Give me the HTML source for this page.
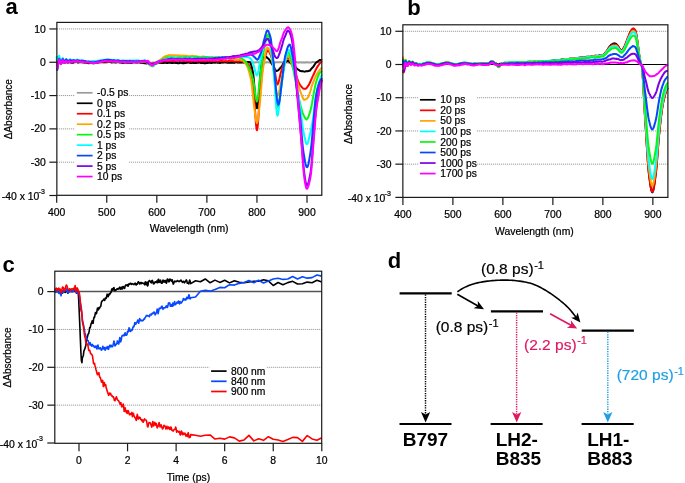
<!DOCTYPE html>
<html><head><meta charset="utf-8"><title>Figure</title>
<style>html,body{margin:0;padding:0;background:#fff;width:685px;height:483px;overflow:hidden}svg{display:block;will-change:transform}</style>
</head><body>
<svg width="685" height="483" viewBox="0 0 685 483" font-family='"Liberation Sans", sans-serif'>
<rect width="685" height="483" fill="#fff"/>
<text x="5.60" y="13.80" font-size="22" text-anchor="start" font-weight="bold" fill="#000" >a</text>
<text x="407.30" y="14.60" font-size="22" text-anchor="start" font-weight="bold" fill="#000" >b</text>
<text x="2.60" y="271.60" font-size="22" text-anchor="start" font-weight="bold" fill="#000" >c</text>
<text x="387.80" y="267.60" font-size="22" text-anchor="start" font-weight="bold" fill="#000" >d</text>
<line x1="56.85" y1="28.95" x2="321.80" y2="28.95" stroke="#8c8c8c" stroke-width="1" stroke-dasharray="1 1"/>
<line x1="56.85" y1="95.57" x2="321.80" y2="95.57" stroke="#8c8c8c" stroke-width="1" stroke-dasharray="1 1"/>
<line x1="56.85" y1="128.88" x2="321.80" y2="128.88" stroke="#8c8c8c" stroke-width="1" stroke-dasharray="1 1"/>
<line x1="56.85" y1="162.19" x2="321.80" y2="162.19" stroke="#8c8c8c" stroke-width="1" stroke-dasharray="1 1"/>
<rect x="75" y="87" width="54" height="95" fill="#fff"/>
<g fill="none" stroke-width="2.0" stroke-linejoin="round">
<path d="M56.70,61.73L57.20,62.46L57.70,62.37L58.20,62.03L58.70,61.59L59.20,61.43L59.70,61.79L60.20,62.18L60.70,62.53L61.21,62.59L61.71,62.29L62.21,62.12L62.71,61.92L63.21,62.19L63.71,62.63L64.21,62.88L64.71,62.89L65.21,62.69L65.71,62.34L66.21,62.01L66.71,62.03L67.21,62.28L67.71,62.50L68.21,62.56L68.71,62.46L69.22,62.24L69.72,62.15L70.22,62.23L70.72,62.39L71.22,62.22L71.72,62.29L72.22,62.16L72.72,61.92L73.22,62.03L73.72,61.94L74.22,61.96L74.72,62.09L75.22,62.19L75.72,62.16L76.22,61.99L76.72,62.12L77.22,61.89L77.73,61.91L78.23,62.14L78.73,61.81L79.23,61.83L79.73,61.96L80.23,61.88L80.73,62.02L81.23,62.14L81.73,62.00L82.23,62.05L82.73,62.07L83.23,61.92L83.73,62.06L84.23,62.05L84.73,62.19L85.23,62.36L85.73,62.44L86.24,62.54L86.74,62.53L87.24,62.47L87.74,62.25L88.24,62.35L88.74,62.45L89.24,62.51L89.74,62.85L90.24,62.79L90.74,62.74L91.24,62.69L91.74,62.44L92.24,62.44L92.74,62.47L93.24,62.62L93.74,62.53L94.25,62.52L94.75,62.49L95.25,62.40L95.75,62.54L96.25,62.48L96.75,62.53L97.25,62.54L97.75,62.53L98.25,62.36L98.75,62.15L99.25,62.12L99.75,61.98L100.25,62.10L100.75,62.02L101.25,61.97L101.75,61.94L102.25,61.99L102.76,62.02L103.26,62.15L103.76,62.38L104.26,62.25L104.76,62.36L105.26,62.16L105.76,61.72L106.26,61.78L106.76,61.75L107.26,61.75L107.76,61.94L108.26,61.88L108.76,61.85L109.26,61.81L109.76,61.82L110.26,61.92L110.76,61.92L111.27,62.00L111.77,62.17L112.27,62.06L112.77,62.15L113.27,62.07L113.77,61.96L114.27,61.99L114.77,61.98L115.27,62.10L115.77,62.33L116.27,62.47L116.77,62.38L117.27,62.59L117.77,62.32L118.27,62.39L118.77,62.36L119.28,62.25L119.78,62.26L120.28,62.09L120.78,62.33L121.28,62.13L121.78,62.07L122.28,62.10L122.78,61.98L123.28,62.13L123.78,62.38L124.28,62.27L124.78,62.31L125.28,62.30L125.78,62.29L126.28,62.46L126.78,62.53L127.28,62.40L127.79,62.34L128.29,62.18L128.79,62.05L129.29,62.25L129.79,62.26L130.29,62.42L130.79,62.42L131.29,62.39L131.79,62.38L132.29,62.46L132.79,62.55L133.29,62.34L133.79,62.38L134.29,62.35L134.79,62.23L135.29,62.26L135.79,62.34L136.30,62.25L136.80,62.35L137.30,62.67L137.80,62.45L138.30,62.43L138.80,62.36L139.30,62.26L139.80,62.28L140.30,62.34L140.80,62.36L141.30,62.39L141.80,62.56L142.30,62.37L142.80,62.41L143.30,62.27L143.80,62.15L144.31,62.33L144.81,62.34L145.31,62.33L145.81,62.39L146.31,62.41L146.81,62.41L147.31,62.42L147.81,62.39L148.31,62.40L148.81,62.52L149.31,62.84L149.81,62.87L150.31,62.86L150.81,62.85L151.31,62.69L151.81,62.71L152.31,62.71L152.82,62.55L153.32,62.57L153.82,62.41L154.32,62.52L154.82,62.43L155.32,62.24L155.82,62.23L156.32,61.87L156.82,61.79L157.32,61.95L157.82,62.21L158.32,62.31L158.82,62.56L159.32,62.45L159.82,62.20L160.32,62.44L160.82,62.55L161.33,62.53L161.83,62.60L162.33,62.47L162.83,62.25L163.33,62.36L163.83,62.52L164.33,62.51L164.83,62.61L165.33,62.69L165.83,62.49L166.33,62.48L166.83,62.34L167.33,62.27L167.83,62.39L168.33,62.48L168.83,62.61L169.34,62.49L169.84,62.51L170.34,62.37L170.84,62.25L171.34,62.07L171.84,62.13L172.34,62.07L172.84,62.12L173.34,62.32L173.84,62.33L174.34,62.46L174.84,62.38L175.34,62.38L175.84,62.23L176.34,62.21L176.84,62.17L177.34,62.17L177.85,62.40L178.35,62.44L178.85,62.75L179.35,63.07L179.85,62.90L180.35,62.70L180.85,62.50L181.35,62.29L181.85,62.33L182.35,62.35L182.85,62.34L183.35,62.22L183.85,62.13L184.35,62.24L184.85,62.18L185.35,62.13L185.85,62.10L186.36,62.21L186.86,62.24L187.36,62.36L187.86,62.27L188.36,62.30L188.86,62.36L189.36,62.29L189.86,62.53L190.36,62.23L190.86,62.08L191.36,62.12L191.86,61.91L192.36,62.05L192.86,62.45L193.36,62.38L193.86,62.46L194.37,62.49L194.87,62.34L195.37,62.39L195.87,62.40L196.37,62.29L196.87,62.15L197.37,62.13L197.87,61.96L198.37,62.13L198.87,62.20L199.37,62.38L199.87,62.38L200.37,62.23L200.87,62.10L201.37,61.85L201.87,61.99L202.37,62.07L202.88,62.19L203.38,62.27L203.88,62.28L204.38,62.15L204.88,62.07L205.38,62.05L205.88,62.12L206.38,62.33L206.88,62.23L207.38,62.17L207.88,62.11L208.38,62.08L208.88,62.35L209.38,62.41L209.88,62.32L210.38,62.33L210.88,62.24L211.39,62.26L211.89,62.33L212.39,62.45L212.89,62.45L213.39,62.52L213.89,62.44L214.39,62.36L214.89,62.28L215.39,62.04L215.89,62.16L216.39,62.14L216.89,62.18L217.39,62.33L217.89,62.40L218.39,62.29L218.89,62.11L219.40,62.14L219.90,62.06L220.40,62.21L220.90,62.38L221.40,62.48L221.90,62.57L222.40,62.34L222.90,62.46L223.40,62.23L223.90,61.96L224.40,62.06L224.90,61.92L225.40,61.83L225.90,62.00L226.40,62.09L226.90,62.28L227.40,62.47L227.91,62.30L228.41,62.15L228.91,62.11L229.41,62.20L229.91,62.39L230.41,62.46L230.91,62.39L231.41,62.28L231.91,62.20L232.41,62.26L232.91,62.24L233.41,62.24L233.91,62.28L234.41,62.20L234.91,62.01L235.41,61.97L235.91,61.96L236.42,62.18L236.92,62.32L237.42,62.58L237.92,62.73L238.42,62.47L238.92,62.44L239.42,62.26L239.92,62.29L240.42,62.41L240.92,62.55L241.42,62.47L241.92,62.08L242.42,62.02L242.92,62.03L243.42,62.21L243.92,62.44L244.43,62.48L244.93,62.52L245.43,62.39L245.93,62.50L246.43,62.37L246.93,62.15L247.43,62.05L247.93,61.98L248.43,62.04L248.93,62.16L249.43,62.31L249.93,62.29L250.43,62.48L250.93,62.61L251.43,62.49L251.93,62.47L252.43,62.32L252.94,62.08L253.44,62.33L253.94,62.39L254.44,62.39L254.94,62.45L255.44,62.32L255.94,62.14L256.44,62.13L256.94,62.30L257.44,62.35L257.94,62.37L258.44,62.35L258.94,62.42L259.44,62.19L259.94,62.21L260.44,62.12L260.94,61.97L261.45,62.13L261.95,62.31L262.45,62.19L262.95,62.17L263.45,61.98L263.95,61.93L264.45,62.17L264.95,62.32L265.45,62.51L265.95,62.35L266.45,62.49L266.95,62.22L267.45,62.15L267.95,62.35L268.45,62.27L268.95,62.43L269.46,62.47L269.96,62.41L270.46,62.45L270.96,62.43L271.46,62.53L271.96,62.60L272.46,62.53L272.96,62.41L273.46,62.46L273.96,62.33L274.46,62.39L274.96,62.58L275.46,62.34L275.96,62.39L276.46,62.17L276.96,62.15L277.46,62.20L277.97,62.17L278.47,62.40L278.97,62.26L279.47,62.31L279.97,62.23L280.47,62.16L280.97,62.33L281.47,62.32L281.97,62.38L282.47,62.28L282.97,62.26L283.47,62.25L283.97,62.43L284.47,62.46L284.97,62.48L285.47,62.66L285.97,62.49L286.48,62.44L286.98,62.49L287.48,62.42L287.98,62.48L288.48,62.71L288.98,62.52L289.48,62.49L289.98,62.49L290.48,62.32L290.98,62.43L291.48,62.31L291.98,62.33L292.48,62.51L292.98,62.62L293.48,62.48L293.98,62.41L294.49,62.27L294.99,62.08L295.49,62.25L295.99,62.22L296.49,62.05L296.99,62.15L297.49,62.32L297.99,62.43L298.49,62.75L298.99,62.58L299.49,62.34L299.99,62.33L300.49,62.34L300.99,62.45L301.49,62.39L301.99,62.58L302.49,62.39L303.00,62.46L303.50,62.49L304.00,62.32L304.50,62.40L305.00,62.44L305.50,62.64L306.00,62.40L306.50,62.29L307.00,62.18L307.50,62.17L308.00,62.49L308.50,62.62L309.00,62.58L309.50,62.50L310.00,62.32L310.50,62.39L311.00,62.40L311.51,62.39L312.01,62.25L312.51,61.95L313.01,61.96L313.51,62.03L314.01,62.17L314.51,62.42L315.01,62.48L315.51,62.41L316.01,62.51L316.51,62.38L317.01,62.32L317.51,62.29L318.01,62.20L318.51,62.34L319.01,62.42L319.51,62.47L320.02,62.51L320.52,62.41L321.02,62.32L321.52,62.43L322.02,62.37" stroke="#9b9b9b"/>
<path d="M56.70,61.68L57.20,62.75L57.70,62.92L58.20,62.51L58.70,61.96L59.20,61.85L59.70,62.12L60.20,62.61L60.70,63.03L61.21,62.97L61.71,62.61L62.21,62.39L62.71,62.14L63.21,62.18L63.71,62.50L64.21,62.55L64.71,62.71L65.21,62.59L65.71,62.30L66.21,62.14L66.71,62.08L67.21,62.37L67.71,62.55L68.21,62.53L68.71,62.36L69.22,62.04L69.72,62.13L70.22,62.15L70.72,62.35L71.22,62.73L71.72,62.58L72.22,62.79L72.72,62.81L73.22,62.55L73.72,62.44L74.22,62.37L74.72,62.28L75.22,62.08L75.72,62.03L76.22,61.96L76.72,61.96L77.22,62.24L77.73,62.49L78.23,62.48L78.73,62.45L79.23,62.33L79.73,62.15L80.23,62.25L80.73,62.31L81.23,62.28L81.73,62.36L82.23,62.23L82.73,62.21L83.23,62.33L83.73,62.37L84.23,62.59L84.73,62.83L85.23,62.78L85.73,62.86L86.24,62.76L86.74,62.79L87.24,62.90L87.74,62.97L88.24,63.12L88.74,63.22L89.24,63.26L89.74,63.14L90.24,63.05L90.74,62.90L91.24,62.89L91.74,62.92L92.24,63.25L92.74,63.21L93.24,63.15L93.74,63.15L94.25,62.68L94.75,62.52L95.25,62.51L95.75,62.52L96.25,62.58L96.75,62.71L97.25,62.70L97.75,62.60L98.25,62.44L98.75,62.36L99.25,62.33L99.75,62.36L100.25,62.38L100.75,62.32L101.25,62.12L101.75,62.18L102.25,62.28L102.76,62.25L103.26,62.27L103.76,62.03L104.26,62.13L104.76,62.18L105.26,62.20L105.76,62.37L106.26,62.37L106.76,62.18L107.26,62.17L107.76,62.06L108.26,61.97L108.76,61.98L109.26,62.07L109.76,62.02L110.26,62.08L110.76,62.29L111.27,62.26L111.77,62.46L112.27,62.32L112.77,62.22L113.27,62.35L113.77,62.29L114.27,62.41L114.77,62.37L115.27,62.35L115.77,62.42L116.27,62.28L116.77,62.16L117.27,61.90L117.77,61.87L118.27,61.98L118.77,62.06L119.28,62.29L119.78,62.41L120.28,62.43L120.78,62.55L121.28,62.63L121.78,62.71L122.28,62.88L122.78,62.87L123.28,62.87L123.78,62.73L124.28,62.57L124.78,62.59L125.28,62.55L125.78,62.49L126.28,62.60L126.78,62.70L127.28,62.77L127.79,62.71L128.29,62.62L128.79,62.66L129.29,62.59L129.79,62.73L130.29,62.65L130.79,62.74L131.29,62.81L131.79,62.82L132.29,62.64L132.79,62.39L133.29,62.29L133.79,62.18L134.29,62.23L134.79,62.35L135.29,62.38L135.79,62.33L136.30,62.48L136.80,62.39L137.30,62.41L137.80,62.34L138.30,62.23L138.80,62.26L139.30,62.15L139.80,62.57L140.30,62.70L140.80,62.80L141.30,62.85L141.80,62.61L142.30,62.74L142.80,62.92L143.30,62.96L143.80,63.13L144.31,63.17L144.81,63.10L145.31,63.23L145.81,63.45L146.31,63.38L146.81,63.38L147.31,63.32L147.81,62.99L148.31,63.20L148.81,63.49L149.31,63.77L149.81,64.16L150.31,64.28L150.81,64.14L151.31,64.28L151.81,64.13L152.31,64.22L152.82,64.17L153.32,63.92L153.82,63.92L154.32,63.69L154.82,63.68L155.32,63.64L155.82,63.68L156.32,63.57L156.82,63.24L157.32,62.90L157.82,62.53L158.32,62.40L158.82,62.61L159.32,62.65L159.82,62.78L160.32,62.85L160.82,62.81L161.33,62.94L161.83,62.98L162.33,62.97L162.83,63.05L163.33,63.09L163.83,62.82L164.33,62.81L164.83,62.72L165.33,62.63L165.83,62.78L166.33,62.89L166.83,62.88L167.33,62.84L167.83,62.88L168.33,62.75L168.83,62.57L169.34,62.73L169.84,62.75L170.34,62.81L170.84,62.81L171.34,62.94L171.84,63.01L172.34,63.01L172.84,63.09L173.34,62.83L173.84,62.63L174.34,62.73L174.84,62.72L175.34,62.81L175.84,63.01L176.34,62.80L176.84,62.96L177.34,63.14L177.85,63.11L178.35,63.31L178.85,63.28L179.35,63.04L179.85,62.97L180.35,62.66L180.85,62.61L181.35,62.80L181.85,62.91L182.35,63.16L182.85,63.26L183.35,63.06L183.85,63.05L184.35,63.15L184.85,62.96L185.35,63.01L185.85,62.91L186.36,62.70L186.86,62.71L187.36,62.69L187.86,62.60L188.36,62.57L188.86,62.59L189.36,62.56L189.86,62.83L190.36,62.88L190.86,62.95L191.36,62.97L191.86,62.96L192.36,62.78L192.86,62.74L193.36,62.88L193.86,62.91L194.37,63.10L194.87,63.12L195.37,63.07L195.87,62.89L196.37,62.93L196.87,62.86L197.37,62.86L197.87,62.87L198.37,62.71L198.87,62.51L199.37,62.53L199.87,62.57L200.37,62.76L200.87,62.93L201.37,62.95L201.87,62.95L202.37,62.86L202.88,63.04L203.38,63.02L203.88,63.01L204.38,63.22L204.88,63.26L205.38,63.21L205.88,63.14L206.38,62.95L206.88,62.98L207.38,62.99L207.88,62.92L208.38,62.84L208.88,62.67L209.38,62.71L209.88,62.73L210.38,62.84L210.88,62.95L211.39,62.94L211.89,62.85L212.39,62.77L212.89,62.54L213.39,62.50L213.89,62.55L214.39,62.63L214.89,62.76L215.39,62.47L215.89,62.48L216.39,62.47L216.89,62.46L217.39,62.68L217.89,62.63L218.39,62.63L218.89,62.79L219.40,62.85L219.90,62.97L220.40,62.91L220.90,62.60L221.40,62.54L221.90,62.46L222.40,62.58L222.90,62.62L223.40,62.44L223.90,62.45L224.40,62.31L224.90,62.38L225.40,62.41L225.90,62.58L226.40,62.61L226.90,62.58L227.40,62.68L227.91,62.63L228.41,62.59L228.91,62.66L229.41,62.72L229.91,62.68L230.41,62.83L230.91,62.80L231.41,62.72L231.91,62.80L232.41,62.71L232.91,62.64L233.41,62.83L233.91,62.71L234.41,62.79L234.91,62.74L235.41,62.40L235.91,62.21L236.42,62.12L236.92,62.16L237.42,62.37L237.92,62.56L238.42,62.38L238.92,62.58L239.42,62.48L239.92,62.49L240.42,62.50L240.92,62.34L241.42,62.51L241.92,62.47L242.42,62.53L242.92,62.51L243.42,62.36L243.92,62.39L244.43,62.62L244.93,62.47L245.43,62.39L245.93,62.26L246.43,61.97L246.93,61.90L247.43,61.96L247.93,62.00L248.43,61.99L248.93,61.95L249.43,62.04L249.93,62.13L250.43,62.96L250.93,64.43L251.43,65.78L251.93,67.83L252.43,70.05L252.94,72.30L253.44,76.02L253.94,81.46L254.44,87.77L254.94,93.84L255.44,98.71L255.94,103.02L256.44,106.58L256.94,108.19L257.44,106.78L257.94,103.16L258.44,99.00L258.94,93.88L259.44,87.24L259.94,80.15L260.44,73.61L260.94,68.89L261.45,65.38L261.95,62.25L262.45,60.00L262.95,58.43L263.45,57.85L263.95,57.24L264.45,56.84L264.95,56.56L265.45,56.19L265.95,56.57L266.45,56.92L266.95,57.44L267.45,58.03L267.95,58.29L268.45,58.72L268.95,59.30L269.46,59.96L269.96,60.77L270.46,61.43L270.96,62.48L271.46,63.26L271.96,64.09L272.46,64.86L272.96,65.52L273.46,66.59L273.96,67.38L274.46,68.47L274.96,69.37L275.46,70.16L275.96,70.76L276.46,70.99L276.96,70.93L277.46,70.69L277.97,70.32L278.47,69.96L278.97,69.57L279.47,68.92L279.97,68.30L280.47,67.72L280.97,67.15L281.47,66.57L281.97,65.86L282.47,65.04L282.97,64.04L283.47,63.28L283.97,62.62L284.47,62.23L284.97,62.07L285.47,61.78L285.97,61.68L286.48,61.24L286.98,61.13L287.48,60.91L287.98,60.75L288.48,61.11L288.98,61.45L289.48,61.95L289.98,62.48L290.48,62.84L290.98,63.23L291.48,63.83L291.98,64.23L292.48,64.85L292.98,65.19L293.48,65.48L293.98,65.94L294.49,66.16L294.99,66.58L295.49,67.06L295.99,67.57L296.49,68.08L296.99,68.79L297.49,69.24L297.99,69.40L298.49,69.87L298.99,70.04L299.49,70.45L299.99,70.87L300.49,70.99L300.99,71.20L301.49,71.13L301.99,71.10L302.49,71.14L303.00,71.21L303.50,71.42L304.00,71.58L304.50,71.64L305.00,71.55L305.50,71.43L306.00,71.25L306.50,71.35L307.00,71.36L307.50,71.15L308.00,71.23L308.50,70.97L309.00,70.81L309.50,70.87L310.00,70.57L310.50,69.85L311.00,69.20L311.51,68.59L312.01,68.05L312.51,67.67L313.01,67.02L313.51,66.37L314.01,65.69L314.51,64.82L315.01,64.05L315.51,63.24L316.01,62.58L316.51,62.24L317.01,61.97L317.51,61.83L318.01,61.33L318.51,60.96L319.01,60.62L319.51,60.07L320.02,59.97L320.52,60.03L321.02,60.01L321.52,60.13L322.02,60.42" stroke="#000000"/>
<path d="M56.70,60.77L57.20,61.96L57.70,61.97L58.20,61.07L58.70,60.59L59.20,60.58L59.70,61.31L60.20,62.31L60.70,62.61L61.21,62.57L61.71,61.97L62.21,61.30L62.71,61.09L63.21,61.35L63.71,61.58L64.21,61.78L64.71,61.95L65.21,61.52L65.71,61.08L66.21,61.05L66.71,60.99L67.21,61.33L67.71,61.88L68.21,62.01L68.71,61.91L69.22,61.58L69.72,61.41L70.22,61.47L70.72,61.69L71.22,61.93L71.72,62.02L72.22,61.91L72.72,61.54L73.22,61.39L73.72,61.25L74.22,61.28L74.72,61.48L75.22,61.57L75.72,61.62L76.22,61.49L76.72,61.53L77.22,61.37L77.73,61.38L78.23,61.60L78.73,61.59L79.23,61.80L79.73,61.76L80.23,61.73L80.73,61.58L81.23,61.64L81.73,61.96L82.23,62.02L82.73,62.38L83.23,62.32L83.73,61.99L84.23,61.88L84.73,61.86L85.23,62.00L85.73,61.98L86.24,62.05L86.74,61.94L87.24,61.77L87.74,61.73L88.24,61.68L88.74,61.72L89.24,61.85L89.74,62.08L90.24,62.31L90.74,62.45L91.24,62.51L91.74,62.69L92.24,62.65L92.74,62.55L93.24,62.32L93.74,62.29L94.25,62.27L94.75,62.25L95.25,62.40L95.75,62.17L96.25,62.16L96.75,62.18L97.25,62.33L97.75,62.47L98.25,62.31L98.75,62.17L99.25,62.06L99.75,61.96L100.25,61.95L100.75,61.84L101.25,61.73L101.75,61.65L102.25,61.77L102.76,61.87L103.26,61.59L103.76,61.73L104.26,61.53L104.76,61.36L105.26,61.54L105.76,61.39L106.26,61.36L106.76,61.39L107.26,61.37L107.76,61.49L108.26,61.51L108.76,61.61L109.26,61.67L109.76,61.48L110.26,61.43L110.76,61.27L111.27,61.29L111.77,61.25L112.27,61.22L112.77,61.22L113.27,61.05L113.77,61.18L114.27,61.34L114.77,61.40L115.27,61.69L115.77,61.68L116.27,61.73L116.77,61.87L117.27,61.92L117.77,62.05L118.27,62.01L118.77,61.90L119.28,61.65L119.78,61.59L120.28,61.62L120.78,61.81L121.28,61.89L121.78,61.92L122.28,61.85L122.78,61.61L123.28,61.67L123.78,61.81L124.28,61.96L124.78,62.29L125.28,62.42L125.78,62.14L126.28,62.04L126.78,62.05L127.28,61.86L127.79,61.86L128.29,61.92L128.79,61.84L129.29,61.94L129.79,62.04L130.29,61.94L130.79,61.75L131.29,61.60L131.79,61.51L132.29,61.43L132.79,61.49L133.29,61.76L133.79,61.89L134.29,62.00L134.79,62.10L135.29,61.86L135.79,61.88L136.30,62.00L136.80,61.82L137.30,61.84L137.80,61.79L138.30,61.60L138.80,61.64L139.30,61.67L139.80,61.94L140.30,62.10L140.80,62.25L141.30,62.38L141.80,62.12L142.30,61.93L142.80,61.93L143.30,61.95L143.80,61.77L144.31,61.93L144.81,62.03L145.31,61.97L145.81,62.24L146.31,62.40L146.81,62.37L147.31,62.63L147.81,62.96L148.31,63.07L148.81,63.27L149.31,63.47L149.81,63.51L150.31,63.68L150.81,63.59L151.31,63.66L151.81,63.59L152.31,63.56L152.82,63.79L153.32,63.56L153.82,63.48L154.32,63.20L154.82,62.99L155.32,62.95L155.82,62.91L156.32,62.80L156.82,62.59L157.32,62.22L157.82,61.97L158.32,61.78L158.82,61.57L159.32,61.61L159.82,61.74L160.32,61.90L160.82,62.13L161.33,61.93L161.83,61.80L162.33,61.50L162.83,61.25L163.33,61.18L163.83,60.94L164.33,61.02L164.83,61.05L165.33,61.17L165.83,61.21L166.33,61.21L166.83,61.16L167.33,60.97L167.83,61.12L168.33,61.01L168.83,61.08L169.34,61.20L169.84,60.92L170.34,60.94L170.84,60.76L171.34,60.93L171.84,60.90L172.34,60.96L172.84,60.97L173.34,60.80L173.84,61.17L174.34,61.18L174.84,61.22L175.34,61.09L175.84,60.80L176.34,60.70L176.84,60.87L177.34,60.88L177.85,60.73L178.35,60.75L178.85,60.64L179.35,60.94L179.85,61.04L180.35,60.77L180.85,60.68L181.35,60.39L181.85,60.43L182.35,60.80L182.85,60.74L183.35,60.99L183.85,61.07L184.35,60.95L184.85,60.99L185.35,60.83L185.85,60.77L186.36,60.88L186.86,61.10L187.36,61.14L187.86,61.25L188.36,61.31L188.86,61.31L189.36,61.37L189.86,61.48L190.36,61.49L190.86,61.53L191.36,61.47L191.86,61.24L192.36,60.91L192.86,60.90L193.36,60.99L193.86,60.94L194.37,61.17L194.87,61.06L195.37,60.82L195.87,60.95L196.37,61.04L196.87,61.15L197.37,61.29L197.87,61.23L198.37,61.25L198.87,61.22L199.37,61.20L199.87,61.18L200.37,61.11L200.87,60.95L201.37,60.95L201.87,61.19L202.37,61.16L202.88,61.18L203.38,61.30L203.88,61.34L204.38,61.34L204.88,61.31L205.38,61.10L205.88,61.10L206.38,60.82L206.88,61.01L207.38,61.07L207.88,60.73L208.38,60.90L208.88,60.77L209.38,60.98L209.88,61.05L210.38,61.22L210.88,61.49L211.39,61.09L211.89,61.08L212.39,60.83L212.89,60.67L213.39,60.81L213.89,60.72L214.39,60.75L214.89,60.66L215.39,60.93L215.89,61.11L216.39,61.49L216.89,61.65L217.39,61.53L217.89,61.61L218.39,61.41L218.89,61.25L219.40,61.07L219.90,60.84L220.40,60.83L220.90,60.70L221.40,60.97L221.90,61.13L222.40,61.04L222.90,61.28L223.40,61.24L223.90,61.34L224.40,61.42L224.90,61.13L225.40,61.18L225.90,61.03L226.40,61.13L226.90,61.41L227.40,61.46L227.91,61.34L228.41,61.01L228.91,60.85L229.41,60.80L229.91,60.88L230.41,61.15L230.91,61.12L231.41,61.03L231.91,61.07L232.41,60.98L232.91,61.12L233.41,61.19L233.91,61.40L234.41,61.50L234.91,61.59L235.41,61.57L235.91,61.50L236.42,61.45L236.92,61.26L237.42,61.40L237.92,61.39L238.42,61.49L238.92,61.47L239.42,61.16L239.92,61.00L240.42,60.95L240.92,60.88L241.42,61.21L241.92,61.15L242.42,61.21L242.92,61.69L243.42,61.38L243.92,61.50L244.43,61.70L244.93,61.59L245.43,62.09L245.93,62.48L246.43,62.79L246.93,63.15L247.43,63.46L247.93,63.99L248.43,64.42L248.93,65.21L249.43,66.04L249.93,67.31L250.43,68.72L250.93,70.86L251.43,74.11L251.93,77.55L252.43,81.87L252.94,86.18L253.44,90.79L253.94,95.72L254.44,101.43L254.94,108.85L255.44,116.59L255.94,123.34L256.44,128.25L256.94,130.18L257.44,128.40L257.94,123.67L258.44,117.04L258.94,109.28L259.44,101.47L259.94,95.13L260.44,89.51L260.94,83.76L261.45,78.37L261.95,73.29L262.45,69.01L262.95,65.91L263.45,63.53L263.95,61.14L264.45,58.98L264.95,57.04L265.45,55.40L265.95,53.83L266.45,52.53L266.95,51.43L267.45,50.66L267.95,50.48L268.45,50.75L268.95,51.40L269.46,52.04L269.96,53.37L270.46,54.46L270.96,55.71L271.46,57.33L271.96,58.52L272.46,60.07L272.96,62.17L273.46,64.26L273.96,66.64L274.46,69.11L274.96,71.83L275.46,75.22L275.96,78.57L276.46,81.54L276.96,83.83L277.46,84.46L277.97,83.87L278.47,82.53L278.97,80.53L279.47,78.50L279.97,76.22L280.47,74.04L280.97,72.34L281.47,70.64L281.97,68.75L282.47,67.36L282.97,65.55L283.47,64.18L283.97,63.28L284.47,61.99L284.97,61.39L285.47,60.61L285.97,59.70L286.48,59.21L286.98,58.62L287.48,58.29L287.98,58.36L288.48,58.36L288.98,58.89L289.48,59.51L289.98,60.44L290.48,61.43L290.98,62.24L291.48,63.54L291.98,64.52L292.48,65.93L292.98,67.28L293.48,68.22L293.98,69.71L294.49,71.07L294.99,72.17L295.49,73.63L295.99,74.76L296.49,76.07L296.99,77.78L297.49,79.24L297.99,80.66L298.49,81.88L298.99,82.95L299.49,83.91L299.99,84.82L300.49,85.63L300.99,86.07L301.49,86.69L301.99,87.36L302.49,87.85L303.00,88.40L303.50,88.65L304.00,88.76L304.50,88.85L305.00,88.84L305.50,88.86L306.00,88.65L306.50,88.06L307.00,87.61L307.50,86.84L308.00,85.98L308.50,85.40L309.00,84.63L309.50,83.55L310.00,82.55L310.50,81.48L311.00,80.16L311.51,79.06L312.01,77.94L312.51,76.68L313.01,75.64L313.51,74.79L314.01,73.60L314.51,72.50L315.01,71.42L315.51,70.31L316.01,69.31L316.51,68.35L317.01,67.46L317.51,66.64L318.01,65.79L318.51,65.18L319.01,64.52L319.51,63.61L320.02,63.12L320.52,62.46L321.02,61.79L321.52,61.47L322.02,60.99" stroke="#ff0000"/>
<path d="M56.70,57.49L57.20,61.73L57.70,62.36L58.20,60.40L58.70,58.33L59.20,57.64L59.70,58.97L60.20,61.44L60.70,63.21L61.21,63.32L61.71,62.18L62.21,60.47L62.71,59.49L63.21,60.07L63.71,61.33L64.21,62.39L64.71,62.75L65.21,61.91L65.71,60.92L66.21,60.46L66.71,60.60L67.21,61.14L67.71,61.82L68.21,62.04L68.71,61.70L69.22,61.28L69.72,60.70L70.22,60.62L70.72,60.74L71.22,61.18L71.72,61.32L72.22,61.16L72.72,60.93L73.22,60.77L73.72,60.86L74.22,61.09L74.72,61.46L75.22,61.71L75.72,61.56L76.22,61.39L76.72,61.19L77.22,60.93L77.73,61.13L78.23,61.23L78.73,61.46L79.23,61.54L79.73,61.40L80.23,61.32L80.73,61.20L81.23,61.24L81.73,61.49L82.23,61.64L82.73,61.54L83.23,61.58L83.73,61.30L84.23,61.21L84.73,61.43L85.23,61.34L85.73,61.74L86.24,62.06L86.74,62.15L87.24,62.26L87.74,62.16L88.24,62.08L88.74,62.02L89.24,62.28L89.74,62.27L90.24,62.39L90.74,62.48L91.24,62.32L91.74,62.51L92.24,62.53L92.74,62.60L93.24,62.56L93.74,62.37L94.25,62.13L94.75,62.07L95.25,62.10L95.75,62.21L96.25,62.18L96.75,62.23L97.25,61.97L97.75,61.85L98.25,61.91L98.75,61.61L99.25,61.58L99.75,61.44L100.25,61.20L100.75,61.15L101.25,61.05L101.75,60.88L102.25,60.92L102.76,60.71L103.26,60.76L103.76,60.81L104.26,60.85L104.76,60.98L105.26,60.89L105.76,61.02L106.26,60.86L106.76,60.80L107.26,60.87L107.76,60.97L108.26,61.06L108.76,61.04L109.26,61.17L109.76,60.96L110.26,61.21L110.76,61.23L111.27,61.25L111.77,61.20L112.27,61.17L112.77,61.20L113.27,61.18L113.77,61.21L114.27,61.15L114.77,61.31L115.27,61.08L115.77,61.27L116.27,61.27L116.77,61.25L117.27,61.59L117.77,61.41L118.27,61.19L118.77,61.25L119.28,61.34L119.78,61.36L120.28,61.44L120.78,61.31L121.28,61.04L121.78,61.27L122.28,61.41L122.78,61.65L123.28,61.92L123.78,61.75L124.28,61.81L124.78,61.46L125.28,61.32L125.78,61.48L126.28,61.34L126.78,61.39L127.28,61.35L127.79,61.41L128.29,61.45L128.79,61.49L129.29,61.59L129.79,61.55L130.29,61.48L130.79,61.60L131.29,61.67L131.79,61.63L132.29,61.80L132.79,61.79L133.29,61.67L133.79,61.51L134.29,61.37L134.79,61.55L135.29,61.52L135.79,61.55L136.30,61.57L136.80,61.32L137.30,61.41L137.80,61.58L138.30,61.51L138.80,61.70L139.30,61.83L139.80,61.60L140.30,61.74L140.80,61.63L141.30,61.52L141.80,61.72L142.30,61.74L142.80,61.72L143.30,61.52L143.80,61.61L144.31,61.41L144.81,61.54L145.31,61.83L145.81,61.74L146.31,62.10L146.81,62.46L147.31,62.54L147.81,63.08L148.31,63.46L148.81,63.69L149.31,64.12L149.81,64.45L150.31,64.70L150.81,65.07L151.31,65.31L151.81,65.48L152.31,65.67L152.82,65.35L153.32,65.27L153.82,64.93L154.32,64.35L154.82,64.11L155.32,63.78L155.82,63.25L156.32,63.09L156.82,62.50L157.32,61.80L157.82,61.44L158.32,60.92L158.82,60.60L159.32,60.36L159.82,60.07L160.32,59.59L160.82,59.44L161.33,59.11L161.83,58.67L162.33,58.37L162.83,57.77L163.33,57.49L163.83,57.04L164.33,56.71L164.83,56.51L165.33,56.26L165.83,56.21L166.33,55.97L166.83,55.86L167.33,55.63L167.83,55.38L168.33,55.31L168.83,55.06L169.34,55.10L169.84,55.32L170.34,55.32L170.84,55.46L171.34,55.32L171.84,55.22L172.34,55.21L172.84,55.16L173.34,55.21L173.84,55.17L174.34,55.27L174.84,55.34L175.34,55.40L175.84,55.36L176.34,55.47L176.84,55.33L177.34,55.38L177.85,55.40L178.35,55.37L178.85,55.59L179.35,55.39L179.85,55.53L180.35,55.67L180.85,55.73L181.35,55.99L181.85,55.76L182.35,55.63L182.85,55.48L183.35,55.57L183.85,55.77L184.35,55.74L184.85,55.67L185.35,55.66L185.85,55.66L186.36,55.71L186.86,56.01L187.36,55.96L187.86,56.07L188.36,56.36L188.86,56.22L189.36,56.19L189.86,56.23L190.36,56.16L190.86,56.10L191.36,56.16L191.86,56.04L192.36,55.80L192.86,56.03L193.36,56.01L193.86,56.17L194.37,56.35L194.87,56.34L195.37,56.45L195.87,56.36L196.37,56.37L196.87,56.42L197.37,56.48L197.87,56.60L198.37,56.74L198.87,56.81L199.37,56.82L199.87,56.95L200.37,56.91L200.87,56.96L201.37,56.79L201.87,56.64L202.37,56.62L202.88,56.61L203.38,56.62L203.88,56.76L204.38,56.85L204.88,56.85L205.38,57.08L205.88,57.00L206.38,57.03L206.88,56.88L207.38,57.04L207.88,57.14L208.38,57.27L208.88,57.33L209.38,57.31L209.88,57.41L210.38,57.25L210.88,57.34L211.39,57.45L211.89,57.51L212.39,57.77L212.89,57.91L213.39,57.84L213.89,57.87L214.39,57.83L214.89,57.91L215.39,58.01L215.89,57.95L216.39,57.76L216.89,57.95L217.39,57.92L217.89,58.04L218.39,58.18L218.89,58.11L219.40,58.15L219.90,58.24L220.40,58.25L220.90,58.18L221.40,58.22L221.90,58.11L222.40,58.24L222.90,58.44L223.40,58.40L223.90,58.45L224.40,58.48L224.90,58.26L225.40,58.24L225.90,58.42L226.40,58.52L226.90,58.51L227.40,58.53L227.91,58.53L228.41,58.61L228.91,58.86L229.41,59.09L229.91,59.21L230.41,59.12L230.91,59.22L231.41,59.33L231.91,59.11L232.41,59.22L232.91,59.13L233.41,58.99L233.91,59.04L234.41,59.05L234.91,59.08L235.41,59.27L235.91,59.23L236.42,59.19L236.92,59.36L237.42,59.34L237.92,59.51L238.42,59.60L238.92,59.38L239.42,59.32L239.92,59.54L240.42,59.69L240.92,60.10L241.42,60.31L241.92,60.36L242.42,60.25L242.92,60.39L243.42,60.99L243.92,61.52L244.43,62.30L244.93,63.01L245.43,63.52L245.93,64.16L246.43,64.91L246.93,65.74L247.43,66.84L247.93,67.99L248.43,69.50L248.93,71.12L249.43,72.91L249.93,74.97L250.43,76.91L250.93,79.23L251.43,82.03L251.93,85.86L252.43,90.63L252.94,95.45L253.44,100.52L253.94,105.05L254.44,108.74L254.94,112.34L255.44,116.14L255.94,119.71L256.44,122.12L256.94,122.90L257.44,121.75L257.94,119.00L258.44,115.48L258.94,111.29L259.44,106.67L259.94,102.27L260.44,97.42L260.94,91.35L261.45,84.83L261.95,78.74L262.45,73.19L262.95,69.01L263.45,65.78L263.95,62.51L264.45,59.03L264.95,56.03L265.45,53.31L265.95,50.60L266.45,48.92L266.95,47.90L267.45,47.44L267.95,47.94L268.45,48.53L268.95,49.19L269.46,50.25L269.96,51.37L270.46,52.44L270.96,53.78L271.46,55.54L271.96,58.13L272.46,61.48L272.96,64.96L273.46,68.62L273.96,71.88L274.46,75.68L274.96,80.15L275.46,84.77L275.96,89.24L276.46,92.67L276.96,94.96L277.46,95.81L277.97,95.28L278.47,94.04L278.97,92.31L279.47,89.99L279.97,87.41L280.47,84.97L280.97,82.52L281.47,80.03L281.97,77.46L282.47,74.58L282.97,71.88L283.47,68.93L283.97,66.45L284.47,63.97L284.97,61.99L285.47,60.67L285.97,59.13L286.48,57.78L286.98,56.53L287.48,55.81L287.98,55.44L288.48,55.76L288.98,56.76L289.48,57.69L289.98,59.14L290.48,60.67L290.98,62.19L291.48,63.46L291.98,64.82L292.48,66.50L292.98,67.83L293.48,69.54L293.98,70.78L294.49,72.12L294.99,73.70L295.49,75.30L295.99,77.08L296.49,78.84L296.99,80.52L297.49,82.30L297.99,84.21L298.49,85.84L298.99,87.47L299.49,89.02L299.99,90.25L300.49,91.85L300.99,93.22L301.49,94.49L301.99,95.99L302.49,97.18L303.00,98.37L303.50,99.24L304.00,99.69L304.50,99.77L305.00,99.58L305.50,99.47L306.00,99.19L306.50,98.96L307.00,98.48L307.50,97.86L308.00,97.34L308.50,96.25L309.00,95.07L309.50,93.90L310.00,92.20L310.50,90.72L311.00,88.95L311.51,86.79L312.01,85.42L312.51,83.96L313.01,82.78L313.51,81.69L314.01,80.29L314.51,78.92L315.01,77.80L315.51,76.54L316.01,75.65L316.51,74.78L317.01,73.71L317.51,73.01L318.01,72.24L318.51,71.59L319.01,71.05L319.51,70.45L320.02,69.61L320.52,69.09L321.02,68.46L321.52,67.92L322.02,67.57" stroke="#ffa500"/>
<path d="M56.70,59.32L57.20,61.80L57.70,61.55L58.20,60.36L58.70,59.16L59.20,59.34L59.70,60.60L60.20,62.25L60.70,62.95L61.21,62.49L61.71,61.40L62.21,60.26L62.71,60.22L63.21,60.98L63.71,61.97L64.21,62.50L64.71,62.34L65.21,61.70L65.71,60.96L66.21,60.77L66.71,61.01L67.21,61.25L67.71,61.59L68.21,61.55L68.71,61.37L69.22,61.25L69.72,61.24L70.22,61.24L70.72,61.47L71.22,61.61L71.72,61.57L72.22,61.45L72.72,60.96L73.22,60.85L73.72,60.84L74.22,61.11L74.72,61.35L75.22,61.45L75.72,61.45L76.22,61.34L76.72,61.45L77.22,61.29L77.73,61.01L78.23,61.10L78.73,60.94L79.23,60.95L79.73,61.25L80.23,61.12L80.73,61.25L81.23,61.43L81.73,61.25L82.23,61.50L82.73,61.48L83.23,61.38L83.73,61.62L84.23,61.44L84.73,61.47L85.23,61.58L85.73,61.56L86.24,61.55L86.74,61.85L87.24,61.73L87.74,61.58L88.24,61.61L88.74,61.38L89.24,61.75L89.74,62.05L90.24,62.27L90.74,62.45L91.24,62.24L91.74,62.34L92.24,62.30L92.74,62.46L93.24,62.57L93.74,62.45L94.25,62.47L94.75,62.30L95.25,62.04L95.75,62.12L96.25,62.10L96.75,62.05L97.25,62.05L97.75,61.64L98.25,61.43L98.75,61.35L99.25,61.46L99.75,61.51L100.25,61.56L100.75,61.27L101.25,61.00L101.75,61.01L102.25,60.76L102.76,60.75L103.26,60.67L103.76,60.71L104.26,60.60L104.76,60.67L105.26,60.87L105.76,60.74L106.26,60.89L106.76,60.96L107.26,61.05L107.76,61.17L108.26,61.02L108.76,60.74L109.26,60.54L109.76,60.35L110.26,60.57L110.76,60.81L111.27,60.87L111.77,61.13L112.27,61.20L112.77,61.22L113.27,61.31L113.77,61.34L114.27,61.23L114.77,61.29L115.27,61.18L115.77,61.10L116.27,61.19L116.77,61.18L117.27,61.32L117.77,61.40L118.27,61.43L118.77,61.39L119.28,61.33L119.78,61.16L120.28,61.31L120.78,61.45L121.28,61.58L121.78,61.71L122.28,61.60L122.78,61.63L123.28,61.53L123.78,61.55L124.28,61.63L124.78,61.46L125.28,61.45L125.78,61.53L126.28,61.33L126.78,61.54L127.28,61.53L127.79,61.49L128.29,61.66L128.79,61.62L129.29,61.81L129.79,61.77L130.29,61.67L130.79,61.63L131.29,61.61L131.79,61.99L132.29,62.00L132.79,62.20L133.29,62.12L133.79,61.64L134.29,61.62L134.79,61.47L135.29,61.51L135.79,61.64L136.30,61.72L136.80,61.74L137.30,61.81L137.80,61.66L138.30,61.59L138.80,61.41L139.30,61.32L139.80,61.40L140.30,61.38L140.80,61.40L141.30,61.26L141.80,61.21L142.30,61.23L142.80,61.33L143.30,61.23L143.80,61.27L144.31,61.23L144.81,61.06L145.31,61.26L145.81,61.41L146.31,61.72L146.81,61.99L147.31,62.45L147.81,62.87L148.31,63.28L148.81,64.09L149.31,64.69L149.81,65.09L150.31,65.39L150.81,65.57L151.31,65.78L151.81,66.12L152.31,66.24L152.82,66.31L153.32,65.96L153.82,65.47L154.32,64.86L154.82,64.28L155.32,64.03L155.82,63.81L156.32,64.00L156.82,63.69L157.32,63.21L157.82,62.61L158.32,61.81L158.82,61.35L159.32,61.02L159.82,60.80L160.32,60.45L160.82,60.34L161.33,60.14L161.83,60.07L162.33,59.78L162.83,59.28L163.33,58.90L163.83,58.62L164.33,58.53L164.83,58.45L165.33,58.30L165.83,58.00L166.33,57.79L166.83,57.65L167.33,57.44L167.83,57.29L168.33,57.29L168.83,57.21L169.34,57.32L169.84,57.27L170.34,57.26L170.84,57.22L171.34,57.22L171.84,57.45L172.34,57.33L172.84,57.47L173.34,57.36L173.84,57.17L174.34,57.42L174.84,57.41L175.34,57.53L175.84,57.66L176.34,57.61L176.84,57.44L177.34,57.41L177.85,57.29L178.35,57.22L178.85,57.26L179.35,57.31L179.85,57.35L180.35,57.25L180.85,57.28L181.35,57.25L181.85,57.36L182.35,57.40L182.85,57.37L183.35,57.35L183.85,57.31L184.35,57.28L184.85,57.06L185.35,57.07L185.85,56.96L186.36,56.97L186.86,57.48L187.36,57.44L187.86,57.54L188.36,57.44L188.86,57.21L189.36,57.30L189.86,57.25L190.36,57.37L190.86,57.40L191.36,57.33L191.86,57.44L192.36,57.48L192.86,57.35L193.36,57.15L193.86,56.94L194.37,56.89L194.87,56.85L195.37,56.95L195.87,56.85L196.37,56.77L196.87,56.90L197.37,56.97L197.87,57.12L198.37,57.20L198.87,57.17L199.37,57.27L199.87,57.50L200.37,57.60L200.87,57.82L201.37,57.74L201.87,57.53L202.37,57.63L202.88,57.35L203.38,57.28L203.88,57.27L204.38,56.93L204.88,56.81L205.38,57.02L205.88,56.93L206.38,57.05L206.88,57.19L207.38,56.98L207.88,57.16L208.38,57.26L208.88,57.38L209.38,57.55L209.88,57.49L210.38,57.58L210.88,57.60L211.39,57.47L211.89,57.46L212.39,57.28L212.89,57.36L213.39,57.50L213.89,57.55L214.39,57.58L214.89,57.45L215.39,57.28L215.89,57.23L216.39,57.23L216.89,57.17L217.39,57.20L217.89,57.24L218.39,57.13L218.89,57.08L219.40,57.14L219.90,57.09L220.40,57.15L220.90,57.09L221.40,57.01L221.90,56.98L222.40,56.94L222.90,57.03L223.40,57.00L223.90,57.04L224.40,57.34L224.90,57.21L225.40,57.33L225.90,57.44L226.40,57.26L226.90,57.48L227.40,57.28L227.91,57.11L228.41,57.25L228.91,57.11L229.41,57.36L229.91,57.21L230.41,57.16L230.91,57.44L231.41,57.40L231.91,57.62L232.41,57.56L232.91,57.55L233.41,57.51L233.91,57.31L234.41,57.46L234.91,57.13L235.41,57.23L235.91,57.16L236.42,56.92L236.92,57.06L237.42,56.91L237.92,57.13L238.42,57.31L238.92,57.31L239.42,57.59L239.92,57.96L240.42,57.86L240.92,58.14L241.42,58.34L241.92,58.34L242.42,58.92L242.92,59.25L243.42,59.53L243.92,60.03L244.43,60.38L244.93,60.74L245.43,61.42L245.93,62.07L246.43,62.82L246.93,63.88L247.43,64.68L247.93,65.71L248.43,66.59L248.93,67.45L249.43,68.56L249.93,69.79L250.43,71.15L250.93,72.64L251.43,74.04L251.93,75.48L252.43,77.24L252.94,78.85L253.44,81.20L253.94,84.43L254.44,87.90L254.94,91.80L255.44,95.46L255.94,98.36L256.44,100.60L256.94,101.37L257.44,100.23L257.94,97.12L258.44,92.68L258.94,87.82L259.44,82.77L259.94,78.63L260.44,74.76L260.94,70.44L261.45,66.33L261.95,62.02L262.45,58.34L262.95,55.42L263.45,52.50L263.95,49.91L264.45,47.13L264.95,44.58L265.45,42.08L265.95,39.71L266.45,37.70L266.95,35.85L267.45,34.85L267.95,34.60L268.45,35.03L268.95,36.40L269.46,38.39L269.96,40.50L270.46,43.02L270.96,45.63L271.46,48.64L271.96,52.76L272.46,57.51L272.96,62.32L273.46,67.47L273.96,72.49L274.46,77.91L274.96,84.11L275.46,90.86L275.96,96.98L276.46,102.10L276.96,105.87L277.46,107.20L277.97,106.60L278.47,104.87L278.97,102.23L279.47,98.99L279.97,95.61L280.47,92.07L280.97,88.88L281.47,85.64L281.97,82.11L282.47,78.50L282.97,74.87L283.47,71.18L283.97,67.83L284.47,64.82L284.97,62.31L285.47,60.18L285.97,57.69L286.48,55.52L286.98,53.74L287.48,52.36L287.98,52.07L288.48,52.39L288.98,53.12L289.48,54.34L289.98,55.56L290.48,57.27L290.98,59.06L291.48,60.83L291.98,63.00L292.48,65.05L292.98,67.40L293.48,70.16L293.98,72.77L294.49,75.61L294.99,78.37L295.49,80.66L295.99,83.43L296.49,86.01L296.99,88.53L297.49,91.27L297.99,93.85L298.49,96.25L298.99,98.67L299.49,101.17L299.99,103.24L300.49,105.35L300.99,107.24L301.49,109.00L301.99,110.86L302.49,112.60L303.00,113.77L303.50,114.86L304.00,115.95L304.50,116.91L305.00,117.89L305.50,118.64L306.00,119.11L306.50,119.44L307.00,119.27L307.50,118.47L308.00,117.64L308.50,116.34L309.00,114.93L309.50,113.59L310.00,111.99L310.50,110.42L311.00,108.29L311.51,106.00L312.01,103.43L312.51,100.38L313.01,97.63L313.51,94.71L314.01,91.82L314.51,89.39L315.01,86.81L315.51,84.55L316.01,82.65L316.51,80.79L317.01,79.23L317.51,77.78L318.01,76.39L318.51,75.04L319.01,73.99L319.51,73.16L320.02,72.65L320.52,72.18L321.02,71.71L321.52,71.17L322.02,70.73" stroke="#0af514"/>
<path d="M56.70,56.21L57.20,60.96L57.70,61.24L58.20,58.93L58.70,56.35L59.20,55.79L59.70,57.97L60.20,60.89L60.70,62.83L61.21,62.87L61.71,60.92L62.21,59.06L62.71,58.01L63.21,58.75L63.71,60.22L64.21,61.50L64.71,61.74L65.21,60.83L65.71,59.90L66.21,59.09L66.71,59.35L67.21,60.27L67.71,60.87L68.21,61.18L68.71,60.75L69.22,59.80L69.72,59.35L70.22,59.49L70.72,59.84L71.22,60.37L71.72,60.68L72.22,60.38L72.72,60.26L73.22,60.08L73.72,59.94L74.22,60.13L74.72,60.42L75.22,60.51L75.72,60.33L76.22,60.07L76.72,59.77L77.22,59.52L77.73,59.76L78.23,59.94L78.73,60.09L79.23,60.39L79.73,60.44L80.23,60.37L80.73,60.31L81.23,60.23L81.73,60.23L82.23,60.31L82.73,60.33L83.23,60.45L83.73,60.69L84.23,60.77L84.73,60.97L85.23,61.06L85.73,60.99L86.24,61.13L86.74,61.16L87.24,61.10L87.74,61.08L88.24,61.09L88.74,61.03L89.24,61.16L89.74,61.35L90.24,61.33L90.74,61.21L91.24,61.27L91.74,61.09L92.24,61.00L92.74,61.07L93.24,61.09L93.74,60.98L94.25,61.04L94.75,61.15L95.25,61.03L95.75,61.11L96.25,61.06L96.75,60.98L97.25,60.74L97.75,60.78L98.25,60.80L98.75,60.62L99.25,60.61L99.75,60.37L100.25,60.29L100.75,60.17L101.25,60.08L101.75,59.91L102.25,59.82L102.76,59.81L103.26,59.80L103.76,60.06L104.26,59.94L104.76,59.79L105.26,59.77L105.76,59.67L106.26,59.51L106.76,59.54L107.26,59.41L107.76,59.43L108.26,59.54L108.76,59.56L109.26,59.75L109.76,59.77L110.26,59.72L110.76,59.70L111.27,59.78L111.77,60.00L112.27,60.27L112.77,60.56L113.27,60.49L113.77,60.21L114.27,60.12L114.77,60.12L115.27,60.12L115.77,60.31L116.27,60.33L116.77,60.34L117.27,60.11L117.77,59.96L118.27,60.07L118.77,60.13L119.28,60.47L119.78,60.74L120.28,60.76L120.78,60.76L121.28,60.65L121.78,60.55L122.28,60.58L122.78,60.67L123.28,60.89L123.78,60.87L124.28,60.83L124.78,60.60L125.28,60.56L125.78,60.45L126.28,60.41L126.78,60.53L127.28,60.66L127.79,60.90L128.29,60.85L128.79,60.71L129.29,60.49L129.79,60.28L130.29,60.40L130.79,60.58L131.29,60.66L131.79,60.64L132.29,60.57L132.79,60.55L133.29,60.52L133.79,60.56L134.29,60.56L134.79,60.62L135.29,60.42L135.79,60.45L136.30,60.48L136.80,60.25L137.30,60.32L137.80,60.35L138.30,60.30L138.80,60.55L139.30,60.72L139.80,60.94L140.30,60.87L140.80,60.95L141.30,60.82L141.80,60.68L142.30,60.90L142.80,60.73L143.30,60.77L143.80,60.62L144.31,60.35L144.81,60.35L145.31,60.43L145.81,60.78L146.31,61.19L146.81,61.56L147.31,62.09L147.81,62.46L148.31,62.97L148.81,63.40L149.31,63.74L149.81,64.17L150.31,64.59L150.81,64.84L151.31,65.28L151.81,65.44L152.31,65.26L152.82,65.56L153.32,65.33L153.82,64.99L154.32,65.04L154.82,64.20L155.32,64.04L155.82,63.59L156.32,62.88L156.82,62.66L157.32,62.04L157.82,61.80L158.32,61.72L158.82,61.47L159.32,61.35L159.82,61.23L160.32,60.87L160.82,60.88L161.33,60.63L161.83,60.42L162.33,60.48L162.83,60.09L163.33,59.85L163.83,59.86L164.33,59.58L164.83,59.62L165.33,59.58L165.83,59.29L166.33,59.22L166.83,58.93L167.33,58.82L167.83,58.63L168.33,58.47L168.83,58.40L169.34,58.31L169.84,58.40L170.34,58.46L170.84,58.45L171.34,58.28L171.84,58.01L172.34,57.77L172.84,57.80L173.34,57.92L173.84,58.09L174.34,58.22L174.84,58.10L175.34,57.99L175.84,58.11L176.34,58.17L176.84,58.18L177.34,58.25L177.85,58.19L178.35,58.00L178.85,58.18L179.35,58.23L179.85,58.26L180.35,58.57L180.85,58.45L181.35,58.54L181.85,58.55L182.35,58.43L182.85,58.44L183.35,58.33L183.85,58.27L184.35,58.36L184.85,58.44L185.35,58.59L185.85,58.56L186.36,58.35L186.86,58.34L187.36,57.99L187.86,57.97L188.36,57.95L188.86,57.93L189.36,58.16L189.86,58.11L190.36,58.06L190.86,58.21L191.36,58.08L191.86,58.13L192.36,58.14L192.86,57.96L193.36,58.19L193.86,58.36L194.37,58.28L194.87,58.30L195.37,58.31L195.87,58.16L196.37,58.38L196.87,58.59L197.37,58.68L197.87,58.87L198.37,58.81L198.87,58.63L199.37,58.43L199.87,58.24L200.37,58.20L200.87,58.41L201.37,58.41L201.87,58.53L202.37,58.71L202.88,58.55L203.38,58.54L203.88,58.48L204.38,58.50L204.88,58.50L205.38,58.28L205.88,58.36L206.38,58.38L206.88,58.31L207.38,58.45L207.88,58.29L208.38,58.23L208.88,58.15L209.38,58.28L209.88,58.43L210.38,58.37L210.88,58.46L211.39,58.30L211.89,58.10L212.39,58.02L212.89,57.90L213.39,57.94L213.89,57.89L214.39,58.00L214.89,58.23L215.39,58.13L215.89,58.33L216.39,58.20L216.89,58.02L217.39,58.12L217.89,57.99L218.39,57.79L218.89,58.00L219.40,57.83L219.90,57.52L220.40,57.63L220.90,57.34L221.40,57.33L221.90,57.34L222.40,57.43L222.90,57.38L223.40,57.44L223.90,57.54L224.40,57.37L224.90,57.28L225.40,57.27L225.90,57.29L226.40,57.34L226.90,57.45L227.40,57.39L227.91,57.38L228.41,57.40L228.91,57.15L229.41,57.13L229.91,57.23L230.41,56.98L230.91,57.19L231.41,57.10L231.91,56.94L232.41,57.01L232.91,56.90L233.41,57.00L233.91,56.98L234.41,56.79L234.91,57.02L235.41,56.95L235.91,56.91L236.42,57.21L236.92,57.12L237.42,56.91L237.92,56.99L238.42,56.68L238.92,56.49L239.42,56.70L239.92,56.61L240.42,56.76L240.92,56.69L241.42,56.66L241.92,56.69L242.42,56.74L242.92,56.72L243.42,56.68L243.92,56.80L244.43,56.88L244.93,56.98L245.43,57.12L245.93,57.06L246.43,57.09L246.93,57.15L247.43,57.10L247.93,57.10L248.43,57.24L248.93,57.31L249.43,57.73L249.93,57.94L250.43,58.32L250.93,59.00L251.43,59.60L251.93,60.78L252.43,61.78L252.94,63.20L253.44,64.71L253.94,66.54L254.44,68.39L254.94,70.44L255.44,72.35L255.94,73.93L256.44,75.09L256.94,75.45L257.44,74.80L257.94,72.80L258.44,70.47L258.94,67.52L259.44,64.69L259.94,62.15L260.44,59.64L260.94,57.19L261.45,54.82L261.95,52.69L262.45,50.84L262.95,49.08L263.45,47.47L263.95,45.77L264.45,44.15L264.95,42.86L265.45,41.64L265.95,40.60L266.45,39.78L266.95,39.02L267.45,38.81L267.95,39.12L268.45,39.98L268.95,41.51L269.46,43.05L269.96,44.78L270.46,46.72L270.96,48.80L271.46,51.71L271.96,55.74L272.46,60.17L272.96,65.20L273.46,70.15L273.96,75.24L274.46,81.26L274.96,88.34L275.46,96.22L275.96,103.57L276.46,109.83L276.96,114.20L277.46,115.75L277.97,114.58L278.47,111.59L278.97,107.46L279.47,102.66L279.97,97.59L280.47,92.89L280.97,88.84L281.47,85.14L281.97,81.40L282.47,77.59L282.97,74.02L283.47,70.78L283.97,67.69L284.47,64.83L284.97,62.38L285.47,59.94L285.97,57.68L286.48,55.60L286.98,53.61L287.48,52.03L287.98,50.81L288.48,50.08L288.98,49.90L289.48,50.40L289.98,51.12L290.48,52.24L290.98,53.82L291.48,55.22L291.98,57.04L292.48,59.26L292.98,61.96L293.48,65.40L293.98,68.77L294.49,72.29L294.99,75.56L295.49,78.64L295.99,81.61L296.49,84.53L296.99,87.68L297.49,90.58L297.99,93.56L298.49,96.35L298.99,99.20L299.49,102.13L299.99,105.23L300.49,108.89L300.99,112.95L301.49,117.39L301.99,121.68L302.49,125.68L303.00,129.30L303.50,132.08L304.00,134.28L304.50,136.77L305.00,138.97L305.50,141.06L306.00,143.04L306.50,143.95L307.00,144.29L307.50,143.79L308.00,142.35L308.50,140.56L309.00,138.62L309.50,136.29L310.00,134.10L310.50,132.09L311.00,129.73L311.51,127.39L312.01,124.62L312.51,121.72L313.01,118.63L313.51,114.87L314.01,110.69L314.51,106.28L315.01,102.11L315.51,98.56L316.01,95.64L316.51,92.91L317.01,90.41L317.51,88.21L318.01,86.16L318.51,84.18L319.01,82.35L319.51,80.96L320.02,79.38L320.52,77.96L321.02,76.73L321.52,75.54L322.02,74.51" stroke="#00ffff"/>
<path d="M56.70,69.34L57.20,69.96L57.70,67.96L58.20,64.11L58.70,60.38L59.20,58.73L59.70,59.76L60.20,61.82L60.70,63.61L61.21,63.73L61.71,62.13L62.21,60.10L62.71,58.94L63.21,59.35L63.71,60.58L64.21,61.96L64.71,62.13L65.21,61.22L65.71,60.19L66.21,59.35L66.71,59.73L67.21,60.66L67.71,61.57L68.21,61.90L68.71,61.43L69.22,60.64L69.72,60.01L70.22,59.86L70.72,60.32L71.22,60.89L71.72,60.96L72.22,60.80L72.72,60.31L73.22,60.05L73.72,60.15L74.22,60.44L74.72,60.79L75.22,60.64L75.72,60.67L76.22,60.43L76.72,60.26L77.22,60.20L77.73,60.18L78.23,60.34L78.73,60.50L79.23,60.81L79.73,60.83L80.23,60.89L80.73,60.92L81.23,60.76L81.73,60.69L82.23,60.77L82.73,60.86L83.23,61.01L83.73,61.20L84.23,61.11L84.73,61.07L85.23,61.15L85.73,61.25L86.24,61.69L86.74,61.84L87.24,62.01L87.74,61.98L88.24,61.85L88.74,61.97L89.24,62.03L89.74,62.02L90.24,62.19L90.74,62.25L91.24,62.26L91.74,62.53L92.24,62.53L92.74,62.42L93.24,62.23L93.74,62.30L94.25,62.19L94.75,62.15L95.25,62.25L95.75,62.00L96.25,61.95L96.75,61.76L97.25,61.69L97.75,61.56L98.25,61.41L98.75,61.39L99.25,61.27L99.75,61.07L100.25,60.96L100.75,60.83L101.25,60.68L101.75,60.73L102.25,60.68L102.76,60.67L103.26,60.53L103.76,60.40L104.26,60.33L104.76,60.13L105.26,60.04L105.76,60.13L106.26,59.86L106.76,59.89L107.26,59.97L107.76,59.71L108.26,59.90L108.76,60.00L109.26,59.80L109.76,60.05L110.26,60.11L110.76,60.01L111.27,60.38L111.77,60.33L112.27,60.33L112.77,60.23L113.27,60.26L113.77,60.30L114.27,60.32L114.77,60.60L115.27,60.67L115.77,60.66L116.27,60.76L116.77,60.75L117.27,60.55L117.77,60.52L118.27,60.53L118.77,60.58L119.28,60.83L119.78,60.98L120.28,61.04L120.78,61.14L121.28,61.06L121.78,61.16L122.28,61.06L122.78,60.84L123.28,60.91L123.78,60.81L124.28,61.01L124.78,61.12L125.28,61.05L125.78,61.10L126.28,61.10L126.78,61.22L127.28,61.36L127.79,61.30L128.29,61.35L128.79,61.31L129.29,61.20L129.79,61.16L130.29,61.09L130.79,61.04L131.29,61.14L131.79,61.19L132.29,61.21L132.79,61.30L133.29,61.20L133.79,61.16L134.29,61.34L134.79,61.33L135.29,61.49L135.79,61.46L136.30,61.45L136.80,61.59L137.30,61.60L137.80,61.55L138.30,61.46L138.80,61.32L139.30,61.18L139.80,61.49L140.30,61.37L140.80,61.28L141.30,61.21L141.80,60.91L142.30,60.88L142.80,60.92L143.30,60.92L143.80,60.97L144.31,60.74L144.81,60.75L145.31,60.81L145.81,61.08L146.31,61.58L146.81,61.75L147.31,62.19L147.81,62.55L148.31,62.83L148.81,63.36L149.31,63.38L149.81,63.84L150.31,64.07L150.81,64.19L151.31,64.68L151.81,64.62L152.31,64.65L152.82,64.52L153.32,64.39L153.82,64.31L154.32,64.04L154.82,63.78L155.32,63.43L155.82,63.18L156.32,62.80L156.82,62.65L157.32,62.19L157.82,61.68L158.32,61.60L158.82,61.40L159.32,61.20L159.82,60.91L160.32,60.95L160.82,60.86L161.33,60.70L161.83,60.75L162.33,60.54L162.83,60.32L163.33,60.38L163.83,60.23L164.33,60.03L164.83,59.95L165.33,59.88L165.83,59.73L166.33,59.67L166.83,59.57L167.33,59.46L167.83,59.28L168.33,59.09L168.83,59.01L169.34,58.88L169.84,58.92L170.34,58.81L170.84,58.72L171.34,58.57L171.84,58.46L172.34,58.56L172.84,58.64L173.34,58.72L173.84,58.80L174.34,58.79L174.84,58.89L175.34,59.15L175.84,59.16L176.34,59.07L176.84,58.83L177.34,58.77L177.85,58.70L178.35,58.82L178.85,58.86L179.35,58.68L179.85,58.86L180.35,58.86L180.85,59.10L181.35,59.23L181.85,59.33L182.35,59.22L182.85,59.01L183.35,58.82L183.85,58.60L184.35,58.70L184.85,58.67L185.35,58.80L185.85,58.77L186.36,58.67L186.86,58.81L187.36,58.76L187.86,58.82L188.36,58.88L188.86,58.69L189.36,58.51L189.86,58.55L190.36,58.55L190.86,58.87L191.36,59.05L191.86,59.05L192.36,59.23L192.86,58.98L193.36,58.90L193.86,58.93L194.37,58.75L194.87,58.87L195.37,58.85L195.87,58.93L196.37,58.92L196.87,58.62L197.37,58.69L197.87,58.49L198.37,58.47L198.87,58.78L199.37,58.78L199.87,58.78L200.37,58.86L200.87,58.71L201.37,58.58L201.87,58.50L202.37,58.55L202.88,58.68L203.38,58.96L203.88,58.95L204.38,58.73L204.88,58.55L205.38,58.47L205.88,58.69L206.38,58.73L206.88,58.78L207.38,58.77L207.88,58.63L208.38,58.56L208.88,58.53L209.38,58.53L209.88,58.73L210.38,58.80L210.88,58.79L211.39,58.68L211.89,58.49L212.39,58.50L212.89,58.42L213.39,58.37L213.89,58.28L214.39,58.28L214.89,58.37L215.39,58.32L215.89,58.39L216.39,58.39L216.89,58.32L217.39,58.18L217.89,58.02L218.39,57.71L218.89,57.65L219.40,57.76L219.90,57.87L220.40,58.04L220.90,57.84L221.40,57.73L221.90,57.48L222.40,57.31L222.90,57.41L223.40,57.42L223.90,57.44L224.40,57.41L224.90,57.32L225.40,57.21L225.90,57.16L226.40,57.27L226.90,57.30L227.40,57.41L227.91,57.28L228.41,57.38L228.91,57.34L229.41,56.96L229.91,57.06L230.41,56.92L230.91,56.86L231.41,56.93L231.91,56.88L232.41,56.66L232.91,56.61L233.41,56.73L233.91,56.36L234.41,56.37L234.91,56.39L235.41,56.36L235.91,56.59L236.42,56.51L236.92,56.34L237.42,56.23L237.92,56.36L238.42,56.30L238.92,56.36L239.42,56.35L239.92,56.30L240.42,56.36L240.92,56.35L241.42,56.27L241.92,56.21L242.42,56.09L242.92,55.93L243.42,55.95L243.92,55.78L244.43,55.78L244.93,55.60L245.43,55.65L245.93,55.52L246.43,55.50L246.93,55.54L247.43,55.11L247.93,55.06L248.43,54.80L248.93,54.78L249.43,54.61L249.93,54.42L250.43,54.29L250.93,54.33L251.43,54.72L251.93,54.92L252.43,55.38L252.94,55.68L253.44,55.97L253.94,56.65L254.44,56.97L254.94,57.43L255.44,58.01L255.94,58.58L256.44,59.17L256.94,59.64L257.44,59.75L257.94,59.32L258.44,58.59L258.94,57.45L259.44,56.26L259.94,55.31L260.44,54.00L260.94,52.61L261.45,50.86L261.95,48.60L262.45,46.70L262.95,44.61L263.45,42.54L263.95,40.59L264.45,38.76L264.95,36.91L265.45,34.94L265.95,33.45L266.45,31.76L266.95,30.70L267.45,30.58L267.95,30.64L268.45,31.38L268.95,32.60L269.46,33.71L269.96,35.41L270.46,37.14L270.96,39.52L271.46,43.52L271.96,47.92L272.46,52.87L272.96,57.54L273.46,61.74L273.96,66.32L274.46,71.65L274.96,77.49L275.46,83.36L275.96,89.03L276.46,94.12L276.96,98.73L277.46,102.16L277.97,104.35L278.47,104.88L278.97,103.65L279.47,101.29L279.97,97.68L280.47,93.79L280.97,89.32L281.47,84.94L281.97,80.81L282.47,76.64L282.97,72.32L283.47,67.69L283.97,63.54L284.47,59.94L284.97,57.09L285.47,55.05L285.97,53.15L286.48,51.24L286.98,49.40L287.48,47.82L287.98,46.56L288.48,45.45L288.98,45.00L289.48,44.59L289.98,44.93L290.48,46.24L290.98,47.87L291.48,50.21L291.98,52.67L292.48,55.37L292.98,58.40L293.48,61.78L293.98,65.51L294.49,69.38L294.99,73.32L295.49,77.60L295.99,81.82L296.49,85.83L296.99,90.02L297.49,94.06L297.99,98.23L298.49,102.37L298.99,106.73L299.49,111.06L299.99,115.65L300.49,120.72L300.99,126.41L301.49,132.35L301.99,138.28L302.49,143.95L303.00,148.50L303.50,152.36L304.00,155.26L304.50,158.27L305.00,161.43L305.50,163.76L306.00,165.66L306.50,167.00L307.00,167.17L307.50,166.82L308.00,165.69L308.50,163.64L309.00,161.32L309.50,158.21L310.00,155.25L310.50,152.12L311.00,148.31L311.51,144.09L312.01,138.74L312.51,132.96L313.01,127.15L313.51,121.09L314.01,115.40L314.51,110.04L315.01,104.44L315.51,99.66L316.01,95.97L316.51,93.34L317.01,90.87L317.51,88.56L318.01,86.98L318.51,85.18L319.01,83.75L319.51,82.42L320.02,81.20L320.52,80.30L321.02,79.46L321.52,78.73L322.02,78.02" stroke="#0548ff"/>
<path d="M56.70,65.96L57.20,65.62L57.70,64.08L58.20,62.25L58.70,60.95L59.20,60.71L59.70,61.41L60.20,62.40L60.70,62.88L61.21,62.57L61.71,61.74L62.21,61.09L62.71,60.75L63.21,61.26L63.71,61.79L64.21,61.98L64.71,61.84L65.21,61.21L65.71,60.82L66.21,60.68L66.71,61.10L67.21,61.41L67.71,61.58L68.21,61.43L68.71,61.09L69.22,61.16L69.72,60.88L70.22,61.07L70.72,61.23L71.22,61.21L71.72,61.33L72.22,61.16L72.72,61.15L73.22,60.92L73.72,61.04L74.22,61.26L74.72,61.04L75.22,61.10L75.72,61.03L76.22,61.06L76.72,61.13L77.22,61.16L77.73,61.20L78.23,61.22L78.73,61.37L79.23,61.55L79.73,61.50L80.23,61.27L80.73,61.12L81.23,61.15L81.73,61.25L82.23,61.37L82.73,61.58L83.23,61.55L83.73,61.39L84.23,61.47L84.73,61.41L85.23,61.53L85.73,61.82L86.24,62.07L86.74,62.20L87.24,62.07L87.74,61.92L88.24,61.70L88.74,61.72L89.24,61.92L89.74,62.26L90.24,62.46L90.74,62.51L91.24,62.63L91.74,62.52L92.24,62.64L92.74,62.89L93.24,62.91L93.74,63.14L94.25,63.13L94.75,62.78L95.25,62.63L95.75,62.37L96.25,62.04L96.75,61.95L97.25,61.89L97.75,61.69L98.25,61.67L98.75,61.71L99.25,61.54L99.75,61.74L100.25,61.77L100.75,61.67L101.25,61.55L101.75,61.33L102.25,61.15L102.76,60.94L103.26,60.76L103.76,60.56L104.26,60.35L104.76,60.42L105.26,60.56L105.76,60.59L106.26,60.75L106.76,60.77L107.26,60.59L107.76,60.66L108.26,60.74L108.76,60.67L109.26,60.68L109.76,60.68L110.26,60.50L110.76,60.63L111.27,60.90L111.77,61.01L112.27,61.19L112.77,61.00L113.27,61.11L113.77,60.91L114.27,61.04L114.77,61.28L115.27,61.12L115.77,61.25L116.27,61.15L116.77,61.32L117.27,61.39L117.77,61.58L118.27,61.38L118.77,61.27L119.28,61.31L119.78,61.35L120.28,61.69L120.78,61.82L121.28,61.77L121.78,61.71L122.28,61.63L122.78,61.60L123.28,61.77L123.78,61.63L124.28,61.80L124.78,61.93L125.28,61.85L125.78,62.10L126.28,62.06L126.78,61.79L127.28,61.91L127.79,61.71L128.29,61.73L128.79,61.67L129.29,61.46L129.79,61.59L130.29,61.55L130.79,61.78L131.29,61.89L131.79,61.73L132.29,61.85L132.79,61.68L133.29,61.83L133.79,62.03L134.29,62.07L134.79,61.95L135.29,61.81L135.79,61.70L136.30,61.59L136.80,61.69L137.30,61.90L137.80,61.90L138.30,61.59L138.80,61.70L139.30,61.44L139.80,61.33L140.30,61.59L140.80,61.50L141.30,61.35L141.80,61.35L142.30,61.19L142.80,61.20L143.30,61.23L143.80,61.23L144.31,61.11L144.81,61.04L145.31,61.19L145.81,61.59L146.31,61.85L146.81,62.08L147.31,62.40L147.81,62.62L148.31,63.09L148.81,63.35L149.31,63.64L149.81,63.74L150.31,63.83L150.81,63.99L151.31,64.03L151.81,64.09L152.31,64.20L152.82,64.13L153.32,63.94L153.82,63.80L154.32,63.71L154.82,63.74L155.32,63.55L155.82,63.36L156.32,62.88L156.82,62.50L157.32,62.28L157.82,61.91L158.32,61.73L158.82,61.67L159.32,61.60L159.82,61.31L160.32,61.37L160.82,61.21L161.33,60.96L161.83,61.10L162.33,60.95L162.83,60.92L163.33,60.87L163.83,60.65L164.33,60.33L164.83,60.10L165.33,59.95L165.83,60.07L166.33,60.11L166.83,60.10L167.33,60.12L167.83,59.87L168.33,59.72L168.83,59.69L169.34,59.53L169.84,59.61L170.34,59.78L170.84,59.67L171.34,59.92L171.84,59.86L172.34,59.72L172.84,59.71L173.34,59.50L173.84,59.53L174.34,59.55L174.84,59.66L175.34,59.70L175.84,59.75L176.34,59.79L176.84,59.65L177.34,59.63L177.85,59.70L178.35,59.80L178.85,59.82L179.35,59.79L179.85,59.58L180.35,59.33L180.85,59.17L181.35,59.16L181.85,59.19L182.35,59.38L182.85,59.60L183.35,59.70L183.85,59.66L184.35,59.54L184.85,59.44L185.35,59.40L185.85,59.36L186.36,59.36L186.86,59.33L187.36,59.28L187.86,59.40L188.36,59.52L188.86,59.50L189.36,59.48L189.86,59.45L190.36,59.39L190.86,59.21L191.36,59.32L191.86,59.32L192.36,59.25L192.86,59.59L193.36,59.50L193.86,59.29L194.37,59.23L194.87,59.04L195.37,58.99L195.87,59.16L196.37,59.15L196.87,59.23L197.37,59.33L197.87,59.32L198.37,59.33L198.87,59.27L199.37,59.16L199.87,59.37L200.37,59.33L200.87,59.13L201.37,59.06L201.87,58.88L202.37,59.08L202.88,59.28L203.38,59.50L203.88,59.39L204.38,59.35L204.88,59.28L205.38,59.04L205.88,59.30L206.38,59.21L206.88,59.37L207.38,59.64L207.88,59.48L208.38,59.52L208.88,59.33L209.38,59.32L209.88,59.13L210.38,58.88L210.88,58.90L211.39,58.67L211.89,58.74L212.39,59.03L212.89,59.00L213.39,58.99L213.89,58.87L214.39,58.46L214.89,58.40L215.39,58.36L215.89,58.23L216.39,58.58L216.89,58.72L217.39,58.76L217.89,58.93L218.39,58.68L218.89,58.55L219.40,58.28L219.90,58.01L220.40,57.95L220.90,57.91L221.40,57.97L221.90,57.98L222.40,58.11L222.90,57.98L223.40,57.92L223.90,57.92L224.40,57.60L224.90,57.46L225.40,57.55L225.90,57.50L226.40,57.69L226.90,57.69L227.40,57.64L227.91,57.50L228.41,57.31L228.91,57.20L229.41,57.06L229.91,57.23L230.41,57.02L230.91,57.06L231.41,56.83L231.91,56.56L232.41,56.59L232.91,56.31L233.41,56.32L233.91,56.14L234.41,56.26L234.91,56.27L235.41,56.23L235.91,56.29L236.42,56.05L236.92,56.00L237.42,55.71L237.92,55.78L238.42,55.67L238.92,55.68L239.42,55.62L239.92,55.37L240.42,55.22L240.92,55.08L241.42,55.01L241.92,54.76L242.42,54.72L242.92,54.55L243.42,54.61L243.92,54.53L244.43,54.25L244.93,54.14L245.43,53.72L245.93,53.78L246.43,53.88L246.93,53.79L247.43,53.78L247.93,53.40L248.43,53.05L248.93,52.76L249.43,52.49L249.93,52.39L250.43,52.37L250.93,52.37L251.43,52.12L251.93,52.21L252.43,52.02L252.94,51.68L253.44,51.79L253.94,51.59L254.44,51.52L254.94,51.53L255.44,51.40L255.94,51.34L256.44,51.18L256.94,51.14L257.44,50.99L257.94,50.52L258.44,50.33L258.94,50.13L259.44,49.79L259.94,49.29L260.44,48.70L260.94,48.02L261.45,47.29L261.95,47.04L262.45,46.38L262.95,45.64L263.45,44.92L263.95,43.77L264.45,42.64L264.95,41.63L265.45,40.71L265.95,40.03L266.45,39.47L266.95,38.98L267.45,38.72L267.95,38.90L268.45,39.62L268.95,40.42L269.46,41.67L269.96,42.85L270.46,44.18L270.96,45.74L271.46,47.20L271.96,48.31L272.46,49.46L272.96,50.58L273.46,51.94L273.96,53.53L274.46,55.04L274.96,56.41L275.46,57.12L275.96,57.70L276.46,58.01L276.96,58.09L277.46,57.87L277.97,57.27L278.47,56.18L278.97,54.88L279.47,53.70L279.97,52.15L280.47,50.50L280.97,49.10L281.47,47.38L281.97,45.69L282.47,44.05L282.97,42.05L283.47,40.29L283.97,38.71L284.47,37.61L284.97,36.52L285.47,35.39L285.97,34.22L286.48,32.70L286.98,31.67L287.48,31.06L287.98,30.57L288.48,30.79L288.98,31.46L289.48,31.99L289.98,33.25L290.48,34.60L290.98,35.97L291.48,37.96L291.98,40.35L292.48,43.67L292.98,47.45L293.48,51.56L293.98,55.92L294.49,60.73L294.99,66.39L295.49,72.83L295.99,79.69L296.49,86.29L296.99,92.49L297.49,98.17L297.99,103.51L298.49,108.65L298.99,114.02L299.49,119.21L299.99,124.41L300.49,130.04L300.99,135.56L301.49,141.58L301.99,148.05L302.49,154.43L303.00,160.64L303.50,166.26L304.00,171.01L304.50,174.66L305.00,178.18L305.50,181.33L306.00,183.93L306.50,185.38L307.00,185.37L307.50,184.81L308.00,183.70L308.50,182.34L309.00,180.34L309.50,178.09L310.00,175.56L310.50,172.84L311.00,169.01L311.51,164.00L312.01,158.25L312.51,151.64L313.01,145.00L313.51,138.33L314.01,132.27L314.51,126.25L315.01,120.04L315.51,114.18L316.01,109.17L316.51,105.19L317.01,101.58L317.51,98.47L318.01,95.44L318.51,92.67L319.01,89.96L319.51,87.44L320.02,85.45L320.52,83.69L321.02,82.03L321.52,80.64L322.02,79.30" stroke="#7a00e8"/>
<path d="M56.70,69.49L57.20,69.22L57.70,67.09L58.20,63.57L58.70,60.56L59.20,59.71L59.70,60.84L60.20,62.75L60.70,64.14L61.21,63.79L61.71,62.28L62.21,60.73L62.71,60.16L63.21,60.89L63.71,62.17L64.21,63.04L64.71,62.81L65.21,61.95L65.71,61.12L66.21,60.79L66.71,61.38L67.21,62.22L67.71,62.62L68.21,62.57L68.71,62.05L69.22,61.34L69.72,61.11L70.22,61.38L70.72,61.86L71.22,62.38L71.72,62.28L72.22,62.07L72.72,61.44L73.22,60.96L73.72,61.12L74.22,61.20L74.72,61.65L75.22,61.90L75.72,61.72L76.22,61.51L76.72,61.17L77.22,61.02L77.73,61.17L78.23,61.30L78.73,61.52L79.23,61.60L79.73,61.65L80.23,61.57L80.73,61.54L81.23,61.77L81.73,61.59L82.23,61.85L82.73,62.01L83.23,61.89L83.73,62.29L84.23,62.29L84.73,62.44L85.23,62.68L85.73,62.60L86.24,62.55L86.74,62.31L87.24,62.14L87.74,62.04L88.24,62.08L88.74,62.34L89.24,62.40L89.74,62.65L90.24,62.81L90.74,62.64L91.24,62.70L91.74,62.67L92.24,62.57L92.74,62.66L93.24,62.88L93.74,62.88L94.25,63.02L94.75,63.03L95.25,62.90L95.75,62.69L96.25,62.46L96.75,62.48L97.25,62.33L97.75,62.50L98.25,62.46L98.75,62.24L99.25,62.15L99.75,62.15L100.25,62.11L100.75,62.02L101.25,61.91L101.75,61.49L102.25,61.48L102.76,61.38L103.26,61.39L103.76,61.41L104.26,61.17L104.76,61.10L105.26,61.06L105.76,61.04L106.26,61.20L106.76,61.42L107.26,61.32L107.76,61.37L108.26,61.43L108.76,61.40L109.26,61.47L109.76,61.34L110.26,61.11L110.76,60.98L111.27,61.19L111.77,61.39L112.27,61.49L112.77,61.56L113.27,61.38L113.77,61.43L114.27,61.34L114.77,61.26L115.27,61.35L115.77,61.45L116.27,61.45L116.77,61.67L117.27,61.57L117.77,61.31L118.27,61.63L118.77,61.57L119.28,61.75L119.78,61.92L120.28,61.82L120.78,61.68L121.28,61.61L121.78,61.69L122.28,61.63L122.78,61.88L123.28,61.99L123.78,61.79L124.28,62.00L124.78,62.03L125.28,62.00L125.78,62.34L126.28,62.48L126.78,62.32L127.28,62.41L127.79,62.35L128.29,62.18L128.79,62.38L129.29,62.41L129.79,62.34L130.29,62.07L130.79,61.89L131.29,61.71L131.79,61.88L132.29,62.12L132.79,62.31L133.29,62.31L133.79,62.18L134.29,62.18L134.79,62.07L135.29,62.20L135.79,62.33L136.30,62.28L136.80,62.41L137.30,62.46L137.80,62.30L138.30,62.39L138.80,62.16L139.30,61.87L139.80,61.74L140.30,61.57L140.80,61.51L141.30,61.44L141.80,61.58L142.30,61.49L142.80,61.53L143.30,61.69L143.80,61.47L144.31,61.54L144.81,61.39L145.31,61.15L145.81,61.39L146.31,61.36L146.81,61.22L147.31,61.24L147.81,60.86L148.31,61.02L148.81,61.81L149.31,62.65L149.81,63.46L150.31,64.11L150.81,64.68L151.31,65.04L151.81,65.26L152.31,65.47L152.82,65.27L153.32,64.84L153.82,64.35L154.32,63.86L154.82,63.31L155.32,63.21L155.82,63.24L156.32,63.21L156.82,63.04L157.32,62.76L157.82,62.17L158.32,61.64L158.82,61.46L159.32,61.35L159.82,61.21L160.32,61.07L160.82,60.94L161.33,60.84L161.83,60.80L162.33,60.59L162.83,60.56L163.33,60.27L163.83,60.25L164.33,60.19L164.83,60.06L165.33,59.84L165.83,59.86L166.33,59.96L166.83,59.97L167.33,60.36L167.83,60.38L168.33,60.18L168.83,60.08L169.34,59.88L169.84,59.74L170.34,60.03L170.84,60.07L171.34,59.93L171.84,59.89L172.34,59.77L172.84,59.65L173.34,59.51L173.84,59.63L174.34,59.48L174.84,59.72L175.34,60.11L175.84,60.01L176.34,60.08L176.84,59.90L177.34,59.77L177.85,59.86L178.35,59.78L178.85,59.64L179.35,59.60L179.85,59.74L180.35,59.69L180.85,59.81L181.35,59.72L181.85,59.54L182.35,59.44L182.85,59.50L183.35,59.52L183.85,59.72L184.35,60.02L184.85,60.09L185.35,60.15L185.85,59.94L186.36,59.96L186.86,59.72L187.36,59.82L187.86,59.91L188.36,59.81L188.86,60.11L189.36,59.95L189.86,59.85L190.36,59.91L190.86,59.59L191.36,59.65L191.86,59.69L192.36,59.76L192.86,60.12L193.36,60.19L193.86,60.26L194.37,60.21L194.87,59.97L195.37,60.15L195.87,60.23L196.37,60.37L196.87,60.32L197.37,60.14L197.87,60.08L198.37,60.01L198.87,60.05L199.37,60.04L199.87,59.97L200.37,60.07L200.87,60.04L201.37,59.96L201.87,59.93L202.37,59.61L202.88,59.74L203.38,59.80L203.88,59.79L204.38,59.87L204.88,59.87L205.38,59.85L205.88,59.98L206.38,59.95L206.88,59.83L207.38,59.83L207.88,59.59L208.38,59.81L208.88,59.92L209.38,59.74L209.88,59.95L210.38,59.95L210.88,59.77L211.39,59.86L211.89,59.92L212.39,59.66L212.89,59.88L213.39,60.04L213.89,59.91L214.39,60.00L214.89,59.98L215.39,59.85L215.89,59.90L216.39,59.81L216.89,59.66L217.39,59.51L217.89,59.42L218.39,59.51L218.89,59.60L219.40,59.65L219.90,59.41L220.40,59.14L220.90,59.03L221.40,58.86L221.90,59.08L222.40,59.01L222.90,58.93L223.40,58.90L223.90,58.67L224.40,58.74L224.90,58.62L225.40,58.74L225.90,58.76L226.40,58.57L226.90,58.13L227.40,57.90L227.91,57.82L228.41,57.97L228.91,58.22L229.41,58.40L229.91,58.43L230.41,58.23L230.91,58.40L231.41,58.02L231.91,57.77L232.41,57.80L232.91,57.67L233.41,57.88L233.91,58.06L234.41,57.88L234.91,57.68L235.41,57.42L235.91,57.17L236.42,57.18L236.92,57.11L237.42,57.19L237.92,57.12L238.42,56.81L238.92,56.61L239.42,56.40L239.92,56.32L240.42,56.22L240.92,56.06L241.42,56.06L241.92,55.95L242.42,55.95L242.92,55.90L243.42,55.72L243.92,55.49L244.43,55.43L244.93,55.20L245.43,54.97L245.93,54.93L246.43,54.82L246.93,54.85L247.43,54.72L247.93,54.71L248.43,54.56L248.93,54.71L249.43,54.76L249.93,54.69L250.43,54.75L250.93,54.59L251.43,54.52L251.93,54.24L252.43,53.93L252.94,53.77L253.44,53.67L253.94,53.53L254.44,53.68L254.94,53.71L255.44,53.38L255.94,53.23L256.44,52.76L256.94,52.40L257.44,52.37L257.94,52.18L258.44,51.86L258.94,51.52L259.44,51.04L259.94,50.69L260.44,50.43L260.94,49.86L261.45,49.32L261.95,48.81L262.45,48.27L262.95,47.86L263.45,47.30L263.95,46.76L264.45,46.16L264.95,45.86L265.45,45.66L265.95,45.20L266.45,44.90L266.95,44.73L267.45,44.71L267.95,44.73L268.45,44.95L268.95,45.01L269.46,45.03L269.96,45.26L270.46,45.30L270.96,45.36L271.46,45.74L271.96,46.16L272.46,46.75L272.96,47.48L273.46,48.04L273.96,48.43L274.46,49.13L274.96,49.54L275.46,50.07L275.96,50.76L276.46,50.96L276.96,51.17L277.46,50.76L277.97,49.92L278.47,48.71L278.97,47.21L279.47,45.41L279.97,43.51L280.47,41.90L280.97,40.47L281.47,39.39L281.97,38.09L282.47,36.56L282.97,34.91L283.47,33.70L283.97,32.39L284.47,31.30L284.97,30.74L285.47,29.80L285.97,29.19L286.48,28.53L286.98,27.79L287.48,27.54L287.98,27.21L288.48,27.45L288.98,27.92L289.48,28.48L289.98,29.39L290.48,30.26L290.98,31.44L291.48,32.97L291.98,35.01L292.48,37.19L292.98,40.16L293.48,43.83L293.98,48.52L294.49,53.64L294.99,58.85L295.49,64.98L295.99,71.44L296.49,78.37L296.99,85.69L297.49,92.89L297.99,99.51L298.49,105.94L298.99,112.17L299.49,118.09L299.99,124.21L300.49,130.42L300.99,136.63L301.49,143.11L301.99,150.12L302.49,156.96L303.00,163.75L303.50,170.20L304.00,175.29L304.50,179.12L305.00,182.30L305.50,185.00L306.00,187.36L306.50,188.56L307.00,188.77L307.50,188.12L308.00,186.97L308.50,185.73L309.00,183.66L309.50,181.86L310.00,179.61L310.50,176.91L311.00,173.34L311.51,168.07L312.01,162.17L312.51,155.88L313.01,149.01L313.51,142.56L314.01,136.42L314.51,130.20L315.01,123.84L315.51,117.49L316.01,112.30L316.51,108.27L317.01,104.92L317.51,101.88L318.01,99.08L318.51,95.95L319.01,92.76L319.51,90.01L320.02,87.38L320.52,85.33L321.02,83.46L321.52,81.48L322.02,79.96" stroke="#ff00ff"/>
</g>
<rect x="56.85" y="22.40" width="264.95" height="172.90" fill="none" stroke="#1a1a1a" stroke-width="1.2"/>
<line x1="49.35" y1="28.95" x2="56.85" y2="28.95" stroke="#1a1a1a" stroke-width="1.2" />
<line x1="49.35" y1="62.26" x2="56.85" y2="62.26" stroke="#1a1a1a" stroke-width="1.2" />
<line x1="49.35" y1="95.57" x2="56.85" y2="95.57" stroke="#1a1a1a" stroke-width="1.2" />
<line x1="49.35" y1="128.88" x2="56.85" y2="128.88" stroke="#1a1a1a" stroke-width="1.2" />
<line x1="49.35" y1="162.19" x2="56.85" y2="162.19" stroke="#1a1a1a" stroke-width="1.2" />
<line x1="49.35" y1="195.50" x2="56.85" y2="195.50" stroke="#1a1a1a" stroke-width="1.2" />
<line x1="56.70" y1="195.30" x2="56.70" y2="202.80" stroke="#1a1a1a" stroke-width="1.2" />
<line x1="106.76" y1="195.30" x2="106.76" y2="202.80" stroke="#1a1a1a" stroke-width="1.2" />
<line x1="156.82" y1="195.30" x2="156.82" y2="202.80" stroke="#1a1a1a" stroke-width="1.2" />
<line x1="206.88" y1="195.30" x2="206.88" y2="202.80" stroke="#1a1a1a" stroke-width="1.2" />
<line x1="256.94" y1="195.30" x2="256.94" y2="202.80" stroke="#1a1a1a" stroke-width="1.2" />
<line x1="307.00" y1="195.30" x2="307.00" y2="202.80" stroke="#1a1a1a" stroke-width="1.2" />
<text x="45.80" y="32.55" font-size="10.4" text-anchor="end" font-weight="normal" fill="#000" stroke="#000" stroke-width="0.22" >10</text>
<text x="45.80" y="65.86" font-size="10.4" text-anchor="end" font-weight="normal" fill="#000" stroke="#000" stroke-width="0.22" >0</text>
<text x="45.80" y="99.17" font-size="10.4" text-anchor="end" font-weight="normal" fill="#000" stroke="#000" stroke-width="0.22" >-10</text>
<text x="45.80" y="132.48" font-size="10.4" text-anchor="end" font-weight="normal" fill="#000" stroke="#000" stroke-width="0.22" >-20</text>
<text x="45.80" y="165.79" font-size="10.4" text-anchor="end" font-weight="normal" fill="#000" stroke="#000" stroke-width="0.22" >-30</text>
<text x="1.80" y="200.30" font-size="10.4" text-anchor="start" font-weight="normal" fill="#000" stroke="#000" stroke-width="0.22" >-40 x 10</text>
<text x="38.60" y="193.70" font-size="7" text-anchor="start" font-weight="normal" fill="#000" stroke="#000" stroke-width="0.22" >-3</text>
<text x="56.70" y="215.60" font-size="10.4" text-anchor="middle" font-weight="normal" fill="#000" stroke="#000" stroke-width="0.22" >400</text>
<text x="106.76" y="215.60" font-size="10.4" text-anchor="middle" font-weight="normal" fill="#000" stroke="#000" stroke-width="0.22" >500</text>
<text x="156.82" y="215.60" font-size="10.4" text-anchor="middle" font-weight="normal" fill="#000" stroke="#000" stroke-width="0.22" >600</text>
<text x="206.88" y="215.60" font-size="10.4" text-anchor="middle" font-weight="normal" fill="#000" stroke="#000" stroke-width="0.22" >700</text>
<text x="256.94" y="215.60" font-size="10.4" text-anchor="middle" font-weight="normal" fill="#000" stroke="#000" stroke-width="0.22" >800</text>
<text x="307.00" y="215.60" font-size="10.4" text-anchor="middle" font-weight="normal" fill="#000" stroke="#000" stroke-width="0.22" >900</text>
<text x="189.20" y="232.20" font-size="10.4" text-anchor="middle" font-weight="normal" fill="#000" stroke="#000" stroke-width="0.22" >Wavelength (nm)</text>
<text x="0.00" y="0.00" font-size="10" text-anchor="middle" font-weight="normal" fill="#000" stroke="#000" stroke-width="0.22" transform="translate(11.8,109.2) rotate(-90)">ΔAbsorbance</text>
<line x1="76.80" y1="92.80" x2="92.60" y2="92.80" stroke="#9b9b9b" stroke-width="1.7" />
<text x="97.00" y="96.40" font-size="10.3" text-anchor="start" font-weight="normal" fill="#000" stroke="#000" stroke-width="0.22" >-0.5 ps</text>
<line x1="76.80" y1="103.27" x2="92.60" y2="103.27" stroke="#000" stroke-width="1.7" />
<text x="97.00" y="106.87" font-size="10.3" text-anchor="start" font-weight="normal" fill="#000" stroke="#000" stroke-width="0.22" >0 ps</text>
<line x1="76.80" y1="113.74" x2="92.60" y2="113.74" stroke="#ff0000" stroke-width="1.7" />
<text x="97.00" y="117.34" font-size="10.3" text-anchor="start" font-weight="normal" fill="#000" stroke="#000" stroke-width="0.22" >0.1 ps</text>
<line x1="76.80" y1="124.21" x2="92.60" y2="124.21" stroke="#ffa500" stroke-width="1.7" />
<text x="97.00" y="127.81" font-size="10.3" text-anchor="start" font-weight="normal" fill="#000" stroke="#000" stroke-width="0.22" >0.2 ps</text>
<line x1="76.80" y1="134.68" x2="92.60" y2="134.68" stroke="#0af514" stroke-width="1.7" />
<text x="97.00" y="138.28" font-size="10.3" text-anchor="start" font-weight="normal" fill="#000" stroke="#000" stroke-width="0.22" >0.5 ps</text>
<line x1="76.80" y1="145.15" x2="92.60" y2="145.15" stroke="#00ffff" stroke-width="1.7" />
<text x="97.00" y="148.75" font-size="10.3" text-anchor="start" font-weight="normal" fill="#000" stroke="#000" stroke-width="0.22" >1 ps</text>
<line x1="76.80" y1="155.62" x2="92.60" y2="155.62" stroke="#0548ff" stroke-width="1.7" />
<text x="97.00" y="159.22" font-size="10.3" text-anchor="start" font-weight="normal" fill="#000" stroke="#000" stroke-width="0.22" >2 ps</text>
<line x1="76.80" y1="166.09" x2="92.60" y2="166.09" stroke="#7a00e8" stroke-width="1.7" />
<text x="97.00" y="169.69" font-size="10.3" text-anchor="start" font-weight="normal" fill="#000" stroke="#000" stroke-width="0.22" >5 ps</text>
<line x1="76.80" y1="176.56" x2="92.60" y2="176.56" stroke="#ff00ff" stroke-width="1.7" />
<text x="97.00" y="180.16" font-size="10.3" text-anchor="start" font-weight="normal" fill="#000" stroke="#000" stroke-width="0.22" >10 ps</text>
<line x1="402.85" y1="31.28" x2="667.90" y2="31.28" stroke="#8c8c8c" stroke-width="1" stroke-dasharray="1 1"/>
<line x1="402.85" y1="97.72" x2="667.90" y2="97.72" stroke="#8c8c8c" stroke-width="1" stroke-dasharray="1 1"/>
<line x1="402.85" y1="130.94" x2="667.90" y2="130.94" stroke="#8c8c8c" stroke-width="1" stroke-dasharray="1 1"/>
<line x1="402.85" y1="164.16" x2="667.90" y2="164.16" stroke="#8c8c8c" stroke-width="1" stroke-dasharray="1 1"/>
<rect x="418.5" y="93" width="58" height="86" fill="#fff"/>
<line x1="402.85" y1="64.50" x2="667.90" y2="64.50" stroke="#000" stroke-width="1" />
<g fill="none" stroke-width="2.0" stroke-linejoin="round">
<path d="M402.90,62.53L403.40,65.35L403.90,66.45L404.40,65.68L404.90,63.84L405.40,62.20L405.90,61.87L406.40,62.77L406.90,64.06L407.40,64.34L407.90,63.67L408.40,62.56L408.90,61.71L409.40,61.61L409.90,62.39L410.40,63.23L410.90,63.48L411.40,63.37L411.90,62.67L412.40,62.16L412.90,62.16L413.40,62.60L413.90,63.37L414.40,63.81L414.90,63.81L415.40,63.67L415.90,63.23L416.40,63.38L416.90,63.90L417.40,64.20L417.90,64.62L418.40,64.58L418.90,64.38L419.40,64.30L419.90,64.30L420.40,64.37L420.90,64.51L421.40,64.51L421.90,64.35L422.40,64.09L422.90,64.07L423.40,64.03L423.90,64.10L424.40,64.13L424.90,63.74L425.40,63.40L425.90,63.05L426.40,62.84L426.90,62.74L427.40,62.64L427.89,62.74L428.39,62.70L428.89,62.53L429.39,62.62L429.89,62.74L430.39,62.81L430.89,63.10L431.39,63.29L431.89,63.19L432.39,63.31L432.89,63.43L433.39,63.48L433.89,63.69L434.39,63.90L434.89,64.02L435.39,64.22L435.89,64.38L436.39,64.50L436.89,64.58L437.39,64.71L437.89,64.81L438.39,64.66L438.89,64.65L439.39,64.49L439.89,64.29L440.39,64.27L440.89,64.12L441.39,63.97L441.89,63.87L442.39,63.64L442.89,63.54L443.39,63.29L443.89,63.23L444.39,63.27L444.89,63.02L445.39,63.03L445.89,62.87L446.39,62.71L446.89,62.86L447.39,62.86L447.89,63.03L448.39,63.18L448.89,63.24L449.39,63.32L449.89,63.20L450.39,63.38L450.89,63.35L451.39,63.60L451.89,64.01L452.39,64.29L452.89,64.44L453.39,64.52L453.89,64.50L454.39,64.44L454.89,64.71L455.39,64.62L455.89,64.57L456.39,64.33L456.89,64.20L457.39,64.43L457.89,64.26L458.39,64.33L458.89,64.22L459.39,63.76L459.89,63.73L460.39,63.47L460.89,63.33L461.39,63.40L461.89,63.23L462.39,63.29L462.89,63.12L463.39,62.93L463.89,62.93L464.39,62.81L464.89,62.88L465.39,63.00L465.89,62.98L466.39,63.10L466.89,63.17L467.39,63.30L467.89,63.45L468.39,63.49L468.89,63.69L469.39,63.74L469.89,63.87L470.39,63.92L470.89,63.98L471.39,63.96L471.89,63.84L472.39,63.90L472.89,63.99L473.39,64.02L473.89,64.05L474.39,64.08L474.89,63.82L475.39,63.75L475.89,63.75L476.39,63.70L476.89,63.79L477.39,63.81L477.88,63.79L478.38,63.68L478.88,63.56L479.38,63.53L479.88,63.50L480.38,63.49L480.88,63.64L481.38,63.68L481.88,63.75L482.38,63.80L482.88,63.70L483.38,63.68L483.88,63.70L484.38,63.64L484.88,63.61L485.38,63.74L485.88,63.68L486.38,63.83L486.88,63.70L487.38,63.58L487.88,63.55L488.38,63.35L488.88,63.34L489.38,63.05L489.88,62.55L490.38,62.15L490.88,61.69L491.38,61.32L491.88,61.42L492.38,61.38L492.88,61.63L493.38,61.99L493.88,62.34L494.38,62.74L494.88,63.06L495.38,63.42L495.88,63.34L496.38,63.54L496.88,63.82L497.38,64.00L497.88,64.31L498.38,64.38L498.88,64.29L499.38,64.06L499.88,63.80L500.38,63.75L500.88,63.61L501.38,63.63L501.88,63.62L502.38,63.29L502.88,63.08L503.38,63.00L503.88,62.97L504.38,62.96L504.88,63.04L505.38,62.93L505.88,62.86L506.38,63.07L506.88,62.94L507.38,62.88L507.88,62.84L508.38,62.74L508.88,62.85L509.38,62.90L509.88,62.91L510.38,62.80L510.88,62.70L511.38,62.48L511.88,62.37L512.38,62.42L512.88,62.46L513.38,62.45L513.88,62.56L514.38,62.37L514.88,62.16L515.38,62.33L515.88,62.31L516.38,62.39L516.88,62.58L517.38,62.59L517.88,62.59L518.38,62.50L518.88,62.45L519.38,62.36L519.88,62.35L520.38,62.51L520.88,62.33L521.38,62.49L521.88,62.48L522.38,62.30L522.88,62.52L523.38,62.26L523.88,62.08L524.38,62.18L524.88,62.02L525.38,62.14L525.88,62.19L526.38,62.09L526.88,62.06L527.38,61.84L527.88,61.82L528.37,61.69L528.87,61.64L529.37,61.83L529.87,61.82L530.37,61.87L530.87,62.02L531.37,61.79L531.87,61.79L532.37,61.77L532.87,61.71L533.37,61.79L533.87,61.74L534.37,61.78L534.87,61.67L535.37,61.83L535.87,61.72L536.37,61.76L536.87,61.93L537.37,61.81L537.87,61.96L538.37,61.80L538.87,61.67L539.37,61.54L539.87,61.53L540.37,61.36L540.87,61.22L541.37,61.05L541.87,61.03L542.37,61.13L542.87,61.23L543.37,61.31L543.87,61.15L544.37,61.31L544.87,61.29L545.37,61.41L545.87,61.56L546.37,61.46L546.87,61.42L547.37,61.41L547.87,61.25L548.37,61.11L548.87,61.11L549.37,61.00L549.87,60.98L550.37,61.01L550.87,60.93L551.37,60.78L551.87,60.68L552.37,60.57L552.87,60.50L553.37,60.36L553.87,60.25L554.37,60.30L554.87,60.26L555.37,60.28L555.87,60.45L556.37,60.35L556.87,60.29L557.37,60.40L557.87,60.31L558.37,60.42L558.87,60.43L559.37,60.48L559.87,60.23L560.37,59.92L560.87,59.72L561.37,59.48L561.87,59.53L562.37,59.50L562.87,59.46L563.37,59.36L563.87,59.46L564.37,59.47L564.87,59.55L565.37,59.66L565.87,59.63L566.37,59.57L566.87,59.38L567.37,59.34L567.87,59.04L568.37,58.89L568.87,58.95L569.37,58.82L569.87,58.91L570.37,58.89L570.87,58.83L571.37,58.83L571.87,58.74L572.37,58.93L572.87,58.83L573.37,58.58L573.87,58.53L574.37,58.23L574.87,58.15L575.37,58.12L575.87,58.08L576.37,58.16L576.87,58.16L577.37,58.17L577.87,58.02L578.36,57.77L578.86,57.66L579.36,57.66L579.86,57.77L580.36,57.86L580.86,57.73L581.36,57.58L581.86,57.47L582.36,57.46L582.86,57.45L583.36,57.40L583.86,57.34L584.36,57.21L584.86,57.09L585.36,57.07L585.86,56.87L586.36,56.71L586.86,56.79L587.36,56.65L587.86,56.74L588.36,56.86L588.86,56.83L589.36,56.92L589.86,56.81L590.36,56.68L590.86,56.55L591.36,56.35L591.86,56.60L592.36,56.52L592.86,56.66L593.36,56.66L593.86,56.42L594.36,56.38L594.86,56.06L595.36,56.16L595.86,56.01L596.36,55.97L596.86,56.17L597.36,55.91L597.86,55.85L598.36,55.82L598.86,55.66L599.36,55.38L599.86,55.35L600.36,55.38L600.86,55.32L601.36,55.53L601.86,55.42L602.36,55.15L602.86,55.02L603.36,54.72L603.86,54.40L604.36,54.08L604.86,53.58L605.36,53.13L605.86,52.47L606.36,51.69L606.86,50.90L607.36,50.04L607.86,49.25L608.36,48.31L608.86,47.61L609.36,46.90L609.86,46.17L610.36,45.76L610.86,45.10L611.36,44.64L611.86,44.41L612.36,44.05L612.86,43.79L613.36,43.57L613.86,43.45L614.36,43.44L614.86,43.34L615.36,43.60L615.86,43.77L616.36,44.10L616.86,44.80L617.36,45.24L617.86,45.83L618.36,46.55L618.86,47.33L619.36,48.26L619.86,48.92L620.36,49.51L620.86,50.14L621.36,50.48L621.86,50.74L622.36,50.45L622.86,49.69L623.36,48.75L623.86,47.72L624.36,46.93L624.86,45.80L625.36,44.76L625.86,43.62L626.36,42.10L626.86,40.97L627.36,39.48L627.86,38.16L628.35,37.07L628.85,35.76L629.35,34.53L629.85,33.41L630.35,32.27L630.85,31.25L631.35,30.66L631.85,29.93L632.35,29.42L632.85,29.19L633.35,29.02L633.85,29.13L634.35,29.52L634.85,30.14L635.35,30.82L635.85,32.33L636.35,35.08L636.85,38.25L637.35,41.31L637.85,44.66L638.35,48.53L638.85,52.32L639.35,55.61L639.85,58.74L640.35,61.52L640.85,63.65L641.35,64.53L641.85,66.35L642.35,71.13L642.85,78.06L643.35,86.44L643.85,95.56L644.35,105.07L644.85,114.06L645.35,122.11L645.85,129.79L646.35,137.92L646.85,146.32L647.35,154.41L647.85,161.84L648.35,168.14L648.85,173.06L649.35,177.18L649.85,181.15L650.35,184.76L650.85,187.89L651.35,190.32L651.85,191.77L652.35,192.32L652.85,191.63L653.35,190.08L653.85,187.60L654.35,184.54L654.85,181.09L655.35,177.20L655.85,173.30L656.35,168.61L656.85,162.79L657.35,156.28L657.85,149.63L658.35,143.27L658.85,137.39L659.35,132.33L659.85,127.51L660.35,122.73L660.85,118.42L661.35,114.24L661.85,110.49L662.35,107.11L662.85,104.14L663.35,101.43L663.85,99.15L664.35,97.16L664.85,95.30L665.35,93.75L665.85,92.05L666.35,90.73L666.85,89.50L667.35,88.47L667.85,87.92" stroke="#000000"/>
<path d="M402.90,71.71L403.40,72.41L403.90,71.95L404.40,69.88L404.90,66.79L405.40,64.54L405.90,64.03L406.40,64.63L406.90,65.70L407.40,66.02L407.90,65.01L408.40,63.46L408.90,62.21L409.40,61.83L409.90,62.53L410.40,63.54L410.90,63.92L411.40,63.83L411.90,63.09L412.40,62.68L412.90,62.68L413.40,63.06L413.90,63.63L414.40,63.84L414.90,63.98L415.40,63.82L415.90,63.63L416.40,63.85L416.90,64.14L417.40,64.61L417.90,64.99L418.40,64.78L418.90,64.70L419.40,64.44L419.90,64.41L420.40,64.86L420.90,64.96L421.40,65.13L421.90,64.84L422.40,64.50L422.90,64.44L423.40,64.15L423.90,64.15L424.40,63.98L424.90,63.81L425.40,63.56L425.90,63.48L426.40,63.32L426.90,63.17L427.40,63.25L427.89,63.07L428.39,63.07L428.89,62.92L429.39,62.79L429.89,63.00L430.39,63.12L430.89,63.33L431.39,63.60L431.89,63.59L432.39,63.78L432.89,63.81L433.39,63.84L433.89,64.04L434.39,64.17L434.89,64.40L435.39,64.65L435.89,64.69L436.39,64.65L436.89,64.64L437.39,64.67L437.89,64.62L438.39,64.81L438.89,64.91L439.39,64.76L439.89,64.89L440.39,64.51L440.89,64.40L441.39,64.29L441.89,64.09L442.39,64.03L442.89,63.75L443.39,63.60L443.89,63.41L444.39,63.06L444.89,62.97L445.39,62.96L445.89,62.79L446.39,62.86L446.89,62.74L447.39,62.52L447.89,62.72L448.39,62.78L448.89,62.89L449.39,63.15L449.89,63.19L450.39,63.67L450.89,63.97L451.39,63.98L451.89,64.31L452.39,64.27L452.89,64.34L453.39,64.56L453.89,64.38L454.39,64.55L454.89,64.62L455.39,64.62L455.89,64.87L456.39,64.70L456.89,64.49L457.39,64.37L457.89,64.13L458.39,64.23L458.89,64.28L459.39,64.23L459.89,64.17L460.39,63.83L460.89,63.44L461.39,63.37L461.89,63.32L462.39,63.21L462.89,63.42L463.39,63.38L463.89,63.27L464.39,63.21L464.89,63.17L465.39,63.27L465.89,63.32L466.39,63.40L466.89,63.53L467.39,63.41L467.89,63.42L468.39,63.63L468.89,63.65L469.39,63.67L469.89,63.69L470.39,63.69L470.89,63.71L471.39,63.98L471.89,64.27L472.39,64.25L472.89,64.32L473.39,64.23L473.89,64.10L474.39,64.10L474.89,64.13L475.39,64.10L475.89,63.98L476.39,63.97L476.89,63.81L477.39,63.94L477.88,64.03L478.38,63.85L478.88,63.74L479.38,63.53L479.88,63.45L480.38,63.65L480.88,63.75L481.38,63.70L481.88,63.82L482.38,63.67L482.88,63.67L483.38,63.72L483.88,63.70L484.38,63.72L484.88,63.90L485.38,63.83L485.88,63.73L486.38,63.88L486.88,63.63L487.38,63.64L487.88,63.64L488.38,63.26L488.88,63.28L489.38,63.10L489.88,62.61L490.38,62.60L490.88,62.06L491.38,61.81L491.88,61.80L492.38,61.78L492.88,62.08L493.38,62.51L493.88,62.94L494.38,63.24L494.88,63.70L495.38,63.76L495.88,64.02L496.38,64.31L496.88,64.57L497.38,65.06L497.88,65.19L498.38,65.24L498.88,65.22L499.38,65.05L499.88,64.80L500.38,64.44L500.88,64.03L501.38,63.80L501.88,63.81L502.38,63.54L502.88,63.37L503.38,63.18L503.88,62.89L504.38,63.06L504.88,63.20L505.38,63.23L505.88,63.25L506.38,63.23L506.88,63.25L507.38,63.22L507.88,63.13L508.38,63.10L508.88,62.95L509.38,63.08L509.88,63.12L510.38,63.06L510.88,63.15L511.38,63.10L511.88,63.02L512.38,63.06L512.88,62.90L513.38,62.77L513.88,62.73L514.38,62.67L514.88,62.81L515.38,62.77L515.88,62.82L516.38,62.72L516.88,62.61L517.38,62.62L517.88,62.50L518.38,62.44L518.88,62.32L519.38,62.18L519.88,62.19L520.38,62.20L520.88,62.17L521.38,62.20L521.88,62.22L522.38,62.25L522.88,62.10L523.38,62.11L523.88,62.12L524.38,62.14L524.88,62.32L525.38,62.28L525.88,62.33L526.38,62.44L526.88,62.39L527.38,62.53L527.88,62.39L528.37,62.19L528.87,62.10L529.37,61.81L529.87,61.77L530.37,61.81L530.87,61.98L531.37,62.16L531.87,62.17L532.37,62.27L532.87,62.14L533.37,62.05L533.87,61.98L534.37,61.81L534.87,61.79L535.37,61.82L535.87,61.89L536.37,61.99L536.87,61.96L537.37,61.75L537.87,61.67L538.37,61.47L538.87,61.53L539.37,61.52L539.87,61.57L540.37,61.50L540.87,61.39L541.37,61.56L541.87,61.38L542.37,61.42L542.87,61.39L543.37,61.24L543.87,61.30L544.37,61.30L544.87,61.25L545.37,61.29L545.87,61.26L546.37,61.25L546.87,61.38L547.37,61.38L547.87,61.39L548.37,61.30L548.87,61.05L549.37,61.10L549.87,61.02L550.37,61.17L550.87,61.32L551.37,61.19L551.87,61.35L552.37,61.29L552.87,61.16L553.37,61.07L553.87,60.86L554.37,60.73L554.87,60.53L555.37,60.51L555.87,60.53L556.37,60.28L556.87,60.36L557.37,60.33L557.87,60.11L558.37,60.19L558.87,60.14L559.37,60.04L559.87,60.18L560.37,60.06L560.87,60.04L561.37,60.09L561.87,60.02L562.37,59.97L562.87,59.95L563.37,59.81L563.87,59.64L564.37,59.65L564.87,59.69L565.37,59.58L565.87,59.50L566.37,59.38L566.87,59.06L567.37,59.02L567.87,58.98L568.37,58.86L568.87,58.95L569.37,58.78L569.87,58.64L570.37,58.65L570.87,58.41L571.37,58.42L571.87,58.58L572.37,58.49L572.87,58.56L573.37,58.53L573.87,58.39L574.37,58.31L574.87,58.23L575.37,58.27L575.87,58.18L576.37,58.18L576.87,58.22L577.37,58.15L577.87,58.16L578.36,58.22L578.86,58.07L579.36,57.90L579.86,57.65L580.36,57.44L580.86,57.33L581.36,57.26L581.86,57.25L582.36,57.33L582.86,57.30L583.36,57.31L583.86,57.37L584.36,57.32L584.86,57.36L585.36,57.36L585.86,57.39L586.36,57.25L586.86,57.15L587.36,57.06L587.86,56.87L588.36,56.80L588.86,56.79L589.36,56.75L589.86,56.85L590.36,57.04L590.86,57.09L591.36,56.90L591.86,56.86L592.36,56.58L592.86,56.24L593.36,56.35L593.86,56.01L594.36,55.84L594.86,55.82L595.36,55.53L595.86,55.55L596.36,55.70L596.86,55.67L597.36,55.84L597.86,55.92L598.36,55.90L598.86,55.68L599.36,55.63L599.86,55.45L600.36,55.33L600.86,55.43L601.36,55.31L601.86,55.23L602.36,55.15L602.86,55.13L603.36,54.96L603.86,54.56L604.36,53.87L604.86,53.18L605.36,52.45L605.86,51.90L606.36,51.47L606.86,50.94L607.36,50.31L607.86,49.73L608.36,49.00L608.86,48.11L609.36,47.50L609.86,46.63L610.36,46.08L610.86,45.84L611.36,45.52L611.86,45.39L612.36,45.09L612.86,44.66L613.36,44.55L613.86,44.44L614.36,44.47L614.86,44.61L615.36,44.63L615.86,44.70L616.36,44.95L616.86,45.30L617.36,45.78L617.86,46.29L618.36,47.10L618.86,47.86L619.36,48.65L619.86,49.29L620.36,49.68L620.86,50.27L621.36,50.61L621.86,50.87L622.36,50.45L622.86,49.77L623.36,48.85L623.86,47.68L624.36,46.88L624.86,45.69L625.36,44.44L625.86,43.24L626.36,41.88L626.86,40.53L627.36,39.17L627.86,37.92L628.35,36.58L628.85,35.46L629.35,34.16L629.85,33.01L630.35,32.06L630.85,31.18L631.35,30.35L631.85,29.63L632.35,28.98L632.85,28.41L633.35,28.46L633.85,28.59L634.35,29.12L634.85,29.75L635.35,30.37L635.85,31.89L636.35,34.45L636.85,37.67L637.35,40.75L637.85,44.19L638.35,48.20L638.85,52.06L639.35,55.54L639.85,58.56L640.35,61.44L640.85,63.71L641.35,64.42L641.85,66.10L642.35,70.68L642.85,77.47L643.35,86.02L643.85,95.20L644.35,104.67L644.85,113.66L645.35,121.90L645.85,129.65L646.35,137.82L646.85,146.12L647.35,153.97L647.85,161.59L648.35,167.98L648.85,173.06L649.35,177.19L649.85,180.97L650.35,184.51L650.85,187.46L651.35,189.69L651.85,191.32L652.35,191.77L652.85,191.37L653.35,189.78L653.85,187.32L654.35,184.27L654.85,180.55L655.35,176.66L655.85,172.69L656.35,168.24L656.85,162.47L657.35,156.19L657.85,149.38L658.35,142.85L658.85,137.23L659.35,132.00L659.85,127.09L660.35,122.29L660.85,117.78L661.35,113.75L661.85,110.28L662.35,107.36L662.85,104.46L663.35,101.69L663.85,99.19L664.35,96.92L664.85,95.05L665.35,93.50L665.85,92.00L666.35,90.62L666.85,89.50L667.35,88.56L667.85,87.80" stroke="#ff0000"/>
<path d="M402.90,56.58L403.40,60.78L403.90,62.99L404.40,62.66L404.90,61.04L405.40,59.72L405.90,59.94L406.40,61.65L406.90,63.51L407.40,64.32L407.90,63.59L408.40,62.09L408.90,61.04L409.40,60.91L409.90,61.91L410.40,62.96L410.90,63.39L411.40,63.28L411.90,62.46L412.40,61.90L412.90,62.03L413.40,62.64L413.90,63.46L414.40,63.79L414.90,63.75L415.40,63.43L415.90,63.20L416.40,63.60L416.90,64.19L417.40,64.64L417.90,65.01L418.40,64.85L418.90,64.48L419.40,64.23L419.90,64.20L420.40,64.40L420.90,64.57L421.40,64.57L421.90,64.29L422.40,63.87L422.90,63.50L423.40,63.68L423.90,63.80L424.40,63.87L424.90,63.81L425.40,63.47L425.90,63.01L426.40,62.75L426.90,62.70L427.40,62.53L427.89,62.70L428.39,62.78L428.89,62.65L429.39,62.65L429.89,62.73L430.39,62.79L430.89,62.98L431.39,63.20L431.89,63.14L432.39,63.30L432.89,63.26L433.39,63.23L433.89,63.58L434.39,63.66L434.89,63.88L435.39,64.11L435.89,64.23L436.39,64.30L436.89,64.28L437.39,64.43L437.89,64.31L438.39,64.32L438.89,64.45L439.39,64.28L439.89,64.25L440.39,64.03L440.89,63.84L441.39,63.75L441.89,63.45L442.39,63.48L442.89,63.31L443.39,63.05L443.89,62.93L444.39,62.66L444.89,62.52L445.39,62.45L445.89,62.41L446.39,62.37L446.89,62.26L447.39,62.33L447.89,62.36L448.39,62.42L448.89,62.69L449.39,62.80L449.89,62.99L450.39,63.30L450.89,63.58L451.39,63.64L451.89,63.97L452.39,63.88L452.89,63.94L453.39,64.10L453.89,64.06L454.39,64.22L454.89,64.27L455.39,64.34L455.89,64.36L456.39,64.28L456.89,64.11L457.39,63.89L457.89,63.76L458.39,63.75L458.89,63.87L459.39,63.79L459.89,63.63L460.39,63.51L460.89,63.18L461.39,63.01L461.89,62.97L462.39,62.76L462.89,62.73L463.39,62.93L463.89,62.94L464.39,63.05L464.89,63.04L465.39,62.99L465.89,63.03L466.39,63.13L466.89,63.25L467.39,63.25L467.89,63.22L468.39,63.16L468.89,63.23L469.39,63.31L469.89,63.46L470.39,63.59L470.89,63.55L471.39,63.83L471.89,63.89L472.39,63.91L472.89,63.96L473.39,63.84L473.89,63.79L474.39,63.73L474.89,63.83L475.39,63.86L475.89,63.87L476.39,63.99L476.89,63.85L477.39,63.71L477.88,63.49L478.38,63.33L478.88,63.41L479.38,63.35L479.88,63.56L480.38,63.51L480.88,63.31L481.38,63.28L481.88,63.11L482.38,63.23L482.88,63.34L483.38,63.14L483.88,63.35L484.38,63.19L484.88,63.14L485.38,63.50L485.88,63.51L486.38,63.69L486.88,63.70L487.38,63.56L487.88,63.40L488.38,63.15L488.88,63.05L489.38,62.75L489.88,62.42L490.38,62.00L490.88,61.71L491.38,61.31L491.88,61.20L492.38,61.44L492.88,61.57L493.38,62.01L493.88,62.51L494.38,62.82L494.88,63.45L495.38,64.02L495.88,64.21L496.38,64.85L496.88,65.47L497.38,66.24L497.88,66.85L498.38,67.21L498.88,67.32L499.38,66.97L499.88,66.54L500.38,65.76L500.88,64.96L501.38,64.29L501.88,63.86L502.38,63.53L502.88,63.21L503.38,63.05L503.88,62.87L504.38,62.74L504.88,62.68L505.38,62.69L505.88,62.84L506.38,62.95L506.88,62.97L507.38,63.11L507.88,62.98L508.38,62.86L508.88,62.90L509.38,62.77L509.88,62.56L510.38,62.46L510.88,62.42L511.38,62.20L511.88,62.21L512.38,62.40L512.88,62.14L513.38,62.31L513.88,62.42L514.38,62.40L514.88,62.60L515.38,62.61L515.88,62.57L516.38,62.37L516.88,62.34L517.38,62.23L517.88,62.08L518.38,62.23L518.88,62.15L519.38,62.13L519.88,62.23L520.38,62.13L520.88,62.18L521.38,62.14L521.88,62.20L522.38,62.24L522.88,62.19L523.38,62.18L523.88,62.19L524.38,62.18L524.88,62.26L525.38,62.23L525.88,62.10L526.38,62.02L526.88,61.99L527.38,61.97L527.88,62.08L528.37,62.30L528.87,62.23L529.37,62.35L529.87,62.30L530.37,62.14L530.87,62.06L531.37,62.00L531.87,61.88L532.37,61.80L532.87,61.93L533.37,61.94L533.87,61.91L534.37,61.81L534.87,61.62L535.37,61.32L535.87,61.31L536.37,61.30L536.87,61.35L537.37,61.47L537.87,61.50L538.37,61.58L538.87,61.38L539.37,61.52L539.87,61.44L540.37,61.31L540.87,61.44L541.37,61.34L541.87,61.35L542.37,61.40L542.87,61.48L543.37,61.37L543.87,61.37L544.37,61.35L544.87,61.17L545.37,61.23L545.87,61.13L546.37,61.11L546.87,61.11L547.37,60.98L547.87,60.97L548.37,60.97L548.87,61.05L549.37,61.09L549.87,61.07L550.37,60.90L550.87,60.71L551.37,60.65L551.87,60.63L552.37,60.79L552.87,61.03L553.37,61.03L553.87,61.06L554.37,61.02L554.87,60.95L555.37,60.79L555.87,60.77L556.37,60.74L556.87,60.36L557.37,60.34L557.87,60.26L558.37,60.02L558.87,60.23L559.37,60.07L559.87,60.12L560.37,60.24L560.87,60.14L561.37,60.29L561.87,59.99L562.37,59.97L562.87,59.97L563.37,59.83L563.87,59.85L564.37,59.58L564.87,59.44L565.37,59.22L565.87,59.26L566.37,59.27L566.87,59.17L567.37,59.33L567.87,59.26L568.37,59.26L568.87,59.32L569.37,59.34L569.87,59.30L570.37,59.34L570.87,59.20L571.37,59.18L571.87,58.91L572.37,58.58L572.87,58.47L573.37,58.30L573.87,58.46L574.37,58.45L574.87,58.47L575.37,58.35L575.87,58.31L576.37,58.27L576.87,58.30L577.37,58.28L577.87,58.32L578.36,58.41L578.86,58.25L579.36,58.24L579.86,58.08L580.36,57.91L580.86,57.91L581.36,57.71L581.86,57.82L582.36,57.79L582.86,57.69L583.36,57.87L583.86,57.72L584.36,57.64L584.86,57.72L585.36,57.59L585.86,57.38L586.36,57.43L586.86,57.25L587.36,57.21L587.86,57.18L588.36,57.01L588.86,56.97L589.36,57.03L589.86,56.94L590.36,56.97L590.86,57.02L591.36,56.67L591.86,56.82L592.36,56.62L592.86,56.54L593.36,56.48L593.86,56.28L594.36,56.50L594.86,56.38L595.36,56.43L595.86,56.32L596.36,56.07L596.86,56.09L597.36,56.01L597.86,55.93L598.36,55.98L598.86,55.92L599.36,55.98L599.86,55.91L600.36,55.76L600.86,55.67L601.36,55.62L601.86,55.48L602.36,55.56L602.86,55.34L603.36,55.09L603.86,55.03L604.36,54.50L604.86,54.08L605.36,53.42L605.86,52.59L606.36,52.05L606.86,51.28L607.36,50.59L607.86,50.08L608.36,49.45L608.86,48.80L609.36,48.37L609.86,47.79L610.36,47.22L610.86,46.91L611.36,46.57L611.86,46.27L612.36,45.99L612.86,45.87L613.36,45.81L613.86,45.76L614.36,45.91L614.86,45.89L615.36,45.65L615.86,45.57L616.36,45.68L616.86,46.10L617.36,46.59L617.86,47.42L618.36,48.10L618.86,48.63L619.36,49.38L619.86,49.89L620.36,50.42L620.86,50.91L621.36,51.29L621.86,51.35L622.36,50.96L622.86,50.51L623.36,49.91L623.86,49.01L624.36,48.22L624.86,47.17L625.36,45.95L625.86,44.81L626.36,43.62L626.86,42.21L627.36,40.84L627.86,39.55L628.35,38.34L628.85,37.24L629.35,36.19L629.85,35.26L630.35,34.20L630.85,33.10L631.35,32.34L631.85,31.66L632.35,31.10L632.85,30.92L633.35,30.74L633.85,30.81L634.35,31.35L634.85,31.97L635.35,32.54L635.85,33.87L636.35,36.27L636.85,39.33L637.35,42.42L637.85,45.70L638.35,49.27L638.85,52.86L639.35,55.88L639.85,58.66L640.35,61.49L640.85,63.63L641.35,64.47L641.85,66.15L642.35,70.41L642.85,76.82L643.35,84.92L643.85,93.84L644.35,103.09L644.85,111.85L645.35,119.48L645.85,126.78L646.35,134.43L646.85,142.44L647.35,150.13L647.85,157.23L648.35,163.26L648.85,167.77L649.35,171.59L649.85,175.17L650.35,178.69L650.85,181.71L651.35,183.87L651.85,185.40L652.35,185.81L652.85,185.11L653.35,183.60L653.85,181.26L654.35,178.49L654.85,175.11L655.35,171.54L655.85,167.83L656.35,163.39L656.85,157.99L657.35,151.87L657.85,145.45L658.35,139.19L658.85,133.76L659.35,128.80L659.85,124.02L660.35,119.67L660.85,115.44L661.35,111.73L661.85,108.38L662.35,105.26L662.85,102.42L663.35,99.83L663.85,97.58L664.35,95.48L664.85,93.79L665.35,92.24L665.85,90.79L666.35,89.70L666.85,88.55L667.35,87.54L667.85,86.95" stroke="#ffa500"/>
<path d="M402.90,61.27L403.40,64.30L403.90,65.52L404.40,64.67L404.90,62.50L405.40,60.89L405.90,60.94L406.40,62.17L406.90,63.76L407.40,64.29L407.90,63.66L408.40,62.23L408.90,61.22L409.40,61.29L409.90,61.91L410.40,62.88L410.90,63.38L411.40,63.03L411.90,62.36L412.40,62.01L412.90,61.94L413.40,62.56L413.90,63.31L414.40,63.58L414.90,63.43L415.40,63.10L415.90,62.93L416.40,62.97L416.90,63.61L417.40,64.16L417.90,64.52L418.40,64.52L418.90,64.23L419.40,63.96L419.90,63.84L420.40,64.11L420.90,64.38L421.40,64.50L421.90,64.30L422.40,63.98L422.90,63.52L423.40,63.36L423.90,63.40L424.40,63.46L424.90,63.38L425.40,63.21L425.90,62.86L426.40,62.44L426.90,62.45L427.40,62.27L427.89,62.53L428.39,62.67L428.89,62.76L429.39,62.75L429.89,62.57L430.39,62.67L430.89,62.60L431.39,62.75L431.89,62.95L432.39,63.06L432.89,63.38L433.39,63.55L433.89,63.49L434.39,63.69L434.89,63.71L435.39,63.89L435.89,64.09L436.39,64.07L436.89,64.17L437.39,64.31L437.89,64.44L438.39,64.38L438.89,64.34L439.39,64.07L439.89,63.95L440.39,64.08L440.89,63.89L441.39,63.77L441.89,63.63L442.39,63.35L442.89,63.20L443.39,63.11L443.89,62.88L444.39,62.74L444.89,62.85L445.39,62.73L445.89,62.74L446.39,62.75L446.89,62.51L447.39,62.55L447.89,62.50L448.39,62.42L448.89,62.54L449.39,62.75L449.89,62.99L450.39,63.15L450.89,63.33L451.39,63.43L451.89,63.55L452.39,63.74L452.89,63.84L453.39,63.84L453.89,64.00L454.39,64.14L454.89,64.23L455.39,64.31L455.89,64.41L456.39,64.38L456.89,64.42L457.39,64.22L457.89,63.83L458.39,63.56L458.89,63.27L459.39,63.30L459.89,63.21L460.39,63.24L460.89,63.13L461.39,63.05L461.89,63.07L462.39,62.93L462.89,62.76L463.39,62.64L463.89,62.37L464.39,62.17L464.89,62.43L465.39,62.45L465.89,62.76L466.39,63.05L466.89,63.06L467.39,63.14L467.89,63.07L468.39,63.07L468.89,63.09L469.39,63.18L469.89,63.33L470.39,63.47L470.89,63.51L471.39,63.56L471.89,63.57L472.39,63.72L472.89,63.72L473.39,63.58L473.89,63.60L474.39,63.59L474.89,63.51L475.39,63.64L475.89,63.86L476.39,63.71L476.89,63.72L477.39,63.61L477.88,63.22L478.38,63.10L478.88,63.10L479.38,63.26L479.88,63.42L480.38,63.44L480.88,63.38L481.38,63.30L481.88,63.26L482.38,63.24L482.88,63.46L483.38,63.55L483.88,63.54L484.38,63.57L484.88,63.47L485.38,63.51L485.88,63.50L486.38,63.64L486.88,63.54L487.38,63.33L487.88,63.25L488.38,62.99L488.88,62.92L489.38,62.59L489.88,62.17L490.38,61.81L490.88,61.28L491.38,61.13L491.88,61.05L492.38,61.14L492.88,61.57L493.38,61.87L493.88,62.35L494.38,62.80L494.88,63.12L495.38,63.43L495.88,63.76L496.38,64.16L496.88,64.89L497.38,65.62L497.88,66.06L498.38,66.34L498.88,66.16L499.38,65.88L499.88,65.52L500.38,64.98L500.88,64.56L501.38,64.22L501.88,63.79L502.38,63.59L502.88,63.09L503.38,62.90L503.88,62.81L504.38,62.76L504.88,62.87L505.38,62.82L505.88,62.83L506.38,62.73L506.88,62.76L507.38,62.61L507.88,62.47L508.38,62.48L508.88,62.35L509.38,62.37L509.88,62.47L510.38,62.22L510.88,62.45L511.38,62.50L511.88,62.62L512.38,62.81L512.88,62.63L513.38,62.25L513.88,62.05L514.38,61.86L514.88,61.71L515.38,62.05L515.88,62.02L516.38,62.01L516.88,62.08L517.38,62.01L517.88,61.99L518.38,62.24L518.88,62.30L519.38,62.27L519.88,62.25L520.38,62.18L520.88,62.12L521.38,62.14L521.88,62.18L522.38,62.03L522.88,61.98L523.38,61.94L523.88,62.02L524.38,62.15L524.88,62.11L525.38,62.24L525.88,62.08L526.38,62.03L526.88,62.10L527.38,61.90L527.88,61.96L528.37,61.95L528.87,61.92L529.37,61.95L529.87,61.65L530.37,61.74L530.87,61.66L531.37,61.67L531.87,61.79L532.37,61.63L532.87,61.81L533.37,61.66L533.87,61.81L534.37,61.76L534.87,61.65L535.37,61.83L535.87,61.76L536.37,61.66L536.87,61.46L537.37,61.39L537.87,61.29L538.37,61.37L538.87,61.41L539.37,61.32L539.87,61.29L540.37,61.29L540.87,61.28L541.37,61.25L541.87,61.27L542.37,61.26L542.87,61.09L543.37,61.12L543.87,61.04L544.37,60.93L544.87,60.95L545.37,61.06L545.87,60.93L546.37,60.94L546.87,61.11L547.37,60.89L547.87,60.85L548.37,60.76L548.87,60.74L549.37,60.76L549.87,60.80L550.37,60.93L550.87,60.82L551.37,60.77L551.87,60.67L552.37,60.55L552.87,60.40L553.37,60.40L553.87,60.61L554.37,60.47L554.87,60.49L555.37,60.54L555.87,60.38L556.37,60.38L556.87,60.44L557.37,60.24L557.87,60.23L558.37,60.28L558.87,60.23L559.37,60.26L559.87,60.26L560.37,60.28L560.87,60.19L561.37,60.21L561.87,60.14L562.37,59.99L562.87,60.02L563.37,59.78L563.87,59.57L564.37,59.41L564.87,59.38L565.37,59.30L565.87,59.39L566.37,59.45L566.87,59.33L567.37,59.38L567.87,59.24L568.37,59.13L568.87,59.06L569.37,59.07L569.87,59.16L570.37,59.10L570.87,58.86L571.37,58.84L571.87,58.75L572.37,58.78L572.87,58.94L573.37,58.77L573.87,58.67L574.37,58.70L574.87,58.68L575.37,58.56L575.87,58.53L576.37,58.31L576.87,58.22L577.37,58.30L577.87,58.24L578.36,58.27L578.86,58.27L579.36,58.19L579.86,58.10L580.36,58.10L580.86,57.87L581.36,57.76L581.86,57.86L582.36,57.72L582.86,57.76L583.36,57.71L583.86,57.54L584.36,57.59L584.86,57.65L585.36,57.57L585.86,57.56L586.36,57.37L586.86,57.18L587.36,57.09L587.86,57.14L588.36,57.03L588.86,57.08L589.36,57.09L589.86,56.83L590.36,56.98L590.86,56.83L591.36,56.86L591.86,56.95L592.36,56.78L592.86,56.85L593.36,56.86L593.86,56.73L594.36,56.61L594.86,56.52L595.36,56.51L595.86,56.32L596.36,56.24L596.86,56.11L597.36,56.01L597.86,56.19L598.36,56.19L598.86,56.24L599.36,55.97L599.86,55.85L600.36,55.77L600.86,55.70L601.36,55.83L601.86,55.81L602.36,55.71L602.86,55.51L603.36,55.27L603.86,54.88L604.36,54.51L604.86,53.94L605.36,53.47L605.86,53.10L606.36,52.58L606.86,51.94L607.36,51.27L607.86,50.48L608.36,49.84L608.86,49.35L609.36,48.77L609.86,48.31L610.36,47.80L610.86,47.32L611.36,46.91L611.86,46.54L612.36,46.31L612.86,46.27L613.36,46.28L613.86,46.18L614.36,46.27L614.86,46.20L615.36,46.30L615.86,46.51L616.36,46.73L616.86,47.19L617.36,47.42L617.86,47.89L618.36,48.42L618.86,49.06L619.36,49.89L619.86,50.27L620.36,50.72L620.86,51.09L621.36,51.44L621.86,51.72L622.36,51.49L622.86,50.99L623.36,50.21L623.86,49.40L624.36,48.40L624.86,47.36L625.36,46.19L625.86,45.10L626.36,43.86L626.86,42.49L627.36,41.21L627.86,39.94L628.35,39.09L628.85,38.08L629.35,36.97L629.85,35.96L630.35,35.05L630.85,34.35L631.35,33.66L631.85,32.99L632.35,32.54L632.85,32.10L633.35,31.92L633.85,32.16L634.35,32.34L634.85,33.01L635.35,33.72L635.85,35.16L636.35,37.71L636.85,40.56L637.35,43.38L637.85,46.45L638.35,49.94L638.85,53.29L639.35,56.36L639.85,58.84L640.35,61.47L640.85,63.65L641.35,64.52L641.85,66.16L642.35,70.17L642.85,76.10L643.35,83.72L643.85,92.14L644.35,100.72L644.85,108.90L645.35,115.91L645.85,122.73L646.35,130.17L646.85,137.66L647.35,144.89L647.85,151.31L648.35,156.93L648.85,161.23L649.35,164.97L649.85,168.70L650.35,171.95L650.85,174.89L651.35,177.05L651.85,178.48L652.35,178.94L652.85,178.41L653.35,176.80L653.85,174.52L654.35,171.70L654.85,168.33L655.35,164.95L655.85,161.49L656.35,157.40L656.85,152.33L657.35,146.47L657.85,140.52L658.35,134.64L658.85,129.45L659.35,124.85L659.85,120.38L660.35,116.35L660.85,112.54L661.35,109.00L661.85,105.73L662.35,102.78L662.85,100.08L663.35,97.50L663.85,95.40L664.35,93.38L664.85,91.71L665.35,90.57L665.85,89.20L666.35,88.14L666.85,87.24L667.35,86.41L667.85,85.89" stroke="#00ffff"/>
<path d="M402.90,58.78L403.40,62.44L403.90,64.26L404.40,63.62L404.90,61.77L405.40,60.20L405.90,60.30L406.40,61.72L406.90,63.27L407.40,64.10L407.90,63.26L408.40,62.15L408.90,61.15L409.40,61.10L409.90,62.19L410.40,62.92L410.90,63.39L411.40,62.96L411.90,61.96L412.40,61.50L412.90,61.74L413.40,62.51L413.90,63.36L414.40,63.74L414.90,63.65L415.40,63.29L415.90,63.01L416.40,63.16L416.90,63.40L417.40,63.73L417.90,64.16L418.40,64.19L418.90,64.25L419.40,64.34L419.90,64.21L420.40,64.41L420.90,64.57L421.40,64.52L421.90,64.32L422.40,63.97L422.90,63.65L423.40,63.40L423.90,63.38L424.40,63.29L424.90,63.08L425.40,63.03L425.90,62.80L426.40,62.67L426.90,62.55L427.40,62.38L427.89,62.50L428.39,62.34L428.89,62.48L429.39,62.40L429.89,62.29L430.39,62.54L430.89,62.68L431.39,62.97L431.89,63.14L432.39,63.26L432.89,63.24L433.39,63.46L433.89,63.62L434.39,63.74L434.89,64.12L435.39,64.12L435.89,64.32L436.39,64.59L436.89,64.54L437.39,64.62L437.89,64.47L438.39,64.31L438.89,64.10L439.39,63.88L439.89,63.76L440.39,63.48L440.89,63.44L441.39,63.46L441.89,63.35L442.39,63.22L442.89,63.07L443.39,62.88L443.89,62.91L444.39,62.80L444.89,62.68L445.39,62.69L445.89,62.49L446.39,62.44L446.89,62.46L447.39,62.31L447.89,62.30L448.39,62.55L448.89,62.67L449.39,62.81L449.89,62.93L450.39,62.84L450.89,63.13L451.39,63.34L451.89,63.52L452.39,63.69L452.89,63.54L453.39,63.73L453.89,63.92L454.39,64.18L454.89,64.30L455.39,64.36L455.89,64.23L456.39,64.04L456.89,64.01L457.39,64.00L457.89,64.06L458.39,63.97L458.89,64.01L459.39,63.72L459.89,63.54L460.39,63.40L460.89,63.14L461.39,62.98L461.89,62.91L462.39,62.89L462.89,62.85L463.39,62.76L463.89,62.71L464.39,62.61L464.89,62.75L465.39,62.73L465.89,62.77L466.39,62.82L466.89,62.74L467.39,62.85L467.89,62.80L468.39,63.03L468.89,63.12L469.39,63.29L469.89,63.48L470.39,63.64L470.89,63.73L471.39,63.79L471.89,63.91L472.39,63.82L472.89,63.95L473.39,63.82L473.89,63.71L474.39,63.52L474.89,63.44L475.39,63.61L475.89,63.58L476.39,63.82L476.89,63.68L477.39,63.59L477.88,63.59L478.38,63.39L478.88,63.36L479.38,63.12L479.88,63.01L480.38,63.11L480.88,63.02L481.38,63.28L481.88,63.33L482.38,63.33L482.88,63.49L483.38,63.29L483.88,63.36L484.38,63.32L484.88,63.32L485.38,63.47L485.88,63.31L486.38,63.36L486.88,63.41L487.38,63.31L487.88,63.51L488.38,63.34L488.88,62.98L489.38,62.77L489.88,62.35L490.38,61.99L490.88,61.79L491.38,61.57L491.88,61.41L492.38,61.33L492.88,61.42L493.38,61.77L493.88,62.20L494.38,62.63L494.88,63.29L495.38,63.69L495.88,64.03L496.38,64.66L496.88,65.24L497.38,65.87L497.88,66.57L498.38,66.91L498.88,66.87L499.38,66.54L499.88,65.96L500.38,65.14L500.88,64.52L501.38,64.13L501.88,63.76L502.38,63.62L502.88,63.42L503.38,63.10L503.88,62.91L504.38,62.80L504.88,62.61L505.38,62.75L505.88,62.69L506.38,62.67L506.88,62.80L507.38,62.66L507.88,62.82L508.38,62.75L508.88,62.73L509.38,62.74L509.88,62.49L510.38,62.48L510.88,62.44L511.38,62.46L511.88,62.58L512.38,62.71L512.88,62.73L513.38,62.71L513.88,62.62L514.38,62.65L514.88,62.55L515.38,62.50L515.88,62.52L516.38,62.44L516.88,62.33L517.38,62.46L517.88,62.40L518.38,62.17L518.88,62.41L519.38,62.27L519.88,62.28L520.38,62.38L520.88,62.26L521.38,62.29L521.88,62.41L522.38,62.40L522.88,62.28L523.38,62.29L523.88,62.24L524.38,62.27L524.88,62.30L525.38,62.23L525.88,62.14L526.38,62.08L526.88,62.17L527.38,62.38L527.88,62.31L528.37,62.18L528.87,62.17L529.37,61.98L529.87,61.99L530.37,62.01L530.87,61.83L531.37,61.65L531.87,61.66L532.37,61.69L532.87,61.69L533.37,61.81L533.87,61.69L534.37,61.66L534.87,61.59L535.37,61.57L535.87,61.56L536.37,61.68L536.87,61.71L537.37,61.87L537.87,62.02L538.37,61.85L538.87,61.90L539.37,61.65L539.87,61.68L540.37,61.60L540.87,61.49L541.37,61.48L541.87,61.30L542.37,61.38L542.87,61.29L543.37,61.25L543.87,61.38L544.37,61.40L544.87,61.39L545.37,61.34L545.87,61.23L546.37,61.14L546.87,61.21L547.37,61.18L547.87,61.25L548.37,61.35L548.87,61.28L549.37,61.32L549.87,61.14L550.37,60.88L550.87,60.93L551.37,60.87L551.87,60.92L552.37,61.10L552.87,61.05L553.37,61.16L553.87,61.26L554.37,61.07L554.87,61.04L555.37,60.80L555.87,60.58L556.37,60.65L556.87,60.55L557.37,60.55L557.87,60.62L558.37,60.49L558.87,60.59L559.37,60.59L559.87,60.25L560.37,60.30L560.87,60.04L561.37,60.05L561.87,60.16L562.37,60.12L562.87,60.18L563.37,60.18L563.87,60.26L564.37,60.19L564.87,60.30L565.37,60.26L565.87,60.08L566.37,60.12L566.87,60.01L567.37,59.99L567.87,59.98L568.37,59.91L568.87,59.78L569.37,59.66L569.87,59.48L570.37,59.43L570.87,59.56L571.37,59.49L571.87,59.59L572.37,59.49L572.87,59.42L573.37,59.29L573.87,59.24L574.37,59.21L574.87,59.17L575.37,59.17L575.87,59.13L576.37,58.97L576.87,58.83L577.37,58.93L577.87,58.87L578.36,59.01L578.86,58.89L579.36,58.84L579.86,58.81L580.36,58.71L580.86,58.71L581.36,58.61L581.86,58.63L582.36,58.57L582.86,58.57L583.36,58.47L583.86,58.38L584.36,58.51L584.86,58.42L585.36,58.28L585.86,58.19L586.36,57.91L586.86,57.82L587.36,57.93L587.86,58.01L588.36,57.95L588.86,57.86L589.36,57.73L589.86,57.54L590.36,57.53L590.86,57.57L591.36,57.55L591.86,57.54L592.36,57.50L592.86,57.53L593.36,57.56L593.86,57.47L594.36,57.48L594.86,57.55L595.36,57.44L595.86,57.62L596.36,57.39L596.86,57.09L597.36,56.99L597.86,56.80L598.36,56.99L598.86,57.02L599.36,57.02L599.86,56.97L600.36,56.81L600.86,56.67L601.36,56.55L601.86,56.49L602.36,56.58L602.86,56.52L603.36,56.44L603.86,56.06L604.36,55.43L604.86,54.91L605.36,54.43L605.86,53.96L606.36,53.48L606.86,53.04L607.36,52.42L607.86,51.81L608.36,51.36L608.86,50.90L609.36,50.51L609.86,50.12L610.36,49.72L610.86,49.23L611.36,48.89L611.86,48.58L612.36,48.30L612.86,48.34L613.36,48.13L613.86,48.19L614.36,48.11L614.86,47.93L615.36,48.00L615.86,48.00L616.36,48.38L616.86,48.72L617.36,49.07L617.86,49.53L618.36,49.95L618.86,50.69L619.36,51.31L619.86,51.89L620.36,52.25L620.86,52.50L621.36,52.76L621.86,52.82L622.36,52.44L622.86,52.01L623.36,51.42L623.86,50.76L624.36,50.14L624.86,49.24L625.36,48.18L625.86,47.18L626.36,46.25L626.86,45.16L627.36,44.07L627.86,42.98L628.35,42.08L628.85,41.00L629.35,40.17L629.85,39.29L630.35,38.34L630.85,37.87L631.35,37.13L631.85,36.52L632.35,36.16L632.85,35.67L633.35,35.58L633.85,35.74L634.35,36.02L634.85,36.46L635.35,37.05L635.85,38.25L636.35,40.46L636.85,43.20L637.35,45.92L637.85,48.62L638.35,51.61L638.85,54.54L639.35,56.95L639.85,59.39L640.35,61.80L640.85,63.64L641.35,64.33L641.85,65.81L642.35,69.36L642.85,74.65L643.35,81.33L643.85,88.22L644.35,95.57L644.85,102.64L645.35,108.94L645.85,115.05L646.35,121.57L646.85,128.14L647.35,134.38L647.85,140.25L648.35,145.12L648.85,148.78L649.35,151.82L649.85,154.77L650.35,157.76L650.85,160.21L651.35,162.11L651.85,163.39L652.35,163.72L652.85,163.29L653.35,162.15L653.85,160.12L654.35,157.72L654.85,155.05L655.35,152.02L655.85,149.20L656.35,145.56L656.85,140.94L657.35,135.97L657.85,130.54L658.35,125.56L658.85,121.15L659.35,117.08L659.85,113.32L660.35,109.62L660.85,106.34L661.35,103.27L661.85,100.55L662.35,97.91L662.85,95.37L663.35,93.27L663.85,91.22L664.35,89.66L664.85,88.40L665.35,87.07L665.85,85.94L666.35,84.97L666.85,84.05L667.35,83.31L667.85,82.87" stroke="#0af514"/>
<path d="M402.90,59.71L403.40,63.03L403.90,64.65L404.40,64.00L404.90,62.44L405.40,61.14L405.90,61.30L406.40,62.76L406.90,64.02L407.40,64.53L407.90,64.01L408.40,62.66L408.90,61.90L409.40,61.82L409.90,62.41L410.40,63.35L410.90,63.69L411.40,63.45L411.90,62.78L412.40,62.32L412.90,62.43L413.40,63.01L413.90,63.79L414.40,64.16L414.90,64.11L415.40,63.92L415.90,63.60L416.40,63.85L416.90,64.30L417.40,64.79L417.90,65.06L418.40,64.96L418.90,64.73L419.40,64.47L419.90,64.64L420.40,64.73L420.90,64.95L421.40,65.01L421.90,64.72L422.40,64.42L422.90,64.04L423.40,63.74L423.90,63.66L424.40,63.72L424.90,63.71L425.40,63.59L425.90,63.24L426.40,62.97L426.90,62.86L427.40,62.86L427.89,62.98L428.39,63.00L428.89,62.97L429.39,63.15L429.89,63.21L430.39,63.20L430.89,63.26L431.39,63.40L431.89,63.51L432.39,63.86L432.89,63.85L433.39,63.80L433.89,64.05L434.39,64.02L434.89,64.41L435.39,64.53L435.89,64.53L436.39,64.75L436.89,64.69L437.39,64.88L437.89,64.80L438.39,64.70L438.89,64.79L439.39,64.75L439.89,64.62L440.39,64.39L440.89,64.27L441.39,63.86L441.89,63.83L442.39,63.80L442.89,63.54L443.39,63.53L443.89,63.28L444.39,63.12L444.89,63.15L445.39,62.88L445.89,62.86L446.39,62.92L446.89,62.79L447.39,63.03L447.89,63.14L448.39,63.10L448.89,63.16L449.39,63.25L449.89,63.45L450.39,63.56L450.89,63.74L451.39,63.68L451.89,63.85L452.39,64.01L452.89,64.14L453.39,64.50L453.89,64.43L454.39,64.55L454.89,64.68L455.39,64.67L455.89,64.69L456.39,64.77L456.89,64.54L457.39,64.38L457.89,64.39L458.39,64.08L458.89,63.93L459.39,63.81L459.89,63.65L460.39,63.48L460.89,63.38L461.39,63.38L461.89,63.31L462.39,63.38L462.89,63.45L463.39,63.45L463.89,63.33L464.39,63.29L464.89,63.26L465.39,63.05L465.89,63.21L466.39,63.28L466.89,63.33L467.39,63.56L467.89,63.61L468.39,63.63L468.89,63.74L469.39,63.69L469.89,63.82L470.39,63.94L470.89,64.12L471.39,64.29L471.89,64.33L472.39,64.27L472.89,64.11L473.39,64.07L473.89,63.86L474.39,63.83L474.89,63.81L475.39,63.86L475.89,64.07L476.39,64.14L476.89,64.17L477.39,64.12L477.88,63.98L478.38,64.06L478.88,63.87L479.38,63.88L479.88,63.88L480.38,63.68L480.88,63.92L481.38,63.75L481.88,63.62L482.38,63.70L482.88,63.67L483.38,63.79L483.88,64.03L484.38,63.91L484.88,63.84L485.38,63.88L485.88,63.81L486.38,63.88L486.88,63.77L487.38,63.79L487.88,63.71L488.38,63.79L488.88,63.69L489.38,63.33L489.88,62.78L490.38,62.27L490.88,61.99L491.38,61.79L491.88,61.80L492.38,62.00L492.88,62.16L493.38,62.44L493.88,62.91L494.38,63.21L494.88,63.54L495.38,63.72L495.88,63.98L496.38,64.16L496.88,64.50L497.38,65.10L497.88,65.44L498.38,65.79L498.88,65.93L499.38,65.68L499.88,65.36L500.38,64.94L500.88,64.70L501.38,64.55L501.88,64.42L502.38,64.15L502.88,63.91L503.38,63.75L503.88,63.54L504.38,63.50L504.88,63.51L505.38,63.48L505.88,63.47L506.38,63.47L506.88,63.47L507.38,63.39L507.88,63.43L508.38,63.36L508.88,63.35L509.38,63.29L509.88,63.24L510.38,63.40L510.88,63.23L511.38,63.22L511.88,63.35L512.38,63.10L512.88,63.26L513.38,63.40L513.88,63.31L514.38,63.39L514.88,63.25L515.38,63.17L515.88,63.03L516.38,63.05L516.88,62.97L517.38,62.73L517.88,62.81L518.38,63.04L518.88,63.18L519.38,63.48L519.88,63.47L520.38,63.25L520.88,63.30L521.38,63.30L521.88,63.32L522.38,63.33L522.88,63.43L523.38,63.25L523.88,63.22L524.38,63.19L524.88,62.95L525.38,63.10L525.88,63.09L526.38,63.00L526.88,62.93L527.38,62.80L527.88,62.80L528.37,62.94L528.87,62.91L529.37,62.89L529.87,62.89L530.37,62.99L530.87,63.16L531.37,63.34L531.87,63.20L532.37,63.00L532.87,62.97L533.37,62.83L533.87,62.71L534.37,62.61L534.87,62.65L535.37,62.63L535.87,62.92L536.37,63.15L536.87,63.02L537.37,62.80L537.87,62.56L538.37,62.40L538.87,62.43L539.37,62.60L539.87,62.63L540.37,62.74L540.87,62.85L541.37,62.70L541.87,62.74L542.37,62.48L542.87,62.30L543.37,62.31L543.87,62.37L544.37,62.45L544.87,62.33L545.37,62.35L545.87,62.32L546.37,62.28L546.87,62.44L547.37,62.63L547.87,62.53L548.37,62.47L548.87,62.33L549.37,62.30L549.87,62.26L550.37,62.30L550.87,62.39L551.37,62.48L551.87,62.45L552.37,62.41L552.87,62.32L553.37,62.24L553.87,62.43L554.37,62.40L554.87,62.35L555.37,62.15L555.87,62.02L556.37,62.05L556.87,62.14L557.37,62.19L557.87,62.21L558.37,62.20L558.87,62.17L559.37,62.04L559.87,61.88L560.37,61.94L560.87,61.73L561.37,61.88L561.87,61.87L562.37,61.69L562.87,61.71L563.37,61.77L563.87,61.69L564.37,61.65L564.87,61.61L565.37,61.58L565.87,61.69L566.37,61.77L566.87,61.90L567.37,61.58L567.87,61.55L568.37,61.41L568.87,61.29L569.37,61.49L569.87,61.49L570.37,61.60L570.87,61.61L571.37,61.38L571.87,61.28L572.37,61.14L572.87,61.24L573.37,61.55L573.87,61.53L574.37,61.54L574.87,61.41L575.37,61.21L575.87,61.12L576.37,60.97L576.87,60.92L577.37,60.87L577.87,60.94L578.36,60.91L578.86,60.88L579.36,60.74L579.86,60.54L580.36,60.59L580.86,60.63L581.36,60.57L581.86,60.58L582.36,60.60L582.86,60.41L583.36,60.51L583.86,60.55L584.36,60.61L584.86,60.60L585.36,60.58L585.86,60.51L586.36,60.53L586.86,60.57L587.36,60.52L587.86,60.53L588.36,60.40L588.86,60.38L589.36,60.34L589.86,60.47L590.36,60.36L590.86,60.37L591.36,60.34L591.86,60.21L592.36,60.19L592.86,60.19L593.36,60.10L593.86,59.90L594.36,59.82L594.86,59.62L595.36,59.58L595.86,59.75L596.36,59.74L596.86,59.71L597.36,59.66L597.86,59.46L598.36,59.52L598.86,59.63L599.36,59.58L599.86,59.50L600.36,59.56L600.86,59.40L601.36,59.42L601.86,59.40L602.36,59.23L602.86,59.14L603.36,58.96L603.86,58.80L604.36,58.72L604.86,58.51L605.36,58.33L605.86,58.23L606.36,57.75L606.86,57.57L607.36,57.11L607.86,56.47L608.36,56.20L608.86,55.69L609.36,55.43L609.86,55.22L610.36,55.01L610.86,54.79L611.36,54.62L611.86,54.49L612.36,54.29L612.86,54.18L613.36,54.10L613.86,54.05L614.36,53.90L614.86,53.94L615.36,53.88L615.86,53.97L616.36,54.18L616.86,54.45L617.36,54.71L617.86,54.87L618.36,55.24L618.86,55.53L619.36,55.96L619.86,56.47L620.36,56.68L620.86,56.87L621.36,57.11L621.86,57.24L622.36,57.13L622.86,56.99L623.36,56.38L623.86,55.82L624.36,55.36L624.86,54.77L625.36,54.27L625.86,53.68L626.36,53.10L626.86,52.36L627.36,51.76L627.86,50.95L628.35,50.34L628.85,49.69L629.35,49.04L629.85,48.67L630.35,47.91L630.85,47.66L631.35,47.11L631.85,46.75L632.35,46.57L632.85,46.00L633.35,46.23L633.85,46.31L634.35,46.42L634.85,46.90L635.35,47.15L635.85,47.83L636.35,49.38L636.85,51.04L637.35,52.53L637.85,54.31L638.35,56.18L638.85,58.02L639.35,59.61L639.85,61.12L640.35,62.59L640.85,63.87L641.35,64.54L641.85,65.41L642.35,67.84L642.85,71.44L643.35,75.83L643.85,80.60L644.35,85.41L644.85,89.81L645.35,93.78L645.85,97.64L646.35,101.79L646.85,106.11L647.35,110.22L647.85,114.01L648.35,117.15L648.85,119.72L649.35,121.78L649.85,123.89L650.35,125.83L650.85,127.40L651.35,128.45L651.85,129.17L652.35,129.43L652.85,129.02L653.35,128.20L653.85,127.00L654.35,125.34L654.85,123.58L655.35,121.78L655.85,119.74L656.35,117.57L656.85,114.64L657.35,111.50L657.85,107.99L658.35,104.66L658.85,101.82L659.35,99.05L659.85,96.37L660.35,93.92L660.85,91.61L661.35,89.41L661.85,87.85L662.35,86.28L662.85,84.76L663.35,83.51L663.85,82.12L664.35,80.97L664.85,80.09L665.35,79.30L665.85,78.62L666.35,78.02L666.85,77.36L667.35,76.91L667.85,76.60" stroke="#0548ff"/>
<path d="M402.90,70.17L403.40,71.20L403.90,71.16L404.40,69.19L404.90,66.40L405.40,64.25L405.90,63.54L406.40,64.43L406.90,65.62L407.40,65.93L407.90,64.95L408.40,63.46L408.90,62.25L409.40,62.12L409.90,62.94L410.40,63.66L410.90,64.05L411.40,63.59L411.90,62.84L412.40,62.48L412.90,62.46L413.40,63.10L413.90,63.84L414.40,64.32L414.90,64.18L415.40,63.90L415.90,63.75L416.40,63.74L416.90,64.41L417.40,64.90L417.90,65.23L418.40,65.30L418.90,65.09L419.40,64.88L419.90,64.84L420.40,65.04L420.90,65.19L421.40,65.26L421.90,65.12L422.40,64.72L422.90,64.38L423.40,64.21L423.90,64.21L424.40,64.20L424.90,64.25L425.40,64.05L425.90,63.70L426.40,63.59L426.90,63.44L427.40,63.48L427.89,63.33L428.39,63.30L428.89,63.21L429.39,63.03L429.89,63.16L430.39,63.13L430.89,63.35L431.39,63.67L431.89,63.59L432.39,63.81L432.89,63.86L433.39,63.89L433.89,64.24L434.39,64.51L434.89,64.64L435.39,64.80L435.89,64.92L436.39,64.88L436.89,65.00L437.39,65.10L437.89,65.38L438.39,65.31L438.89,65.35L439.39,65.23L439.89,64.79L440.39,64.78L440.89,64.48L441.39,64.32L441.89,64.25L442.39,64.06L442.89,63.98L443.39,63.70L443.89,63.62L444.39,63.60L444.89,63.48L445.39,63.46L445.89,63.46L446.39,63.25L446.89,63.15L447.39,63.04L447.89,63.05L448.39,63.13L448.89,63.42L449.39,63.75L449.89,63.82L450.39,63.99L450.89,64.01L451.39,64.15L451.89,64.37L452.39,64.59L452.89,64.71L453.39,64.78L453.89,64.78L454.39,64.74L454.89,64.72L455.39,64.93L455.89,65.02L456.39,65.09L456.89,65.18L457.39,64.87L457.89,64.68L458.39,64.57L458.89,64.39L459.39,64.24L459.89,64.20L460.39,64.09L460.89,63.90L461.39,63.85L461.89,63.60L462.39,63.46L462.89,63.40L463.39,63.43L463.89,63.58L464.39,63.60L464.89,63.88L465.39,63.83L465.89,63.72L466.39,63.77L466.89,63.64L467.39,63.67L467.89,63.83L468.39,63.85L468.89,63.75L469.39,63.86L469.89,63.87L470.39,63.98L470.89,64.20L471.39,64.29L471.89,64.40L472.39,64.39L472.89,64.55L473.39,64.60L473.89,64.54L474.39,64.68L474.89,64.53L475.39,64.52L475.89,64.49L476.39,64.31L476.89,64.14L477.39,63.99L477.88,64.03L478.38,64.04L478.88,64.06L479.38,63.96L479.88,64.04L480.38,64.01L480.88,64.19L481.38,64.24L481.88,64.03L482.38,64.03L482.88,63.82L483.38,63.87L483.88,63.97L484.38,64.00L484.88,63.99L485.38,64.05L485.88,64.01L486.38,64.14L486.88,64.14L487.38,64.15L487.88,64.16L488.38,64.01L488.88,64.00L489.38,63.74L489.88,63.25L490.38,62.77L490.88,62.23L491.38,61.83L491.88,61.90L492.38,62.01L492.88,62.26L493.38,62.55L493.88,62.96L494.38,63.45L494.88,63.83L495.38,64.28L495.88,64.42L496.38,64.45L496.88,64.75L497.38,65.11L497.88,65.21L498.38,65.34L498.88,65.22L499.38,64.86L499.88,64.68L500.38,64.51L500.88,64.44L501.38,64.52L501.88,64.48L502.38,64.30L502.88,64.12L503.38,63.76L503.88,63.70L504.38,63.90L504.88,63.88L505.38,63.95L505.88,64.02L506.38,64.00L506.88,64.05L507.38,64.07L507.88,64.06L508.38,63.95L508.88,64.01L509.38,64.16L509.88,64.17L510.38,64.12L510.88,64.08L511.38,64.04L511.88,64.13L512.38,64.00L512.88,64.04L513.38,63.99L513.88,63.87L514.38,63.97L514.88,64.01L515.38,63.99L515.88,63.90L516.38,63.86L516.88,63.82L517.38,63.87L517.88,63.87L518.38,63.77L518.88,63.79L519.38,63.71L519.88,63.74L520.38,63.87L520.88,63.70L521.38,63.71L521.88,63.63L522.38,63.62L522.88,63.72L523.38,63.74L523.88,63.88L524.38,63.93L524.88,63.94L525.38,63.93L525.88,63.74L526.38,63.67L526.88,63.57L527.38,63.45L527.88,63.70L528.37,63.69L528.87,63.72L529.37,63.81L529.87,63.72L530.37,63.70L530.87,63.60L531.37,63.50L531.87,63.40L532.37,63.39L532.87,63.40L533.37,63.33L533.87,63.22L534.37,63.25L534.87,63.31L535.37,63.43L535.87,63.50L536.37,63.55L536.87,63.49L537.37,63.55L537.87,63.62L538.37,63.55L538.87,63.65L539.37,63.60L539.87,63.70L540.37,63.65L540.87,63.60L541.37,63.58L541.87,63.37L542.37,63.41L542.87,63.46L543.37,63.28L543.87,63.35L544.37,63.28L544.87,63.07L545.37,63.27L545.87,63.22L546.37,63.35L546.87,63.40L547.37,63.37L547.87,63.46L548.37,63.28L548.87,63.28L549.37,63.31L549.87,63.12L550.37,63.20L550.87,63.05L551.37,62.83L551.87,62.96L552.37,62.99L552.87,63.26L553.37,63.38L553.87,63.32L554.37,63.23L554.87,63.14L555.37,63.25L555.87,63.31L556.37,63.24L556.87,63.15L557.37,63.03L557.87,62.96L558.37,63.07L558.87,63.15L559.37,63.25L559.87,63.16L560.37,63.18L560.87,63.16L561.37,63.21L561.87,63.24L562.37,63.07L562.87,63.24L563.37,62.90L563.87,62.87L564.37,63.02L564.87,62.95L565.37,62.96L565.87,62.96L566.37,62.84L566.87,62.71L567.37,62.85L567.87,62.79L568.37,62.89L568.87,62.78L569.37,62.83L569.87,62.96L570.37,62.98L570.87,62.93L571.37,62.92L571.87,62.92L572.37,62.73L572.87,62.80L573.37,62.47L573.87,62.21L574.37,62.20L574.87,62.14L575.37,62.45L575.87,62.65L576.37,62.70L576.87,62.76L577.37,62.70L577.87,62.69L578.36,62.71L578.86,62.60L579.36,62.44L579.86,62.38L580.36,62.31L580.86,62.36L581.36,62.43L581.86,62.41L582.36,62.51L582.86,62.46L583.36,62.31L583.86,62.24L584.36,62.05L584.86,62.06L585.36,61.96L585.86,61.95L586.36,62.08L586.86,62.17L587.36,62.26L587.86,62.18L588.36,61.99L588.86,61.82L589.36,61.85L589.86,62.03L590.36,62.14L590.86,62.33L591.36,62.36L591.86,62.33L592.36,62.25L592.86,62.10L593.36,62.21L593.86,62.03L594.36,61.96L594.86,62.04L595.36,61.85L595.86,61.84L596.36,61.90L596.86,61.70L597.36,61.68L597.86,61.63L598.36,61.57L598.86,61.64L599.36,61.59L599.86,61.59L600.36,61.57L600.86,61.56L601.36,61.64L601.86,61.70L602.36,61.73L602.86,61.64L603.36,61.49L603.86,61.37L604.36,61.20L604.86,61.06L605.36,60.80L605.86,60.54L606.36,60.40L606.86,60.17L607.36,60.08L607.86,59.95L608.36,59.71L608.86,59.60L609.36,59.51L609.86,59.52L610.36,59.32L610.86,59.03L611.36,58.88L611.86,58.57L612.36,58.56L612.86,58.59L613.36,58.54L613.86,58.57L614.36,58.52L614.86,58.72L615.36,58.63L615.86,58.66L616.36,58.93L616.86,58.81L617.36,58.98L617.86,59.10L618.36,59.06L618.86,59.38L619.36,59.70L619.86,59.94L620.36,60.15L620.86,60.08L621.36,59.95L621.86,59.99L622.36,59.92L622.86,59.89L623.36,59.75L623.86,59.52L624.36,59.28L624.86,58.81L625.36,58.39L625.86,58.08L626.36,57.76L626.86,57.57L627.36,57.23L627.86,56.67L628.35,56.18L628.85,55.86L629.35,55.48L629.85,55.12L630.35,54.78L630.85,54.44L631.35,54.19L631.85,54.02L632.35,53.93L632.85,53.75L633.35,53.86L633.85,53.83L634.35,53.82L634.85,54.09L635.35,54.19L635.85,54.64L636.35,55.66L636.85,56.57L637.35,57.43L637.85,58.69L638.35,59.69L638.85,60.93L639.35,62.03L639.85,62.99L640.35,63.98L640.85,64.58L641.35,64.83L641.85,65.06L642.35,66.10L642.85,67.75L643.35,69.89L643.85,72.28L644.35,74.87L644.85,77.35L645.35,79.23L645.85,81.10L646.35,83.10L646.85,85.20L647.35,87.50L647.85,89.65L648.35,91.21L648.85,92.57L649.35,93.69L649.85,94.49L650.35,95.75L650.85,96.50L651.35,97.27L651.85,97.91L652.35,97.90L652.85,97.80L653.35,97.22L653.85,96.58L654.35,95.76L654.85,94.89L655.35,93.95L655.85,93.00L656.35,91.75L656.85,90.25L657.35,88.46L657.85,86.63L658.35,85.03L658.85,83.35L659.35,82.08L659.85,80.91L660.35,79.60L660.85,78.78L661.35,77.72L661.85,76.68L662.35,76.01L662.85,74.98L663.35,74.31L663.85,73.47L664.35,72.83L664.85,72.22L665.35,71.68L665.85,71.52L666.35,71.21L666.85,70.95L667.35,70.82L667.85,70.57" stroke="#7a00e8"/>
<path d="M402.90,64.43L403.40,67.06L403.90,68.23L404.40,67.12L404.90,64.76L405.40,63.00L405.90,62.89L406.40,64.15L406.90,65.46L407.40,66.02L407.90,65.40L408.40,63.96L408.90,63.07L409.40,62.89L409.90,63.41L410.40,64.44L410.90,64.96L411.40,64.78L411.90,64.12L412.40,63.68L412.90,63.64L413.40,64.21L413.90,64.98L414.40,65.41L414.90,65.40L415.40,65.00L415.90,64.72L416.40,64.63L416.90,65.08L417.40,65.61L417.90,65.77L418.40,65.80L418.90,65.51L419.40,65.20L419.90,65.25L420.40,65.36L420.90,65.54L421.40,65.55L421.90,65.56L422.40,65.40L422.90,65.19L423.40,65.10L423.90,64.98L424.40,64.88L424.90,64.77L425.40,64.60L425.90,64.48L426.40,64.23L426.90,64.07L427.40,64.08L427.89,63.93L428.39,63.96L428.89,63.96L429.39,63.99L429.89,64.13L430.39,64.28L430.89,64.29L431.39,64.38L431.89,64.46L432.39,64.63L432.89,64.93L433.39,64.96L433.89,65.26L434.39,65.59L434.89,65.67L435.39,65.84L435.89,65.81L436.39,65.56L436.89,65.59L437.39,65.80L437.89,65.79L438.39,65.78L438.89,65.88L439.39,65.65L439.89,65.45L440.39,65.43L440.89,65.34L441.39,65.24L441.89,65.28L442.39,65.05L442.89,64.93L443.39,64.63L443.89,64.50L444.39,64.41L444.89,64.28L445.39,64.31L445.89,64.03L446.39,63.90L446.89,63.65L447.39,63.64L447.89,63.77L448.39,63.92L448.89,64.07L449.39,64.22L449.89,64.27L450.39,64.41L450.89,64.52L451.39,64.61L451.89,64.80L452.39,65.05L452.89,65.33L453.39,65.59L453.89,65.77L454.39,65.80L454.89,65.75L455.39,65.77L455.89,65.47L456.39,65.44L456.89,65.35L457.39,65.08L457.89,65.47L458.39,65.37L458.89,65.23L459.39,65.40L459.89,64.99L460.39,64.92L460.89,64.95L461.39,64.62L461.89,64.73L462.39,64.55L462.89,64.50L463.39,64.53L463.89,64.28L464.39,63.99L464.89,63.91L465.39,63.83L465.89,63.93L466.39,64.34L466.89,64.42L467.39,64.42L467.89,64.48L468.39,64.44L468.89,64.57L469.39,64.57L469.89,64.81L470.39,64.91L470.89,64.91L471.39,65.15L471.89,65.15L472.39,65.32L472.89,65.40L473.39,65.42L473.89,65.42L474.39,65.40L474.89,65.30L475.39,65.18L475.89,65.09L476.39,65.01L476.89,65.06L477.39,64.89L477.88,64.76L478.38,64.66L478.88,64.47L479.38,64.45L479.88,64.37L480.38,64.46L480.88,64.54L481.38,64.75L481.88,64.88L482.38,64.87L482.88,64.91L483.38,64.98L483.88,64.94L484.38,64.86L484.88,64.96L485.38,65.03L485.88,65.11L486.38,65.07L486.88,64.91L487.38,64.75L487.88,64.94L488.38,64.94L488.88,64.88L489.38,64.66L489.88,64.16L490.38,63.78L490.88,63.42L491.38,62.90L491.88,62.64L492.38,62.71L492.88,62.92L493.38,63.51L493.88,63.93L494.38,64.28L494.88,64.54L495.38,64.63L495.88,64.71L496.38,64.74L496.88,64.73L497.38,64.88L497.88,65.11L498.38,65.32L498.88,65.49L499.38,65.47L499.88,65.29L500.38,64.97L500.88,64.89L501.38,64.91L501.88,64.84L502.38,64.80L502.88,64.76L503.38,64.64L503.88,64.57L504.38,64.63L504.88,64.60L505.38,64.79L505.88,64.79L506.38,64.77L506.88,64.75L507.38,64.61L507.88,64.82L508.38,64.88L508.88,64.90L509.38,64.76L509.88,64.76L510.38,64.63L510.88,64.61L511.38,64.60L511.88,64.58L512.38,64.67L512.88,64.57L513.38,64.65L513.88,64.69L514.38,64.75L514.88,64.80L515.38,64.93L515.88,64.92L516.38,64.87L516.88,64.99L517.38,64.82L517.88,64.79L518.38,64.96L518.88,64.95L519.38,64.88L519.88,64.85L520.38,64.69L520.88,64.60L521.38,64.80L521.88,64.64L522.38,64.62L522.88,64.60L523.38,64.66L523.88,64.90L524.38,65.14L524.88,65.19L525.38,65.06L525.88,64.86L526.38,64.50L526.88,64.50L527.38,64.50L527.88,64.52L528.37,64.52L528.87,64.56L529.37,64.48L529.87,64.54L530.37,64.69L530.87,64.55L531.37,64.67L531.87,64.73L532.37,64.65L532.87,64.71L533.37,64.67L533.87,64.59L534.37,64.60L534.87,64.62L535.37,64.54L535.87,64.49L536.37,64.40L536.87,64.26L537.37,64.25L537.87,64.30L538.37,64.41L538.87,64.56L539.37,64.39L539.87,64.39L540.37,64.35L540.87,64.19L541.37,64.53L541.87,64.58L542.37,64.66L542.87,64.85L543.37,64.84L543.87,64.81L544.37,64.66L544.87,64.52L545.37,64.41L545.87,64.36L546.37,64.60L546.87,64.60L547.37,64.56L547.87,64.65L548.37,64.49L548.87,64.56L549.37,64.64L549.87,64.62L550.37,64.69L550.87,64.75L551.37,64.67L551.87,64.55L552.37,64.46L552.87,64.40L553.37,64.46L553.87,64.32L554.37,64.50L554.87,64.38L555.37,64.31L555.87,64.47L556.37,64.35L556.87,64.46L557.37,64.58L557.87,64.70L558.37,64.66L558.87,64.77L559.37,64.60L559.87,64.39L560.37,64.66L560.87,64.64L561.37,64.68L561.87,64.75L562.37,64.45L562.87,64.28L563.37,64.23L563.87,64.17L564.37,64.02L564.87,64.05L565.37,64.03L565.87,64.23L566.37,64.39L566.87,64.48L567.37,64.43L567.87,64.10L568.37,64.03L568.87,64.03L569.37,64.15L569.87,64.33L570.37,64.35L570.87,64.15L571.37,64.05L571.87,64.27L572.37,64.16L572.87,64.29L573.37,64.41L573.87,64.06L574.37,64.19L574.87,64.26L575.37,64.31L575.87,64.42L576.37,64.31L576.87,64.07L577.37,63.97L577.87,64.00L578.36,63.94L578.86,64.09L579.36,63.95L579.86,63.88L580.36,63.99L580.86,63.97L581.36,64.06L581.86,64.11L582.36,64.18L582.86,64.16L583.36,64.23L583.86,64.16L584.36,64.09L584.86,64.10L585.36,64.05L585.86,64.09L586.36,63.95L586.86,63.92L587.36,63.94L587.86,63.94L588.36,64.02L588.86,64.03L589.36,63.99L589.86,63.98L590.36,64.01L590.86,63.96L591.36,63.90L591.86,64.01L592.36,64.10L592.86,64.35L593.36,64.31L593.86,64.08L594.36,63.87L594.86,63.64L595.36,63.60L595.86,63.69L596.36,63.80L596.86,63.93L597.36,64.08L597.86,64.12L598.36,64.03L598.86,63.75L599.36,63.72L599.86,63.63L600.36,63.67L600.86,63.87L601.36,63.96L601.86,64.04L602.36,64.17L602.86,64.11L603.36,63.95L603.86,63.87L604.36,63.71L604.86,63.59L605.36,63.59L605.86,63.44L606.36,63.49L606.86,63.44L607.36,63.23L607.86,63.28L608.36,63.18L608.86,63.05L609.36,63.07L609.86,62.87L610.36,62.61L610.86,62.60L611.36,62.50L611.86,62.45L612.36,62.46L612.86,62.52L613.36,62.49L613.86,62.51L614.36,62.52L614.86,62.42L615.36,62.44L615.86,62.51L616.36,62.64L616.86,62.83L617.36,62.78L617.86,62.88L618.36,62.86L618.86,62.96L619.36,63.14L619.86,63.23L620.36,63.06L620.86,63.08L621.36,63.21L621.86,63.08L622.36,63.21L622.86,63.22L623.36,63.02L623.86,62.93L624.36,63.01L624.86,62.64L625.36,62.55L625.86,62.55L626.36,62.32L626.86,62.25L627.36,62.16L627.86,61.73L628.35,61.57L628.85,61.42L629.35,61.07L629.85,61.10L630.35,60.81L630.85,60.65L631.35,60.58L631.85,60.47L632.35,60.47L632.85,60.40L633.35,60.41L633.85,60.28L634.35,60.38L634.85,60.47L635.35,60.56L635.85,60.83L636.35,61.05L636.85,61.31L637.35,61.78L637.85,62.21L638.35,62.71L638.85,63.26L639.35,63.51L639.85,64.04L640.35,64.34L640.85,64.56L641.35,64.79L641.85,64.90L642.35,65.51L642.85,66.57L643.35,67.55L643.85,68.68L644.35,69.81L644.85,70.65L645.35,71.54L645.85,72.20L646.35,72.80L646.85,73.43L647.35,73.85L647.85,74.44L648.35,75.05L648.85,75.39L649.35,75.91L649.85,76.27L650.35,76.20L650.85,76.38L651.35,76.23L651.85,76.19L652.35,76.26L652.85,76.07L653.35,76.08L653.85,76.03L654.35,75.85L654.85,75.60L655.35,75.37L655.85,74.90L656.35,74.51L656.85,74.25L657.35,73.79L657.85,73.48L658.35,73.11L658.85,72.56L659.35,71.95L659.85,71.36L660.35,70.92L660.85,70.30L661.35,70.02L661.85,69.44L662.35,68.97L662.85,68.61L663.35,67.95L663.85,67.55L664.35,66.94L664.85,66.56L665.35,66.19L665.85,65.83L666.35,65.55L666.85,65.19L667.35,64.75L667.85,64.33" stroke="#ff00ff"/>
</g>
<rect x="402.85" y="24.80" width="265.05" height="172.60" fill="none" stroke="#1a1a1a" stroke-width="1.2"/>
<line x1="395.35" y1="31.28" x2="402.85" y2="31.28" stroke="#1a1a1a" stroke-width="1.2" />
<line x1="395.35" y1="64.50" x2="402.85" y2="64.50" stroke="#1a1a1a" stroke-width="1.2" />
<line x1="395.35" y1="97.72" x2="402.85" y2="97.72" stroke="#1a1a1a" stroke-width="1.2" />
<line x1="395.35" y1="130.94" x2="402.85" y2="130.94" stroke="#1a1a1a" stroke-width="1.2" />
<line x1="395.35" y1="164.16" x2="402.85" y2="164.16" stroke="#1a1a1a" stroke-width="1.2" />
<line x1="395.35" y1="197.38" x2="402.85" y2="197.38" stroke="#1a1a1a" stroke-width="1.2" />
<line x1="402.90" y1="197.40" x2="402.90" y2="204.90" stroke="#1a1a1a" stroke-width="1.2" />
<line x1="452.89" y1="197.40" x2="452.89" y2="204.90" stroke="#1a1a1a" stroke-width="1.2" />
<line x1="502.88" y1="197.40" x2="502.88" y2="204.90" stroke="#1a1a1a" stroke-width="1.2" />
<line x1="552.87" y1="197.40" x2="552.87" y2="204.90" stroke="#1a1a1a" stroke-width="1.2" />
<line x1="602.86" y1="197.40" x2="602.86" y2="204.90" stroke="#1a1a1a" stroke-width="1.2" />
<line x1="652.85" y1="197.40" x2="652.85" y2="204.90" stroke="#1a1a1a" stroke-width="1.2" />
<text x="391.60" y="34.88" font-size="10.4" text-anchor="end" font-weight="normal" fill="#000" stroke="#000" stroke-width="0.22" >10</text>
<text x="391.60" y="68.10" font-size="10.4" text-anchor="end" font-weight="normal" fill="#000" stroke="#000" stroke-width="0.22" >0</text>
<text x="391.60" y="101.32" font-size="10.4" text-anchor="end" font-weight="normal" fill="#000" stroke="#000" stroke-width="0.22" >-10</text>
<text x="391.60" y="134.54" font-size="10.4" text-anchor="end" font-weight="normal" fill="#000" stroke="#000" stroke-width="0.22" >-20</text>
<text x="391.60" y="167.76" font-size="10.4" text-anchor="end" font-weight="normal" fill="#000" stroke="#000" stroke-width="0.22" >-30</text>
<text x="347.80" y="202.18" font-size="10.4" text-anchor="start" font-weight="normal" fill="#000" stroke="#000" stroke-width="0.22" >-40 x 10</text>
<text x="384.60" y="195.58" font-size="7" text-anchor="start" font-weight="normal" fill="#000" stroke="#000" stroke-width="0.22" >-3</text>
<text x="402.90" y="218.00" font-size="10.4" text-anchor="middle" font-weight="normal" fill="#000" stroke="#000" stroke-width="0.22" >400</text>
<text x="452.89" y="218.00" font-size="10.4" text-anchor="middle" font-weight="normal" fill="#000" stroke="#000" stroke-width="0.22" >500</text>
<text x="502.88" y="218.00" font-size="10.4" text-anchor="middle" font-weight="normal" fill="#000" stroke="#000" stroke-width="0.22" >600</text>
<text x="552.87" y="218.00" font-size="10.4" text-anchor="middle" font-weight="normal" fill="#000" stroke="#000" stroke-width="0.22" >700</text>
<text x="602.86" y="218.00" font-size="10.4" text-anchor="middle" font-weight="normal" fill="#000" stroke="#000" stroke-width="0.22" >800</text>
<text x="652.85" y="218.00" font-size="10.4" text-anchor="middle" font-weight="normal" fill="#000" stroke="#000" stroke-width="0.22" >900</text>
<text x="534.40" y="234.60" font-size="10.4" text-anchor="middle" font-weight="normal" fill="#000" stroke="#000" stroke-width="0.22" >Wavelength (nm)</text>
<text x="0.00" y="0.00" font-size="10" text-anchor="middle" font-weight="normal" fill="#000" stroke="#000" stroke-width="0.22" transform="translate(352.4,113.9) rotate(-90)">ΔAbsorbance</text>
<line x1="419.90" y1="99.80" x2="435.60" y2="99.80" stroke="#000" stroke-width="1.7" />
<text x="440.20" y="103.40" font-size="10.3" text-anchor="start" font-weight="normal" fill="#000" stroke="#000" stroke-width="0.22" >10 ps</text>
<line x1="419.90" y1="110.34" x2="435.60" y2="110.34" stroke="#ff0000" stroke-width="1.7" />
<text x="440.20" y="113.94" font-size="10.3" text-anchor="start" font-weight="normal" fill="#000" stroke="#000" stroke-width="0.22" >20 ps</text>
<line x1="419.90" y1="120.88" x2="435.60" y2="120.88" stroke="#ffa500" stroke-width="1.7" />
<text x="440.20" y="124.48" font-size="10.3" text-anchor="start" font-weight="normal" fill="#000" stroke="#000" stroke-width="0.22" >50 ps</text>
<line x1="419.90" y1="131.42" x2="435.60" y2="131.42" stroke="#00ffff" stroke-width="1.7" />
<text x="440.20" y="135.02" font-size="10.3" text-anchor="start" font-weight="normal" fill="#000" stroke="#000" stroke-width="0.22" >100 ps</text>
<line x1="419.90" y1="141.96" x2="435.60" y2="141.96" stroke="#0af514" stroke-width="1.7" />
<text x="440.20" y="145.56" font-size="10.3" text-anchor="start" font-weight="normal" fill="#000" stroke="#000" stroke-width="0.22" >200 ps</text>
<line x1="419.90" y1="152.50" x2="435.60" y2="152.50" stroke="#0548ff" stroke-width="1.7" />
<text x="440.20" y="156.10" font-size="10.3" text-anchor="start" font-weight="normal" fill="#000" stroke="#000" stroke-width="0.22" >500 ps</text>
<line x1="419.90" y1="163.04" x2="435.60" y2="163.04" stroke="#7a00e8" stroke-width="1.7" />
<text x="440.20" y="166.64" font-size="10.3" text-anchor="start" font-weight="normal" fill="#000" stroke="#000" stroke-width="0.22" >1000 ps</text>
<line x1="419.90" y1="173.58" x2="435.60" y2="173.58" stroke="#ff00ff" stroke-width="1.7" />
<text x="440.20" y="177.18" font-size="10.3" text-anchor="start" font-weight="normal" fill="#000" stroke="#000" stroke-width="0.22" >1700 ps</text>
<line x1="54.80" y1="329.45" x2="321.70" y2="329.45" stroke="#8c8c8c" stroke-width="1" stroke-dasharray="1 1"/>
<line x1="54.80" y1="367.30" x2="321.70" y2="367.30" stroke="#8c8c8c" stroke-width="1" stroke-dasharray="1 1"/>
<line x1="54.80" y1="405.15" x2="321.70" y2="405.15" stroke="#8c8c8c" stroke-width="1" stroke-dasharray="1 1"/>
<rect x="209.3" y="365" width="57" height="32" fill="#fff"/>
<line x1="54.80" y1="291.60" x2="321.70" y2="291.60" stroke="#555" stroke-width="1.5" />
<g fill="none" stroke-width="1.6" stroke-linejoin="round">
<path d="M54.72,292.00L55.21,291.50L55.69,291.21L56.18,291.43L56.66,290.81L57.15,290.73L57.63,290.62L58.12,291.89L58.60,292.57L59.09,291.87L59.58,291.83L60.06,291.57L60.55,292.19L61.03,292.45L61.52,291.12L62.00,291.29L62.49,293.12L62.98,292.16L63.46,290.31L63.95,291.03L64.43,291.73L64.92,292.21L65.40,292.48L65.89,290.86L66.37,290.02L66.86,290.82L67.35,291.72L67.83,293.20L68.32,292.71L68.80,290.96L69.29,290.34L69.77,289.04L70.26,289.61L70.74,290.49L71.23,291.74L71.72,291.53L72.20,289.87L72.69,289.74L73.17,289.90L73.66,290.66L74.14,289.99L74.63,290.92L75.12,291.62L75.60,290.16L76.09,291.35L76.57,293.21L77.06,292.19L77.54,291.13L78.03,291.69L78.51,296.38L79.00,306.46L79.49,318.07L79.97,328.88L80.46,341.50L80.94,352.99L81.43,360.83L81.91,362.62L82.40,357.49L82.88,356.82L83.37,355.39L83.86,351.17L84.34,350.01L84.83,348.88L85.31,347.16L85.80,345.45L86.28,342.46L86.77,339.34L87.26,337.52L87.74,335.55L88.23,333.73L88.71,333.72L89.20,331.05L89.68,327.51L90.17,327.77L90.65,325.79L91.14,323.37L91.63,323.34L92.11,320.79L92.60,321.67L93.08,323.33L93.57,319.44L94.05,317.12L94.54,317.35L95.02,314.78L95.51,312.51L96.00,313.78L96.48,313.72L96.97,310.99L97.45,308.01L97.94,309.46L98.42,309.84L98.91,307.64L99.40,308.46L99.88,307.48L100.37,306.58L100.85,306.13L101.34,302.73L101.82,301.15L102.31,301.15L102.79,300.42L103.28,300.13L103.77,299.20L104.25,299.86L104.74,300.38L105.22,298.14L105.71,297.90L106.19,298.44L106.68,296.32L107.16,294.18L107.65,295.21L108.14,296.69L108.62,295.25L109.11,293.91L109.59,294.54L110.08,293.85L110.56,292.44L111.05,292.48L111.54,290.13L112.02,288.71L112.51,290.12L112.99,290.06L113.48,287.95L113.96,287.58L114.45,290.33L114.93,290.68L115.42,289.73L115.91,290.19L116.39,289.77L116.88,288.83L117.36,288.84L117.85,289.21L118.33,288.23L118.82,288.93L119.30,288.71L119.79,287.16L120.28,287.41L120.76,289.19L121.25,287.83L121.73,287.10L122.22,289.04L122.70,286.88L123.19,286.50L123.68,287.21L124.16,288.40L124.65,288.27L125.13,286.08L125.62,285.01L126.10,285.28L126.59,285.53L127.07,284.79L127.56,285.41L128.05,286.27L128.53,283.96L129.02,283.93L129.50,284.42L129.99,283.54L130.47,283.24L130.96,283.73L131.44,284.42L131.93,283.52L132.42,284.05L132.90,283.97L133.39,284.34L133.87,284.58L134.36,284.19L134.84,283.41L135.33,283.08L135.82,284.80L136.30,284.96L136.79,283.81L137.27,284.19L137.76,282.93L138.24,281.78L138.73,282.12L139.21,283.04L139.70,284.02L140.19,282.48L140.67,283.29L141.16,283.77L141.64,282.45L142.13,283.13L142.61,283.08L143.10,283.52L143.58,283.36L144.07,283.44L144.56,284.65L145.04,282.42L145.53,281.90L146.01,284.80L146.50,283.37L146.98,282.21L147.47,285.93L147.96,285.30L148.44,281.55L148.93,281.18L149.41,280.49L149.90,280.85L150.38,281.76L150.87,282.47L151.35,282.81L151.84,280.66L152.33,280.35L152.81,281.47L153.30,283.53L153.78,283.96L154.27,283.36L154.75,282.37L155.24,281.89L155.72,282.22L156.21,282.42L156.70,281.12L157.18,281.25L157.67,282.70L158.15,279.50L158.64,279.41L159.12,282.33L159.61,281.98L160.10,280.40L160.58,280.18L161.07,282.64L161.55,283.18L162.04,283.30L162.52,281.87L163.01,280.02L163.49,281.99L163.98,281.47L164.47,280.66L164.95,282.21L165.44,281.25L165.92,280.44L166.41,283.28L166.89,281.89L167.38,279.11L167.86,279.22L168.35,280.04L168.84,281.84L169.32,281.50L169.81,279.18L170.29,279.28L170.78,279.49L171.26,280.82L171.75,281.30L172.24,279.85L172.72,281.96L173.21,284.11L173.69,283.45L174.18,282.01L174.66,281.02L175.15,281.27L175.63,281.70L176.12,281.60L176.61,281.46L177.09,280.87L177.58,280.52L178.06,281.06L178.55,281.25L179.03,281.58L179.52,281.12L180.00,281.16L180.49,280.45L180.98,280.04L181.46,281.19L181.95,281.81L182.43,282.33L182.92,281.54L183.40,281.23L183.89,281.89L184.38,282.89L184.86,282.32L185.35,281.21L185.83,280.78L186.32,279.85L186.80,280.58L187.29,283.31L187.77,283.17L188.26,283.04L188.75,284.00L189.23,281.57L189.72,280.00L190.20,281.42L190.69,283.68L195.54,280.72L200.40,281.80L205.26,278.95L210.11,282.81L214.97,280.13L219.82,282.40L224.68,280.20L229.54,282.87L234.39,280.66L239.25,282.25L244.10,282.80L248.96,281.96L253.82,281.18L258.67,281.32L263.53,279.82L268.38,280.86L273.24,285.46L278.10,282.56L282.95,284.71L287.81,282.63L292.66,281.35L297.52,283.98L302.38,283.82L307.23,282.12L312.09,282.73L316.94,280.31L321.80,282.02" stroke="#000000"/>
<path d="M54.72,290.32L55.21,291.97L55.69,292.43L56.18,292.18L56.66,290.27L57.15,289.23L57.63,290.24L58.12,292.20L58.60,292.88L59.09,293.53L59.58,292.69L60.06,290.09L60.55,292.44L61.03,295.78L61.52,292.22L62.00,291.68L62.49,292.69L62.98,292.36L63.46,291.94L63.95,290.01L64.43,290.59L64.92,290.55L65.40,290.66L65.89,290.90L66.37,289.23L66.86,288.72L67.35,291.07L67.83,292.86L68.32,292.46L68.80,291.92L69.29,291.63L69.77,291.98L70.26,291.43L70.74,290.82L71.23,291.10L71.72,291.13L72.20,290.89L72.69,292.02L73.17,291.11L73.66,289.65L74.14,290.72L74.63,290.47L75.12,289.87L75.60,289.75L76.09,290.55L76.57,291.41L77.06,293.19L77.54,292.82L78.03,291.75L78.51,293.65L79.00,293.46L79.49,297.85L79.97,303.10L80.46,303.05L80.94,305.45L81.43,308.98L81.91,314.73L82.40,320.32L82.88,321.79L83.37,324.54L83.86,326.79L84.34,329.15L84.83,332.69L85.31,334.00L85.80,335.78L86.28,337.27L86.77,338.71L87.26,339.79L87.74,340.44L88.23,340.92L88.71,342.51L89.20,344.82L89.68,343.68L90.17,342.66L90.65,344.57L91.14,345.53L91.63,346.09L92.11,344.39L92.60,345.26L93.08,345.90L93.57,345.48L94.05,346.95L94.54,346.65L95.02,347.65L95.51,346.74L96.00,345.83L96.48,347.20L96.97,349.03L97.45,346.99L97.94,344.99L98.42,346.98L98.91,348.75L99.40,348.75L99.88,348.53L100.37,347.79L100.85,348.88L101.34,350.08L101.82,349.97L102.31,348.81L102.79,346.39L103.28,347.72L103.77,348.90L104.25,347.43L104.74,348.15L105.22,350.25L105.71,348.85L106.19,347.32L106.68,348.32L107.16,347.21L107.65,346.57L108.14,349.40L108.62,349.05L109.11,347.16L109.59,345.44L110.08,345.12L110.56,346.81L111.05,346.09L111.54,345.38L112.02,346.84L112.51,346.67L112.99,345.37L113.48,343.87L113.96,340.99L114.45,343.05L114.93,345.90L115.42,345.28L115.91,344.62L116.39,344.09L116.88,343.02L117.36,340.92L117.85,341.78L118.33,343.84L118.82,343.91L119.30,340.96L119.79,337.50L120.28,339.53L120.76,341.86L121.25,339.82L121.73,336.76L122.22,335.44L122.70,335.81L123.19,335.65L123.68,335.04L124.16,335.73L124.65,333.76L125.13,332.77L125.62,335.16L126.10,335.14L126.59,335.09L127.07,334.18L127.56,331.25L128.05,332.02L128.53,331.54L129.02,327.91L129.50,328.15L129.99,330.76L130.47,331.45L130.96,330.20L131.44,330.13L131.93,330.51L132.42,329.07L132.90,327.58L133.39,326.28L133.87,326.78L134.36,325.12L134.84,322.52L135.33,322.99L135.82,324.17L136.30,322.94L136.79,322.22L137.27,321.74L137.76,320.01L138.24,322.20L138.73,323.28L139.21,320.31L139.70,318.60L140.19,320.21L140.67,320.68L141.16,320.08L141.64,320.74L142.13,320.87L142.61,320.52L143.10,320.49L143.58,319.17L144.07,319.41L144.56,318.89L145.04,317.59L145.53,317.27L146.01,316.23L146.50,315.47L146.98,315.41L147.47,315.61L147.96,316.06L148.44,315.88L148.93,316.25L149.41,316.71L149.90,314.84L150.38,314.35L150.87,314.34L151.35,315.00L151.84,313.83L152.33,313.09L152.81,313.73L153.30,312.92L153.78,312.12L154.27,312.17L154.75,313.71L155.24,314.86L155.72,313.92L156.21,312.96L156.70,311.87L157.18,309.09L157.67,311.42L158.15,313.73L158.64,311.04L159.12,308.37L159.61,308.10L160.10,308.69L160.58,308.23L161.07,307.72L161.55,306.38L162.04,306.08L162.52,308.56L163.01,309.34L163.49,307.72L163.98,307.80L164.47,308.01L164.95,307.51L165.44,307.70L165.92,306.33L166.41,305.82L166.89,307.31L167.38,307.42L167.86,306.16L168.35,303.29L168.84,302.89L169.32,303.32L169.81,302.92L170.29,306.21L170.78,306.16L171.26,304.76L171.75,306.26L172.24,306.32L172.72,303.18L173.21,303.51L173.69,305.65L174.18,302.90L174.66,301.53L175.15,304.12L175.63,304.71L176.12,303.43L176.61,303.36L177.09,302.01L177.58,302.22L178.06,303.09L178.55,301.00L179.03,302.29L179.52,303.88L180.00,301.51L180.49,302.18L180.98,303.05L181.46,302.93L181.95,301.98L182.43,301.11L182.92,300.27L183.40,298.46L183.89,298.92L184.38,300.00L184.86,299.55L185.35,298.88L185.83,300.05L186.32,298.84L186.80,297.25L187.29,297.31L187.77,298.63L188.26,298.37L188.75,294.92L189.23,295.05L189.72,298.35L190.20,298.85L190.69,297.82L195.54,296.92L200.40,291.27L205.26,290.27L210.11,291.15L214.97,289.57L219.82,287.40L224.68,287.70L229.54,284.68L234.39,285.11L239.25,283.37L244.10,282.58L248.96,280.58L253.82,282.68L258.67,280.22L263.53,283.03L268.38,281.04L273.24,279.00L278.10,278.32L282.95,279.41L287.81,279.06L292.66,276.49L297.52,278.95L302.38,276.85L307.23,278.15L312.09,277.63L316.94,275.07L321.80,276.10" stroke="#0548ff"/>
<path d="M54.72,290.64L55.21,289.09L55.69,289.49L56.18,288.09L56.66,289.75L57.15,290.78L57.63,288.79L58.12,289.87L58.60,288.15L59.09,288.65L59.58,290.40L60.06,288.95L60.55,291.25L61.03,292.81L61.52,291.49L62.00,289.12L62.49,287.08L62.98,287.26L63.46,287.98L63.95,290.90L64.43,290.91L64.92,289.12L65.40,288.10L65.89,286.14L66.37,285.01L66.86,285.68L67.35,287.18L67.83,289.01L68.32,289.79L68.80,290.00L69.29,289.14L69.77,289.10L70.26,290.27L70.74,289.88L71.23,290.15L71.72,288.80L72.20,288.90L72.69,289.15L73.17,289.61L73.66,288.37L74.14,288.00L74.63,288.40L75.12,285.47L75.60,289.11L76.09,292.41L76.57,290.06L77.06,287.90L77.54,288.56L78.03,289.95L78.51,290.94L79.00,291.62L79.49,294.00L79.97,297.09L80.46,303.31L80.94,310.94L81.43,310.45L81.91,313.27L82.40,321.70L82.88,324.51L83.37,325.91L83.86,329.92L84.34,334.02L84.83,336.82L85.31,337.86L85.80,342.10L86.28,343.67L86.77,343.65L87.26,344.31L87.74,344.01L88.23,347.24L88.71,350.38L89.20,350.56L89.68,350.26L90.17,351.93L90.65,353.79L91.14,353.79L91.63,354.35L92.11,354.98L92.60,356.50L93.08,360.12L93.57,363.75L94.05,363.47L94.54,363.41L95.02,365.99L95.51,367.21L96.00,369.77L96.48,371.14L96.97,373.48L97.45,374.72L97.94,374.12L98.42,372.94L98.91,372.69L99.40,376.03L99.88,377.46L100.37,377.56L100.85,379.62L101.34,381.68L101.82,382.26L102.31,380.34L102.79,380.82L103.28,386.46L103.77,386.53L104.25,382.48L104.74,385.11L105.22,384.87L105.71,384.61L106.19,387.92L106.68,389.10L107.16,391.08L107.65,392.39L108.14,393.82L108.62,395.36L109.11,393.56L109.59,393.04L110.08,394.39L110.56,393.33L111.05,394.92L111.54,395.72L112.02,395.61L112.51,396.68L112.99,397.00L113.48,396.89L113.96,398.51L114.45,400.43L114.93,400.72L115.42,399.68L115.91,397.77L116.39,396.81L116.88,398.45L117.36,399.51L117.85,400.22L118.33,400.56L118.82,401.08L119.30,402.36L119.79,403.33L120.28,404.28L120.76,402.47L121.25,404.27L121.73,406.83L122.22,406.70L122.70,406.19L123.19,404.12L123.68,405.99L124.16,411.42L124.65,410.91L125.13,407.75L125.62,410.70L126.10,412.08L126.59,410.79L127.07,413.45L127.56,413.07L128.05,410.51L128.53,411.37L129.02,413.35L129.50,414.72L129.99,414.60L130.47,413.63L130.96,414.32L131.44,413.57L131.93,412.39L132.42,416.61L132.90,415.48L133.39,413.23L133.87,415.91L134.36,416.23L134.84,417.86L135.33,418.02L135.82,418.95L136.30,420.50L136.79,416.62L137.27,414.39L137.76,416.45L138.24,419.08L138.73,417.93L139.21,417.16L139.70,418.16L140.19,417.65L140.67,419.26L141.16,419.30L141.64,420.64L142.13,420.14L142.61,419.77L143.10,422.25L143.58,421.49L144.07,420.23L144.56,418.91L145.04,419.52L145.53,419.95L146.01,420.03L146.50,420.90L146.98,423.68L147.47,426.30L147.96,426.92L148.44,424.67L148.93,422.61L149.41,422.90L149.90,422.60L150.38,422.89L150.87,424.40L151.35,425.96L151.84,427.11L152.33,424.34L152.81,421.47L153.30,424.44L153.78,425.89L154.27,424.11L154.75,422.25L155.24,423.54L155.72,425.25L156.21,423.49L156.70,425.73L157.18,427.93L157.67,426.24L158.15,426.37L158.64,424.18L159.12,422.60L159.61,424.83L160.10,426.96L160.58,426.37L161.07,424.78L161.55,426.42L162.04,427.72L162.52,428.89L163.01,428.64L163.49,426.25L163.98,425.22L164.47,425.67L164.95,426.00L165.44,427.41L165.92,428.96L166.41,427.16L166.89,426.30L167.38,428.62L167.86,428.72L168.35,427.10L168.84,427.02L169.32,427.95L169.81,429.42L170.29,429.25L170.78,426.99L171.26,427.41L171.75,430.12L172.24,430.05L172.72,430.81L173.21,431.08L173.69,430.21L174.18,429.56L174.66,429.27L175.15,429.32L175.63,427.09L176.12,428.61L176.61,432.17L177.09,431.59L177.58,430.93L178.06,431.43L178.55,432.15L179.03,431.86L179.52,431.29L180.00,434.41L180.49,434.93L180.98,432.43L181.46,431.11L181.95,432.33L182.43,434.71L182.92,433.07L183.40,433.11L183.89,434.48L184.38,433.55L184.86,433.10L185.35,433.83L185.83,436.06L186.32,435.19L186.80,434.65L187.29,436.49L187.77,434.02L188.26,432.65L188.75,436.10L189.23,437.67L189.72,436.87L190.20,437.20L190.69,434.62L195.54,435.29L200.40,436.18L205.26,435.22L210.11,434.97L214.97,439.01L219.82,438.29L224.68,439.14L229.54,436.87L234.39,437.90L239.25,441.13L244.10,439.94L248.96,435.39L253.82,440.88L258.67,438.76L263.53,440.36L268.38,436.72L273.24,439.31L278.10,440.03L282.95,441.44L287.81,439.56L292.66,437.37L297.52,437.58L302.38,441.37L307.23,435.57L312.09,438.94L316.94,440.33L321.80,437.80" stroke="#ff0000"/>
</g>
<rect x="54.80" y="271.20" width="266.90" height="172.10" fill="none" stroke="#1a1a1a" stroke-width="1.2"/>
<line x1="47.30" y1="291.60" x2="54.80" y2="291.60" stroke="#1a1a1a" stroke-width="1.2" />
<line x1="47.30" y1="329.45" x2="54.80" y2="329.45" stroke="#1a1a1a" stroke-width="1.2" />
<line x1="47.30" y1="367.30" x2="54.80" y2="367.30" stroke="#1a1a1a" stroke-width="1.2" />
<line x1="47.30" y1="405.15" x2="54.80" y2="405.15" stroke="#1a1a1a" stroke-width="1.2" />
<line x1="47.30" y1="443.00" x2="54.80" y2="443.00" stroke="#1a1a1a" stroke-width="1.2" />
<line x1="79.00" y1="443.30" x2="79.00" y2="451.30" stroke="#1a1a1a" stroke-width="1.2" />
<line x1="127.56" y1="443.30" x2="127.56" y2="451.30" stroke="#1a1a1a" stroke-width="1.2" />
<line x1="176.12" y1="443.30" x2="176.12" y2="451.30" stroke="#1a1a1a" stroke-width="1.2" />
<line x1="224.68" y1="443.30" x2="224.68" y2="451.30" stroke="#1a1a1a" stroke-width="1.2" />
<line x1="273.24" y1="443.30" x2="273.24" y2="451.30" stroke="#1a1a1a" stroke-width="1.2" />
<line x1="321.80" y1="443.30" x2="321.80" y2="451.30" stroke="#1a1a1a" stroke-width="1.2" />
<text x="43.60" y="295.20" font-size="10.4" text-anchor="end" font-weight="normal" fill="#000" stroke="#000" stroke-width="0.22" >0</text>
<text x="43.60" y="333.05" font-size="10.4" text-anchor="end" font-weight="normal" fill="#000" stroke="#000" stroke-width="0.22" >-10</text>
<text x="43.60" y="370.90" font-size="10.4" text-anchor="end" font-weight="normal" fill="#000" stroke="#000" stroke-width="0.22" >-20</text>
<text x="43.60" y="408.75" font-size="10.4" text-anchor="end" font-weight="normal" fill="#000" stroke="#000" stroke-width="0.22" >-30</text>
<text x="-0.20" y="447.80" font-size="10.4" text-anchor="start" font-weight="normal" fill="#000" stroke="#000" stroke-width="0.22" >-40 x 10</text>
<text x="36.60" y="441.20" font-size="7" text-anchor="start" font-weight="normal" fill="#000" stroke="#000" stroke-width="0.22" >-3</text>
<text x="79.00" y="464.00" font-size="10.4" text-anchor="middle" font-weight="normal" fill="#000" stroke="#000" stroke-width="0.22" >0</text>
<text x="127.56" y="464.00" font-size="10.4" text-anchor="middle" font-weight="normal" fill="#000" stroke="#000" stroke-width="0.22" >2</text>
<text x="176.12" y="464.00" font-size="10.4" text-anchor="middle" font-weight="normal" fill="#000" stroke="#000" stroke-width="0.22" >4</text>
<text x="224.68" y="464.00" font-size="10.4" text-anchor="middle" font-weight="normal" fill="#000" stroke="#000" stroke-width="0.22" >6</text>
<text x="273.24" y="464.00" font-size="10.4" text-anchor="middle" font-weight="normal" fill="#000" stroke="#000" stroke-width="0.22" >8</text>
<text x="321.80" y="464.00" font-size="10.4" text-anchor="middle" font-weight="normal" fill="#000" stroke="#000" stroke-width="0.22" >10</text>
<text x="188.40" y="480.60" font-size="10.4" text-anchor="middle" font-weight="normal" fill="#000" stroke="#000" stroke-width="0.22" >Time (ps)</text>
<text x="0.00" y="0.00" font-size="10" text-anchor="middle" font-weight="normal" fill="#000" stroke="#000" stroke-width="0.22" transform="translate(11.4,357.4) rotate(-90)">ΔAbsorbance</text>
<line x1="211.10" y1="371.10" x2="226.60" y2="371.10" stroke="#000" stroke-width="1.7" />
<text x="231.00" y="374.70" font-size="10.3" text-anchor="start" font-weight="normal" fill="#000" stroke="#000" stroke-width="0.22" >800 nm</text>
<line x1="211.10" y1="381.30" x2="226.60" y2="381.30" stroke="#0548ff" stroke-width="1.7" />
<text x="231.00" y="384.90" font-size="10.3" text-anchor="start" font-weight="normal" fill="#000" stroke="#000" stroke-width="0.22" >840 nm</text>
<line x1="211.10" y1="391.50" x2="226.60" y2="391.50" stroke="#ff0000" stroke-width="1.7" />
<text x="231.00" y="395.10" font-size="10.3" text-anchor="start" font-weight="normal" fill="#000" stroke="#000" stroke-width="0.22" >900 nm</text>
<line x1="399.60" y1="293.30" x2="451.70" y2="293.30" stroke="#000" stroke-width="2.2" />
<line x1="490.90" y1="311.30" x2="543.00" y2="311.30" stroke="#000" stroke-width="2.2" />
<line x1="581.70" y1="330.60" x2="633.90" y2="330.60" stroke="#000" stroke-width="2.2" />
<line x1="399.50" y1="424.00" x2="451.50" y2="424.00" stroke="#000" stroke-width="2.2" />
<line x1="490.60" y1="424.00" x2="542.60" y2="424.00" stroke="#000" stroke-width="2.2" />
<line x1="581.60" y1="424.00" x2="633.70" y2="424.00" stroke="#000" stroke-width="2.2" />
<line x1="425.50" y1="294.50" x2="425.50" y2="414.00" stroke="#000" stroke-width="1.45" stroke-dasharray="1.3 1.1"/>
<line x1="516.60" y1="312.50" x2="516.60" y2="414.00" stroke="#dc1a62" stroke-width="1.45" stroke-dasharray="1.3 1.1"/>
<line x1="607.80" y1="331.80" x2="607.80" y2="414.00" stroke="#1ea0e6" stroke-width="1.45" stroke-dasharray="1.3 1.1"/>
<path d="M425.60,422.60 L421.00,412.10 L425.60,414.60 L430.20,412.10 Z" fill="#000"/>
<path d="M516.70,422.60 L512.10,412.10 L516.70,414.60 L521.30,412.10 Z" fill="#dc1a62"/>
<path d="M607.80,422.60 L603.20,412.10 L607.80,414.60 L612.40,412.10 Z" fill="#1ea0e6"/>
<path d="M457.3,294.2 L478.5,306.2" stroke="#000" stroke-width="1.6" fill="none"/>
<path d="M484.00,309.30 L473.66,308.28 L477.91,305.85 L477.80,300.97 Z" fill="#000"/>
<path d="M550.1,313.8 L571.5,325.5" stroke="#dc1a62" stroke-width="1.6" fill="none"/>
<path d="M577.20,328.60 L566.85,327.73 L571.06,325.24 L570.88,320.36 Z" fill="#dc1a62"/>
<path d="M457.40,291.80L458.79,290.80L460.21,289.86L461.66,288.98L463.14,288.15L464.65,287.37L466.18,286.65L467.74,285.98L469.32,285.36L470.92,284.78L472.53,284.25L474.16,283.76L475.81,283.31L477.46,282.90L479.12,282.52L480.79,282.18L482.46,281.88L484.13,281.60L485.81,281.36L487.50,281.14L489.18,280.94L490.87,280.77L492.56,280.62L494.25,280.48L495.95,280.36L497.64,280.26L499.34,280.18L501.04,280.12L502.73,280.08L504.43,280.06L506.13,280.08L507.82,280.12L509.52,280.19L511.21,280.29L512.90,280.41L514.59,280.56L516.28,280.74L517.97,280.93L519.66,281.15L521.34,281.39L523.02,281.66L524.70,281.95L526.37,282.29L528.02,282.66L529.66,283.09L531.29,283.57L532.89,284.11L534.48,284.71L536.05,285.36L537.60,286.06L539.13,286.80L540.65,287.58L542.15,288.38L543.63,289.21L545.10,290.06L546.56,290.93L548.00,291.82L549.43,292.74L550.84,293.67L552.25,294.63L553.63,295.61L555.00,296.60L556.37,297.62L557.72,298.65L559.06,299.69L560.38,300.75L561.70,301.82L563.01,302.90L564.30,304.01L565.56,305.14L566.80,306.31L568.00,307.51L569.16,308.74L570.28,310.01L571.38,311.30L572.46,312.62L573.51,313.95L574.55,315.30L575.58,316.65L576.60,318.00" stroke="#000" stroke-width="1.6" fill="none" stroke-linejoin="round"/>
<path d="M580.40,322.40 L571.15,317.68 L575.98,316.97 L577.66,312.38 Z" fill="#000"/>
<text x="481.00" y="274.40" font-size="15.5" fill="#000" stroke="#000" stroke-width="0.2">(0.8 ps)<tspan font-size="11" dx="0.6" dy="-5.2">-1</tspan></text>
<text x="435.70" y="332.30" font-size="15.5" fill="#000" stroke="#000" stroke-width="0.2">(0.8 ps)<tspan font-size="11" dx="0.6" dy="-5.2">-1</tspan></text>
<text x="524.00" y="349.50" font-size="15.5" fill="#dc1a62" stroke="#dc1a62" stroke-width="0.2">(2.2 ps)<tspan font-size="11" dx="0.6" dy="-5.2">-1</tspan></text>
<text x="616.70" y="380.40" font-size="15.5" fill="#1ea0e6" stroke="#1ea0e6" stroke-width="0.2">(720 ps)<tspan font-size="11" dx="0.6" dy="-5.2">-1</tspan></text>
<text x="402.70" y="446.10" font-size="19" font-weight="bold" fill="#000">B797</text>
<text x="495.70" y="445.80" font-size="19" font-weight="bold" fill="#000">LH2-</text>
<text x="495.70" y="465.00" font-size="19" font-weight="bold" fill="#000">B835</text>
<text x="587.20" y="445.80" font-size="19" font-weight="bold" fill="#000">LH1-</text>
<text x="587.20" y="465.00" font-size="19" font-weight="bold" fill="#000">B883</text>
</svg>
</body></html>
